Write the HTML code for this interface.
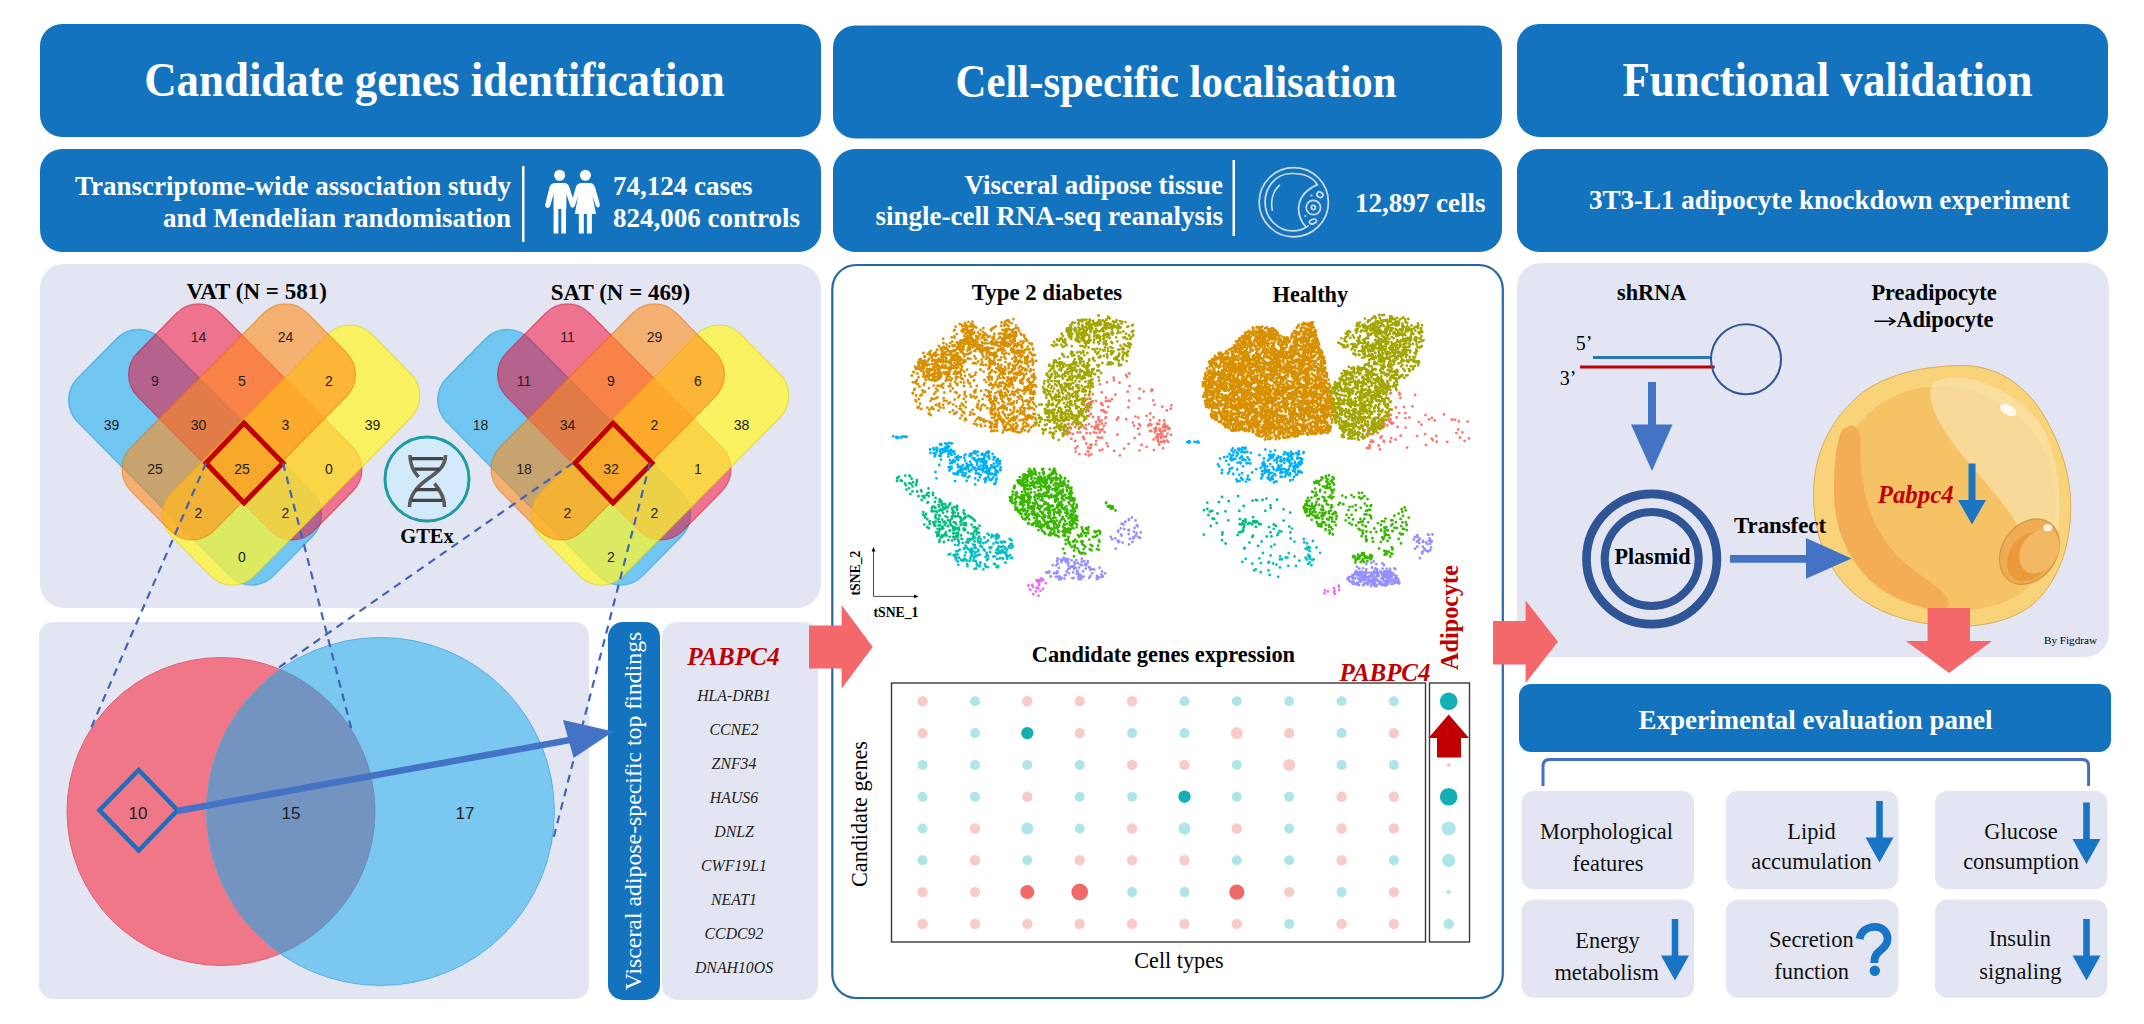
<!DOCTYPE html>
<html><head><meta charset="utf-8"><style>
html,body{margin:0;padding:0;background:#fff;overflow:hidden;width:2144px;height:1024px;}
svg{display:block;font-family:"Liberation Serif", serif;}
</style></head><body>
<svg width="2144" height="1024" viewBox="0 0 2144 1024">
<rect x="40" y="24" width="781" height="113" rx="22" fill="#1473be"/>
<rect x="40" y="149" width="781" height="103" rx="22" fill="#1473be"/>
<rect x="833" y="25.5" width="669" height="113" rx="22" fill="#1473be"/>
<rect x="833" y="149" width="669" height="103" rx="22" fill="#1473be"/>
<rect x="1517" y="24" width="591" height="113" rx="22" fill="#1473be"/>
<rect x="1517" y="149" width="591" height="103" rx="22" fill="#1473be"/>
<text x="434.5" y="96" font-size="47.5" font-weight="bold" font-style="normal" fill="#fff" text-anchor="middle" textLength="580.6" lengthAdjust="spacingAndGlyphs">Candidate genes identification</text>
<text x="1176" y="97" font-size="45.5" font-weight="bold" font-style="normal" fill="#fff" text-anchor="middle" textLength="441" lengthAdjust="spacingAndGlyphs">Cell-specific localisation</text>
<text x="1827.4" y="96" font-size="47.5" font-weight="bold" font-style="normal" fill="#fff" text-anchor="middle" textLength="410" lengthAdjust="spacingAndGlyphs">Functional validation</text>
<text x="511" y="195" font-size="27" font-weight="bold" font-style="normal" fill="#fff" text-anchor="end" >Transcriptome-wide association study</text>
<text x="511" y="227" font-size="27" font-weight="bold" font-style="normal" fill="#fff" text-anchor="end" >and Mendelian randomisation</text>
<text x="613" y="195" font-size="27" font-weight="bold" font-style="normal" fill="#fff" text-anchor="start" >74,124 cases</text>
<text x="613" y="227" font-size="27" font-weight="bold" font-style="normal" fill="#fff" text-anchor="start" >824,006 controls</text>
<rect x="522" y="166" width="2.5" height="76" fill="#fff"/>
<text x="1223" y="194" font-size="27" font-weight="bold" font-style="normal" fill="#fff" text-anchor="end" >Visceral adipose tissue</text>
<text x="1223" y="225" font-size="27" font-weight="bold" font-style="normal" fill="#fff" text-anchor="end" >single-cell RNA-seq reanalysis</text>
<text x="1355" y="212" font-size="27" font-weight="bold" font-style="normal" fill="#fff" text-anchor="start" >12,897 cells</text>
<rect x="1232.5" y="160" width="2.5" height="76" fill="#fff"/>
<text x="1589" y="209" font-size="27" font-weight="bold" font-style="normal" fill="#fff" text-anchor="start" >3T3-L1 adipocyte knockdown experiment</text>
<rect x="40" y="264" width="781" height="344" rx="24" fill="#e3e6f2"/>
<rect x="39" y="622" width="550" height="377" rx="14" fill="#e3e6f2"/>
<rect x="608" y="622" width="52" height="378" rx="15" fill="#1473be"/>
<rect x="662" y="622" width="156" height="378" rx="15" fill="#e3e6f2"/>
<rect x="832.3" y="265" width="670.5" height="733" rx="24" fill="#fff" stroke="#2468aa" stroke-width="2.2"/>
<rect x="1517" y="263" width="592" height="394" rx="24" fill="#e3e6f2"/>
<rect x="1519" y="684" width="592" height="68" rx="12" fill="#1473be"/>
<text x="1815.4" y="729" font-size="27" font-weight="bold" font-style="normal" fill="#fff" text-anchor="middle" >Experimental evaluation panel</text>
<polygon points="809,625.4 841.6,625.4 841.6,605 872.7,647 841.6,688.8 841.6,668.4 809,668.4" fill="#f4686c"/>
<g transform="translate(540,165) scale(0.07328)" fill="#fff"><circle cx="268" cy="140" r="75"/><circle cx="620" cy="140" r="75"/><path d="M185,600 L185,400 L140,555 Q125,590 95,585 Q65,575 72,540 L130,300 Q150,245 210,245 L330,245 Q380,245 400,300 L470,520 Q480,570 450,580 Q420,585 410,550 L360,400 L360,600 Z"/><rect x="185" y="590" width="65" height="345"/><rect x="290" y="590" width="65" height="345"/><path d="M475,670 L520,420 L480,550 Q470,585 440,580 Q415,570 425,530 L490,300 Q510,245 570,245 L680,245 Q730,245 750,300 L815,530 Q825,570 800,580 Q770,585 760,550 L715,420 L765,670 Z"/><rect x="530" y="660" width="68" height="275"/><rect x="640" y="660" width="68" height="275"/></g>
<g transform="translate(1220,150) scale(0.1306)" fill="none" stroke="#cfdcec" stroke-width="13" stroke-linecap="round"><circle cx="565" cy="400" r="265"/><path d="M745,265 C700,190 620,178 545,180 C420,182 345,290 345,400 C345,520 440,620 560,620 C600,620 640,605 660,590 C610,540 595,470 605,420 C620,330 690,290 745,265 Z"/><circle cx="715" cy="440" r="55"/><circle cx="715" cy="440" r="16"/><ellipse cx="765" cy="342" rx="24" ry="20" transform="rotate(30 765 342)"/><ellipse cx="712" cy="548" rx="28" ry="17" transform="rotate(-20 712 548)"/><path d="M455,270 C410,310 385,380 400,460"/></g><g fill="#cfdcec"><circle cx="1311.5" cy="195.5" r="1.1"/><circle cx="1305.5" cy="216" r="1.1"/><circle cx="1308" cy="226" r="1"/></g>
<text x="256.7" y="299" font-size="23" font-weight="bold" font-style="normal" fill="#000" text-anchor="middle" >VAT (N = 581)</text>
<text x="620.5" y="300" font-size="23" font-weight="bold" font-style="normal" fill="#000" text-anchor="middle" >SAT (N = 469)</text>
<g transform="matrix(43.5,-44,-43.5,-44,242,555)">
<rect x="-0.38" y="-0.6" width="1.900" height="4.500" rx="0.5" ry="0.5" fill="#14acf0" fill-opacity="0.55" stroke="#0a90d0" stroke-opacity="0.5" stroke-width="1.2" vector-effect="non-scaling-stroke"/>
<rect x="0.6" y="-0.55" width="1.900" height="4.050" rx="0.5" ry="0.5" fill="#f9002a" fill-opacity="0.5" stroke="#d0002a" stroke-opacity="0.5" stroke-width="1.2" vector-effect="non-scaling-stroke"/>
<rect x="-0.6" y="-0.38" width="4.600" height="1.900" rx="0.5" ry="0.5" fill="#fff530" fill-opacity="0.75" stroke="#d8cc00" stroke-opacity="0.5" stroke-width="1.2" vector-effect="non-scaling-stroke"/>
<rect x="-0.55" y="0.6" width="4.050" height="1.900" rx="0.5" ry="0.5" fill="#ff8c19" fill-opacity="0.6" stroke="#e07000" stroke-opacity="0.5" stroke-width="1.2" vector-effect="non-scaling-stroke"/>
</g>
<text x="111.5" y="429.5" font-family="Liberation Sans, sans-serif" font-size="14" fill="#222" text-anchor="middle">39</text>
<text x="372.5" y="429.5" font-family="Liberation Sans, sans-serif" font-size="14" fill="#222" text-anchor="middle">39</text>
<text x="198.5" y="341.5" font-family="Liberation Sans, sans-serif" font-size="14" fill="#222" text-anchor="middle">14</text>
<text x="285.5" y="341.5" font-family="Liberation Sans, sans-serif" font-size="14" fill="#222" text-anchor="middle">24</text>
<text x="155.0" y="385.5" font-family="Liberation Sans, sans-serif" font-size="14" fill="#222" text-anchor="middle">9</text>
<text x="242.0" y="385.5" font-family="Liberation Sans, sans-serif" font-size="14" fill="#222" text-anchor="middle">5</text>
<text x="329.0" y="385.5" font-family="Liberation Sans, sans-serif" font-size="14" fill="#222" text-anchor="middle">2</text>
<text x="198.5" y="429.5" font-family="Liberation Sans, sans-serif" font-size="14" fill="#222" text-anchor="middle">30</text>
<text x="285.5" y="429.5" font-family="Liberation Sans, sans-serif" font-size="14" fill="#222" text-anchor="middle">3</text>
<text x="155.0" y="473.5" font-family="Liberation Sans, sans-serif" font-size="14" fill="#222" text-anchor="middle">25</text>
<text x="242.0" y="473.5" font-family="Liberation Sans, sans-serif" font-size="14" fill="#222" text-anchor="middle">25</text>
<text x="329.0" y="473.5" font-family="Liberation Sans, sans-serif" font-size="14" fill="#222" text-anchor="middle">0</text>
<text x="198.5" y="517.5" font-family="Liberation Sans, sans-serif" font-size="14" fill="#222" text-anchor="middle">2</text>
<text x="285.5" y="517.5" font-family="Liberation Sans, sans-serif" font-size="14" fill="#222" text-anchor="middle">2</text>
<text x="242.0" y="561.5" font-family="Liberation Sans, sans-serif" font-size="14" fill="#222" text-anchor="middle">0</text>
<polygon points="244,423 283,463 244,503 206,463" fill="none" stroke="#c00000" stroke-width="5" stroke-linejoin="miter"/>
<g transform="matrix(43.5,-44,-43.5,-44,611,555)">
<rect x="-0.38" y="-0.6" width="1.900" height="4.500" rx="0.5" ry="0.5" fill="#14acf0" fill-opacity="0.55" stroke="#0a90d0" stroke-opacity="0.5" stroke-width="1.2" vector-effect="non-scaling-stroke"/>
<rect x="0.6" y="-0.55" width="1.900" height="4.050" rx="0.5" ry="0.5" fill="#f9002a" fill-opacity="0.5" stroke="#d0002a" stroke-opacity="0.5" stroke-width="1.2" vector-effect="non-scaling-stroke"/>
<rect x="-0.6" y="-0.38" width="4.600" height="1.900" rx="0.5" ry="0.5" fill="#fff530" fill-opacity="0.75" stroke="#d8cc00" stroke-opacity="0.5" stroke-width="1.2" vector-effect="non-scaling-stroke"/>
<rect x="-0.55" y="0.6" width="4.050" height="1.900" rx="0.5" ry="0.5" fill="#ff8c19" fill-opacity="0.6" stroke="#e07000" stroke-opacity="0.5" stroke-width="1.2" vector-effect="non-scaling-stroke"/>
</g>
<text x="480.5" y="429.5" font-family="Liberation Sans, sans-serif" font-size="14" fill="#222" text-anchor="middle">18</text>
<text x="741.5" y="429.5" font-family="Liberation Sans, sans-serif" font-size="14" fill="#222" text-anchor="middle">38</text>
<text x="567.5" y="341.5" font-family="Liberation Sans, sans-serif" font-size="14" fill="#222" text-anchor="middle">11</text>
<text x="654.5" y="341.5" font-family="Liberation Sans, sans-serif" font-size="14" fill="#222" text-anchor="middle">29</text>
<text x="524.0" y="385.5" font-family="Liberation Sans, sans-serif" font-size="14" fill="#222" text-anchor="middle">11</text>
<text x="611.0" y="385.5" font-family="Liberation Sans, sans-serif" font-size="14" fill="#222" text-anchor="middle">9</text>
<text x="698.0" y="385.5" font-family="Liberation Sans, sans-serif" font-size="14" fill="#222" text-anchor="middle">6</text>
<text x="567.5" y="429.5" font-family="Liberation Sans, sans-serif" font-size="14" fill="#222" text-anchor="middle">34</text>
<text x="654.5" y="429.5" font-family="Liberation Sans, sans-serif" font-size="14" fill="#222" text-anchor="middle">2</text>
<text x="524.0" y="473.5" font-family="Liberation Sans, sans-serif" font-size="14" fill="#222" text-anchor="middle">18</text>
<text x="611.0" y="473.5" font-family="Liberation Sans, sans-serif" font-size="14" fill="#222" text-anchor="middle">32</text>
<text x="698.0" y="473.5" font-family="Liberation Sans, sans-serif" font-size="14" fill="#222" text-anchor="middle">1</text>
<text x="567.5" y="517.5" font-family="Liberation Sans, sans-serif" font-size="14" fill="#222" text-anchor="middle">2</text>
<text x="654.5" y="517.5" font-family="Liberation Sans, sans-serif" font-size="14" fill="#222" text-anchor="middle">2</text>
<text x="611.0" y="561.5" font-family="Liberation Sans, sans-serif" font-size="14" fill="#222" text-anchor="middle">2</text>
<polygon points="613,423 652,463 613,503 575,463" fill="none" stroke="#c00000" stroke-width="5" stroke-linejoin="miter"/>
<circle cx="427" cy="479" r="42" fill="#d3eafa" stroke="#1f9c9e" stroke-width="3"/>
<g fill="none" stroke="#5a5a5c" stroke-linecap="butt"><path d="M445.5,455 C446,468 433,475 427,479.5 C418,486 409.5,495 409.5,507" stroke-width="3.6"/><path d="M410,455 C410,464 413,471 418.5,477" stroke-width="3.6"/><path d="M434.5,483.5 C440,490 444.5,498 444.5,507" stroke-width="3.6"/><path d="M411.5,458.7 H443 M415,469.2 H439.5 M415,489.7 H438.5 M411.5,500.3 H442" stroke-width="3.3" stroke="#444447"/></g>
<text x="427" y="543" font-size="20.5" font-weight="bold" font-style="normal" fill="#000" text-anchor="middle" >GTEx</text>
<defs><clipPath id="redc"><circle cx="221" cy="811.5" r="154"/></clipPath><clipPath id="bluc"><circle cx="380.4" cy="811.5" r="174"/></clipPath></defs>
<circle cx="221" cy="811.5" r="154" fill="#f07788" stroke="#e0607a" stroke-width="1"/>
<circle cx="380.4" cy="811.5" r="174" fill="#7ac8f0" stroke="#5cb0e0" stroke-width="1"/>
<circle cx="380.4" cy="811.5" r="174" fill="#7393c0" clip-path="url(#redc)"/>
<circle cx="221" cy="811.5" r="154" fill="none" stroke="#6a7fb0" stroke-width="1" stroke-opacity="0.7" clip-path="url(#bluc)"/>
<path d="M0,0" />
<text x="138" y="819" font-family="Liberation Sans, sans-serif" font-size="17" fill="#222" text-anchor="middle">10</text>
<text x="291" y="819" font-family="Liberation Sans, sans-serif" font-size="17" fill="#222" text-anchor="middle">15</text>
<text x="465" y="819" font-family="Liberation Sans, sans-serif" font-size="17" fill="#222" text-anchor="middle">17</text>
<polygon points="138.7,770 177.5,810.3 138.7,850.5 99.5,810.3" fill="none" stroke="#1c6fbf" stroke-width="4.5"/>
<g stroke="#3f64b8" stroke-width="2.2" stroke-dasharray="8,6" fill="none"><line x1="206" y1="463" x2="89.5" y2="731.5"/><line x1="283" y1="463" x2="352" y2="731.5"/><line x1="573" y1="463" x2="278" y2="668"/><line x1="650" y1="463" x2="553" y2="840"/></g>
<line x1="177" y1="811" x2="570" y2="740" stroke="#4472c4" stroke-width="6.5"/>
<polygon points="613.4,731.5 563,720 573.6,758" fill="#4472c4"/>
<text x="0" y="0" transform="translate(640.5,811) rotate(-90)" font-size="23.8" fill="#fff" text-anchor="middle">Visceral adipose-specific top findings</text>
<text x="733.5" y="664.6" font-size="25.3" font-weight="bold" font-style="italic" fill="#c00000" text-anchor="middle" >PABPC4</text>
<text x="734" y="701" font-size="15.8" font-weight="normal" font-style="italic" fill="#222" text-anchor="middle" >HLA-DRB1</text>
<text x="734" y="735" font-size="15.8" font-weight="normal" font-style="italic" fill="#222" text-anchor="middle" >CCNE2</text>
<text x="734" y="769" font-size="15.8" font-weight="normal" font-style="italic" fill="#222" text-anchor="middle" >ZNF34</text>
<text x="734" y="803" font-size="15.8" font-weight="normal" font-style="italic" fill="#222" text-anchor="middle" >HAUS6</text>
<text x="734" y="837" font-size="15.8" font-weight="normal" font-style="italic" fill="#222" text-anchor="middle" >DNLZ</text>
<text x="734" y="871" font-size="15.8" font-weight="normal" font-style="italic" fill="#222" text-anchor="middle" >CWF19L1</text>
<text x="734" y="905" font-size="15.8" font-weight="normal" font-style="italic" fill="#222" text-anchor="middle" >NEAT1</text>
<text x="734" y="939" font-size="15.8" font-weight="normal" font-style="italic" fill="#222" text-anchor="middle" >CCDC92</text>
<text x="734" y="973" font-size="15.8" font-weight="normal" font-style="italic" fill="#222" text-anchor="middle" >DNAH10OS</text>
<text x="1047" y="299.7" font-size="22.8" font-weight="bold" font-style="normal" fill="#000" text-anchor="middle" >Type 2 diabetes</text>
<text x="1310.4" y="301.7" font-size="22.3" font-weight="bold" font-style="normal" fill="#000" text-anchor="middle" >Healthy</text>
<path d="M1139.3 434.2h0M1100.5 430.1h0M1170.7 408.7h0M1141.6 445.0h0M1096.0 401.0h0M1106.4 412.1h0M1151.0 425.1h0M1169.7 428.4h0M1139.6 388.9h0M1162.3 406.8h0M1138.3 417.6h0M1102.0 437.7h0M1107.9 446.3h0M1126.2 375.0h0M1105.7 423.3h0M1154.5 404.8h0M1128.5 407.4h0M1119.8 455.4h0M1150.0 431.0h0M1159.7 428.7h0M1139.4 398.3h0M1102.4 449.6h0M1129.3 373.5h0M1109.9 401.3h0M1167.0 440.6h0M1086.6 433.1h0M1157.5 438.5h0M1160.9 441.8h0M1127.7 391.7h0M1153.6 439.5h0M1154.0 450.1h0M1151.5 391.0h0M1108.3 400.7h0M1119.5 382.7h0M1146.6 415.8h0M1153.2 400.3h0M1117.3 434.7h0M1146.7 446.8h0M1106.7 443.4h0M1150.2 420.2h0M1116.8 419.7h0M1106.9 382.3h0M1080.3 432.4h0M1149.6 423.8h0M1096.2 432.8h0M1159.2 424.1h0M1098.4 419.5h0M1115.4 394.6h0M1090.4 444.8h0M1139.5 450.6h0M1092.8 394.2h0M1127.0 376.9h0M1106.0 417.4h0M1124.2 448.6h0M1134.0 425.7h0M1134.7 438.1h0M1097.9 427.4h0M1101.6 404.1h0M1101.7 392.4h0M1108.2 406.8h0M1111.9 399.2h0M1150.3 413.5h0M1166.8 410.5h0M1096.2 441.1h0M1126.2 419.2h0M1087.2 398.8h0M1138.1 428.7h0M1139.1 424.2h0M1113.7 377.7h0M1163.1 448.2h0M1083.0 436.8h0M1092.8 401.1h0M1095.7 444.4h0M1158.5 442.1h0M1114.1 450.9h0M1101.7 420.3h0M1143.7 391.6h0M1114.1 380.3h0M1089.1 395.3h0M1140.3 425.6h0M1128.6 443.9h0M1151.7 389.6h0M1129.6 386.2h0M1099.9 384.3h0M1165.3 427.2h0M1135.4 416.6h0M1132.8 422.6h0M1083.5 437.1h0M1099.7 421.6h0M1129.1 400.6h0M1171.4 405.3h0M1118.3 417.5h0M1153.5 417.3h0M1148.1 425.7h0M1152.5 390.1h0M1156.1 427.6h0M1163.2 441.8h0M1163.7 440.6h0M1155.7 431.0h0M1159.4 420.4h0M1163.4 425.7h0M1158.6 423.9h0M1168.1 427.9h0M1161.1 431.7h0M1154.7 432.0h0M1161.0 433.4h0M1159.7 430.7h0M1165.1 436.7h0M1157.9 436.7h0M1156.2 429.3h0M1162.8 431.4h0M1160.9 436.4h0M1157.8 440.2h0M1151.3 431.0h0M1165.2 430.6h0M1163.6 436.5h0M1157.2 434.3h0M1168.3 429.0h0M1156.9 423.7h0M1164.6 425.3h0M1154.3 428.7h0M1171.1 434.9h0M1156.0 437.1h0M1159.2 444.7h0M1158.7 434.3h0M1165.3 427.6h0M1161.1 437.9h0M1165.0 430.1h0M1164.6 441.7h0M1167.5 433.6h0M1164.0 420.5h0M1162.8 427.4h0M1166.3 426.6h0M1164.7 423.7h0M1167.3 425.8h0M1161.8 434.2h0M1160.1 430.5h0M1168.3 441.9h0M1151.3 424.7h0M1166.0 436.5h0M1084.1 403.3h0M1075.5 451.6h0M1094.9 427.1h0M1090.1 448.0h0M1104.6 432.2h0M1070.2 427.3h0M1089.0 424.2h0M1084.2 405.2h0M1094.7 428.8h0M1077.4 446.4h0M1105.9 401.0h0M1080.8 423.6h0M1075.2 441.0h0M1102.6 405.1h0M1085.7 454.3h0M1101.9 423.6h0M1068.8 424.0h0M1086.2 443.5h0M1105.9 397.6h0M1090.2 402.5h0M1096.0 422.0h0M1103.4 410.1h0M1101.4 410.4h0M1105.4 417.9h0M1086.1 428.9h0M1068.5 431.3h0M1083.2 416.3h0M1099.4 437.9h0M1091.2 454.4h0M1096.5 424.9h0M1069.8 433.1h0M1090.7 447.8h0M1105.4 412.4h0M1075.5 448.3h0M1102.2 430.3h0M1090.0 433.3h0M1096.9 427.6h0M1091.9 401.6h0M1098.0 429.3h0M1079.4 454.1h0M1088.9 411.0h0M1088.2 447.7h0M1079.9 422.7h0M1088.7 455.5h0M1091.3 407.6h0M1088.9 416.0h0M1084.3 439.2h0M1065.2 427.0h0M1077.6 432.4h0M1099.0 424.6h0M1090.9 414.0h0M1075.2 427.2h0M1086.8 410.1h0M1096.7 426.5h0M1079.4 411.9h0M1099.7 450.4h0M1104.0 411.6h0M1067.4 434.4h0M1093.0 416.9h0M1083.0 437.4h0M1097.6 437.3h0M1089.1 403.0h0M1088.5 451.8h0M1087.8 451.4h0M1084.2 427.6h0M1076.2 424.4h0M1103.9 425.8h0M1072.7 433.9h0M1085.9 425.1h0M1093.9 432.3h0M1091.9 426.6h0M1099.6 432.6h0M1102.5 429.2h0M1071.3 438.8h0M1091.6 444.8h0M1068.1 424.4h0M1098.6 417.1h0M1067.1 430.0h0M1101.3 403.1h0M1088.7 407.7h0M1407.1 447.6h0M1405.6 427.6h0M1444.0 414.4h0M1378.5 414.6h0M1447.3 441.9h0M1384.5 424.1h0M1380.9 423.0h0M1412.4 406.3h0M1436.2 435.9h0M1399.1 413.1h0M1467.6 421.6h0M1377.7 433.0h0M1452.5 419.3h0M1399.3 392.8h0M1383.8 440.6h0M1395.8 407.5h0M1460.0 437.5h0M1390.2 393.6h0M1371.6 440.3h0M1425.5 415.1h0M1436.7 441.7h0M1434.8 420.4h0M1418.9 422.1h0M1464.6 440.8h0M1469.0 438.4h0M1451.8 419.8h0M1417.1 436.1h0M1458.8 421.4h0M1369.4 445.3h0M1388.6 417.0h0M1456.3 433.1h0M1431.7 438.6h0M1405.5 418.1h0M1425.0 434.1h0M1462.4 432.4h0M1390.9 393.1h0M1387.4 405.0h0M1432.0 418.0h0M1390.6 419.5h0M1391.2 438.2h0M1404.0 407.0h0M1399.8 393.9h0M1421.5 424.7h0M1432.8 440.1h0M1405.3 413.1h0M1458.1 429.5h0M1400.4 398.0h0M1396.6 417.5h0M1426.0 444.9h0M1429.1 419.4h0M1409.4 417.6h0M1390.8 415.0h0M1455.2 419.8h0M1415.1 395.0h0M1399.6 394.6h0M1372.5 441.8h0M1390.2 441.7h0M1389.0 419.7h0M1389.7 421.4h0M1379.8 425.3h0M1380.5 437.7h0M1371.4 429.4h0M1372.0 421.7h0M1391.2 422.9h0M1367.5 436.0h0M1400.7 435.7h0M1395.6 439.7h0M1367.0 448.0h0M1381.7 436.5h0M1369.5 448.2h0M1373.3 441.6h0M1370.6 441.8h0M1384.0 441.8h0M1379.6 427.3h0M1369.7 446.6h0M1372.7 434.0h0M1368.6 428.5h0M1380.0 449.4h0M1378.6 445.5h0M1397.6 426.9h0M1383.6 421.9h0M1369.6 433.7h0M1384.8 415.9h0M1391.8 423.7h0M1387.3 425.4h0M1384.0 426.0h0M1393.1 422.8h0M1361.5 425.0h0M1373.6 426.2h0M1378.6 416.9h0" stroke="#F8766D" stroke-width="2.8" stroke-linecap="round" fill="none"/>
<path d="M951.7 337.3h0M992.6 328.5h0M978.2 361.5h0M918.5 377.4h0M915.9 369.1h0M964.3 413.3h0M989.7 426.9h0M983.4 364.9h0M1018.6 352.9h0M949.8 412.1h0M933.8 385.7h0M991.1 362.2h0M996.3 368.4h0M950.5 386.2h0M967.9 354.0h0M1010.5 398.9h0M941.8 384.9h0M976.9 418.8h0M1002.4 352.7h0M963.5 405.5h0M930.2 375.3h0M916.2 395.5h0M1006.8 384.8h0M1020.7 355.6h0M998.2 387.2h0M983.7 371.6h0M1016.2 426.6h0M970.5 395.0h0M918.8 399.2h0M1014.0 352.3h0M959.5 395.5h0M914.1 372.3h0M918.6 406.7h0M960.1 418.3h0M921.3 370.8h0M979.9 419.7h0M1013.7 417.5h0M946.1 367.0h0M940.4 374.9h0M984.9 349.9h0M957.4 384.0h0M1030.4 398.0h0M975.7 389.8h0M995.8 326.4h0M1023.7 408.1h0M1020.6 410.1h0M960.3 365.2h0M924.2 391.7h0M923.9 361.2h0M988.0 337.0h0M942.8 359.4h0M956.8 334.1h0M1017.4 432.0h0M969.5 374.7h0M954.1 350.1h0M1014.9 338.5h0M977.3 336.8h0M1019.2 398.6h0M943.9 361.6h0M932.1 407.2h0M977.8 408.0h0M952.5 345.4h0M1012.7 431.1h0M1017.8 411.0h0M1013.5 403.5h0M939.6 378.5h0M943.6 398.2h0M1030.8 370.6h0M1028.4 431.5h0M1030.6 361.3h0M938.8 345.8h0M989.3 421.6h0M1016.3 374.3h0M992.9 410.3h0M921.8 394.6h0M1025.0 408.3h0M1005.0 374.1h0M933.6 409.1h0M952.8 410.4h0M1032.7 364.8h0M1001.8 339.4h0M1024.4 411.0h0M929.5 413.3h0M1033.8 394.3h0M955.1 382.0h0M1032.6 393.4h0M977.1 425.3h0M965.5 418.4h0M1014.5 344.1h0M942.7 353.3h0M941.3 386.3h0M943.7 367.5h0M955.5 371.9h0M984.2 422.0h0M974.0 380.1h0M966.3 340.9h0M932.8 373.6h0M1001.9 382.9h0M952.0 378.6h0M980.7 408.5h0M924.5 383.3h0M942.3 351.5h0M1007.8 377.4h0M981.5 405.8h0M1025.3 370.2h0M987.8 377.2h0M975.3 398.2h0M967.8 380.3h0M998.7 418.9h0M1029.0 349.5h0M981.2 426.4h0M1016.2 335.7h0M926.5 370.1h0M920.4 395.6h0M1009.2 421.2h0M930.6 400.9h0M993.8 336.4h0M1021.6 429.2h0M961.0 375.1h0M1035.0 414.0h0M931.4 368.9h0M975.7 358.5h0M935.7 356.1h0M1001.5 322.5h0M980.5 369.9h0M989.2 377.9h0M1009.8 429.6h0M1013.6 349.4h0M982.6 399.1h0M997.3 368.2h0M990.6 410.5h0M968.0 358.5h0M980.4 424.6h0M977.1 347.1h0M950.2 354.6h0M1006.2 352.9h0M973.8 340.3h0M1002.9 382.3h0M934.9 373.7h0M1013.6 368.9h0M973.1 414.2h0M960.4 377.3h0M997.2 430.8h0M954.1 413.9h0M999.6 391.9h0M961.8 359.4h0M920.1 403.7h0M943.2 338.7h0M1020.1 395.7h0M946.5 347.6h0M947.9 372.0h0M930.9 370.5h0M1032.8 381.9h0M949.9 360.4h0M970.6 376.9h0M936.4 377.1h0M922.5 365.3h0M949.3 346.5h0M984.4 379.8h0M1005.1 394.3h0M1000.7 419.2h0M959.9 357.0h0M1001.8 392.7h0M1022.7 390.9h0M1003.0 411.7h0M928.7 379.2h0M974.3 414.2h0M1011.8 413.3h0M984.3 420.8h0M996.6 398.3h0M927.9 360.9h0M981.1 390.9h0M989.5 396.9h0M1011.0 404.5h0M974.1 380.5h0M993.7 327.7h0M1003.3 348.7h0M1002.4 343.4h0M1003.7 430.1h0M973.0 363.4h0M971.1 397.2h0M1007.1 389.7h0M991.6 329.0h0M1004.2 354.6h0M995.3 398.2h0M995.7 353.0h0M975.8 372.6h0M969.5 333.6h0M1023.0 342.7h0M1033.5 425.6h0M913.4 371.9h0M1013.7 429.2h0M967.4 350.5h0M937.6 385.7h0M929.0 379.3h0M1013.8 377.5h0M1022.1 399.4h0M911.7 375.6h0M967.6 354.3h0M928.8 359.0h0M1016.1 333.8h0M1027.0 400.5h0M1023.9 352.9h0M957.8 364.5h0M1036.1 386.6h0M956.3 368.5h0M942.4 350.2h0M975.1 341.7h0M1021.8 411.7h0M990.1 423.1h0M1028.8 382.1h0M1001.2 325.9h0M1002.8 371.0h0M1005.3 392.8h0M970.3 359.0h0M948.5 403.5h0M1033.3 349.6h0M993.2 354.2h0M980.9 364.7h0M973.4 345.1h0M967.5 336.0h0M954.0 330.6h0M941.1 349.4h0M982.5 420.1h0M1005.0 366.8h0M963.0 379.3h0M958.4 358.4h0M974.2 391.1h0M1019.1 344.6h0M945.1 348.3h0M961.2 370.5h0M1030.5 415.8h0M915.3 400.1h0M1023.2 373.6h0M1014.4 416.6h0M1032.8 348.3h0M976.5 397.0h0M1028.9 401.5h0M992.2 406.4h0M968.4 382.4h0M991.9 354.5h0M990.8 398.9h0M976.8 385.9h0M959.8 345.5h0M948.9 372.1h0M1031.1 392.8h0M1021.7 373.8h0M940.6 348.1h0M1031.3 399.6h0M973.5 396.2h0M963.8 349.3h0M994.7 424.4h0M953.5 367.6h0M996.6 342.6h0M1010.9 403.5h0M974.4 343.4h0M1032.5 355.4h0M1013.8 346.3h0M938.9 405.9h0M973.2 341.4h0M939.2 367.2h0M994.4 427.0h0M929.5 364.6h0M918.8 364.6h0M1023.5 419.7h0M1002.8 432.5h0M1027.7 357.4h0M1004.5 323.9h0M994.3 362.9h0M958.0 357.6h0M946.2 359.9h0M1031.8 343.6h0M955.8 412.7h0M1014.0 369.0h0M917.4 373.6h0M935.4 361.3h0M962.6 411.6h0M1007.1 324.9h0M1026.3 349.2h0M1004.7 421.4h0M953.6 350.9h0M1031.0 389.7h0M944.0 400.9h0M950.8 351.3h0M1025.8 391.6h0M940.5 373.8h0M1030.8 427.6h0M959.6 348.6h0M965.0 375.8h0M1027.3 340.9h0M1011.6 403.4h0M1014.1 407.3h0M987.2 357.2h0M951.2 361.0h0M1009.0 329.2h0M935.9 405.0h0M915.5 382.5h0M1021.7 431.4h0M923.3 376.4h0M1000.0 370.6h0M940.5 367.2h0M988.8 396.1h0M1004.7 415.6h0M994.3 333.9h0M1016.4 353.4h0M982.1 362.3h0M1003.5 342.7h0M942.2 347.9h0M983.5 357.0h0M974.7 346.3h0M1012.3 393.8h0M970.6 412.5h0M1016.3 423.2h0M1032.9 385.9h0M1027.5 362.2h0M1019.5 370.8h0M943.7 407.8h0M985.8 390.1h0M938.5 361.8h0M943.1 387.7h0M992.7 343.2h0M996.0 341.1h0M950.3 343.2h0M1010.7 382.0h0M960.7 382.2h0M991.1 330.6h0M931.7 398.5h0M962.5 352.2h0M950.3 384.0h0M955.9 367.2h0M1019.3 432.4h0M956.7 342.5h0M1002.3 343.2h0M964.2 412.6h0M968.9 338.6h0M913.1 382.4h0M991.3 422.7h0M922.4 390.3h0M957.6 377.1h0M929.5 352.2h0M976.4 424.4h0M924.8 375.5h0M1011.9 429.1h0M1029.1 430.1h0M1027.0 364.0h0M1024.3 390.1h0M1014.3 338.3h0M1009.5 345.3h0M961.8 415.5h0M1014.9 340.9h0M938.5 365.3h0M976.0 363.5h0M1001.9 421.3h0M916.4 383.6h0M1005.9 324.6h0M1016.0 333.6h0M986.2 382.2h0M989.6 354.8h0M963.8 385.9h0M964.5 394.4h0M967.1 369.6h0M914.2 389.9h0M972.4 346.8h0M1006.7 408.1h0M968.5 340.5h0M970.4 332.4h0M927.3 368.8h0M922.7 370.0h0M990.8 329.6h0M1002.9 407.8h0M974.2 362.8h0M1018.4 432.4h0M1002.8 412.0h0M1025.8 338.9h0M1009.8 425.0h0M919.4 359.8h0M1005.8 338.2h0M1023.3 351.2h0M1013.2 336.5h0M974.0 423.8h0M937.3 349.9h0M974.5 356.2h0M996.2 421.0h0M932.3 408.6h0M925.6 380.0h0M990.8 360.8h0M1020.4 382.8h0M983.8 419.6h0M990.0 364.7h0M1011.0 350.1h0M1035.1 385.3h0M956.3 406.3h0M966.5 340.2h0M1004.2 325.7h0M1013.7 348.8h0M991.2 431.0h0M984.5 395.0h0M988.3 368.9h0M975.3 421.1h0M924.5 360.5h0M939.3 386.0h0M984.9 343.3h0M989.2 373.7h0M923.2 392.1h0M1020.2 408.3h0M961.5 350.0h0M912.7 392.9h0M981.5 359.7h0M992.0 370.2h0M1028.4 402.8h0M916.8 380.1h0M962.0 347.1h0M918.5 407.9h0M912.8 382.3h0M936.2 388.7h0M974.6 392.5h0M1012.9 340.0h0M949.9 354.1h0M1009.1 400.8h0M1004.4 372.7h0M1004.0 371.2h0M953.2 404.6h0M998.1 415.4h0M1000.2 350.2h0M980.5 369.4h0M1009.8 379.2h0M944.4 392.5h0M1031.9 344.7h0M943.8 346.9h0M1004.2 426.6h0M1004.5 357.1h0M1021.3 357.3h0M990.1 398.3h0M994.4 430.5h0M969.9 414.8h0M998.5 416.8h0M965.9 401.8h0M982.5 354.9h0M937.7 390.4h0M954.4 336.3h0M997.8 391.6h0M998.4 403.2h0M919.5 386.7h0M956.7 412.3h0M1013.7 420.6h0M1025.6 426.5h0M1017.2 411.7h0M990.5 413.1h0M990.2 352.6h0M1005.9 343.4h0M951.1 368.0h0M946.6 400.8h0M957.3 356.4h0M1031.7 377.0h0M1017.7 389.9h0M915.1 366.8h0M965.8 407.3h0M954.6 399.6h0M978.5 344.7h0M1019.0 330.5h0M1013.7 339.5h0M1006.5 430.3h0M911.8 375.5h0M972.7 409.9h0M934.3 376.0h0M954.6 413.9h0M946.7 344.5h0M998.7 376.4h0M925.0 391.9h0M921.4 409.0h0M998.4 408.8h0M989.7 360.3h0M961.4 364.7h0M937.0 349.9h0M1023.9 376.7h0M940.4 372.2h0M977.7 405.2h0M1005.4 393.0h0M954.8 357.1h0M930.7 415.2h0M994.0 403.8h0M932.4 369.7h0M1007.9 385.5h0M927.0 372.3h0M1021.9 347.1h0M935.2 354.2h0M999.1 415.2h0M942.2 357.1h0M976.5 338.4h0M952.3 341.6h0M1033.1 402.3h0M924.0 363.5h0M1034.2 409.7h0M1002.9 369.2h0M935.8 392.1h0M959.8 324.1h0M961.1 409.3h0M997.9 376.6h0M990.3 372.4h0M929.0 388.2h0M961.8 403.7h0M1024.8 368.7h0M983.0 404.6h0M963.9 346.0h0M1001.5 419.3h0M1008.0 399.1h0M1017.8 396.8h0M991.4 371.4h0M950.4 391.0h0M923.5 367.5h0M1009.0 400.5h0M990.0 348.4h0M964.2 371.5h0M988.9 366.4h0M995.7 425.0h0M934.1 393.9h0M1008.5 364.0h0M916.0 381.4h0M931.4 408.3h0M1028.8 378.7h0M923.9 385.0h0M978.9 401.0h0M975.3 392.2h0M1014.9 379.0h0M937.5 397.3h0M960.3 406.1h0M955.7 326.7h0M945.5 365.3h0M963.8 398.9h0M955.3 350.1h0M939.3 403.7h0M1028.7 379.6h0M938.6 410.5h0M960.2 344.2h0M927.4 407.7h0M1012.4 391.7h0M969.9 383.5h0M955.4 392.2h0M1013.6 412.1h0M969.8 353.4h0M979.8 334.4h0M1015.5 360.2h0M1017.6 350.4h0M958.3 348.8h0M964.5 341.2h0M946.4 347.9h0M949.0 374.3h0M964.8 392.0h0M993.7 361.1h0M1027.3 416.4h0M1024.5 408.5h0M928.8 413.8h0M993.2 348.4h0M940.5 407.6h0M954.6 337.5h0M1024.3 409.4h0M987.3 408.2h0M994.8 420.9h0M1009.8 414.7h0M935.9 398.3h0M977.6 403.8h0M966.1 419.6h0M980.6 350.1h0M969.6 336.6h0M972.7 376.4h0M978.7 417.4h0M969.7 383.6h0M994.4 414.9h0M958.1 367.4h0M990.9 391.9h0M914.8 388.9h0M996.6 425.1h0M975.1 374.8h0M1001.0 390.7h0M957.0 373.7h0M976.9 407.0h0M937.6 369.3h0M964.0 382.6h0M1014.6 353.3h0M1014.7 365.7h0M974.2 350.9h0M993.1 409.4h0M952.6 356.0h0M948.7 386.3h0M990.6 408.5h0M916.3 401.6h0M1022.0 381.7h0M1026.4 388.8h0M993.5 409.1h0M1025.0 389.1h0M988.3 390.8h0M998.3 387.4h0M996.4 344.2h0M994.6 371.8h0M1006.6 331.7h0M1008.1 423.1h0M993.2 361.8h0M1014.1 408.8h0M981.5 349.3h0M949.0 367.8h0M951.1 368.8h0M991.5 425.4h0M918.1 384.2h0M1012.5 385.0h0M1026.1 370.5h0M985.2 425.8h0M1033.8 373.8h0M962.8 331.8h0M991.8 344.2h0M1001.2 347.6h0M1002.9 341.4h0M917.5 407.4h0M1000.4 416.6h0M1002.5 329.8h0M989.8 400.1h0M913.1 393.5h0M1013.4 329.3h0M950.1 402.4h0M957.2 385.0h0M966.1 396.5h0M929.4 410.0h0M956.7 392.9h0M990.0 367.3h0M959.5 408.8h0M1029.4 408.6h0M982.1 353.2h0M999.2 413.4h0M952.8 388.5h0M1033.4 413.8h0M986.4 355.0h0M964.8 420.2h0M958.3 397.4h0M986.5 421.1h0M1012.2 352.2h0M964.1 386.3h0M1013.2 420.1h0M1012.7 417.9h0M982.7 351.1h0M1017.6 411.1h0M996.8 423.1h0M954.6 329.9h0M980.5 410.0h0M936.3 404.7h0M1027.7 346.6h0M987.1 396.5h0M969.4 343.6h0M943.1 404.8h0M1010.2 372.0h0M1007.8 346.5h0M983.7 421.2h0M1021.9 379.0h0M970.8 386.6h0M933.8 399.2h0M956.6 383.8h0M961.6 378.5h0M924.5 391.5h0M1009.7 337.9h0M985.9 359.1h0M1019.5 375.0h0M982.1 349.7h0M1008.6 368.2h0M1029.6 406.6h0M1013.6 428.7h0M980.9 418.3h0M986.0 365.0h0M943.4 383.8h0M991.3 427.9h0M995.0 364.5h0M967.3 338.3h0M943.2 359.9h0M1024.1 422.1h0M1015.9 325.6h0M1009.5 400.1h0M992.1 431.2h0M1005.6 426.0h0M995.9 353.9h0M985.2 405.6h0M924.4 356.8h0M971.4 339.3h0M1000.9 342.3h0M1019.6 420.3h0M928.7 370.6h0M1016.5 391.0h0M967.8 358.5h0M1014.1 374.0h0M989.8 336.4h0M1000.5 382.6h0M944.5 366.6h0M930.7 350.8h0M1016.2 357.9h0M932.2 375.6h0M994.8 344.1h0M970.9 352.5h0M943.5 343.0h0M1036.0 424.4h0M923.4 352.9h0M1002.1 353.3h0M1012.1 358.7h0M1015.3 379.6h0M934.5 369.3h0M1014.8 338.5h0M995.3 407.7h0M1021.8 345.0h0M1016.7 377.6h0M999.9 346.0h0M1016.9 400.8h0M1026.8 387.2h0M1022.9 368.1h0M1026.8 360.1h0M1028.3 418.0h0M1031.8 375.6h0M1029.9 352.6h0M995.6 414.4h0M1004.6 341.3h0M1004.8 388.5h0M1008.5 379.8h0M992.3 401.6h0M1027.1 418.1h0M1002.3 401.2h0M1005.3 405.6h0M1034.0 377.6h0M1011.9 381.5h0M998.8 412.8h0M1021.2 344.8h0M1015.1 380.6h0M1021.4 334.7h0M1029.7 401.9h0M1010.9 378.2h0M1000.2 336.8h0M1006.5 338.4h0M1015.8 417.6h0M993.6 386.1h0M1023.6 341.4h0M1027.6 426.0h0M1005.7 369.4h0M1028.2 380.9h0M1006.0 426.4h0M1025.1 360.5h0M998.3 360.1h0M1026.5 423.3h0M1027.0 416.1h0M988.9 380.0h0M1034.1 425.6h0M998.7 369.6h0M1017.9 363.3h0M1012.8 331.0h0M1007.9 378.6h0M1033.1 392.7h0M1026.7 420.2h0M1018.3 352.5h0M1020.2 353.3h0M1013.4 424.5h0M1017.3 350.8h0M1012.3 370.9h0M1033.8 354.9h0M1001.5 394.3h0M992.3 388.4h0M1034.1 379.6h0M999.7 374.5h0M1012.9 339.7h0M992.4 337.8h0M1000.9 367.9h0M1000.7 350.1h0M990.6 383.2h0M1028.2 390.2h0M1014.8 394.6h0M996.3 401.1h0M1009.3 383.4h0M1016.9 374.7h0M1001.8 349.9h0M997.3 379.5h0M1005.4 387.5h0M1029.3 349.5h0M1014.1 377.2h0M1001.0 407.9h0M1029.8 371.6h0M989.4 365.9h0M1008.2 403.9h0M991.7 348.1h0M1034.2 404.2h0M994.0 360.3h0M1003.9 397.3h0M1017.1 416.4h0M1027.3 380.1h0M1023.2 404.7h0M1024.2 375.4h0M1025.5 400.9h0M1024.5 387.5h0M1011.1 428.7h0M1014.8 369.1h0M1025.4 418.9h0M1016.6 365.0h0M1008.9 373.5h0M1022.4 355.5h0M1005.8 384.2h0M1005.5 358.7h0M1025.6 416.4h0M1011.2 372.0h0M995.5 356.7h0M993.5 386.4h0M1015.3 333.1h0M1032.3 358.9h0M1028.4 415.1h0M1007.6 423.0h0M1014.5 377.8h0M1032.3 408.0h0M1012.1 380.0h0M1020.5 366.0h0M1004.1 388.5h0M1003.8 427.1h0M1020.1 380.9h0M991.2 364.4h0M1006.3 384.8h0M1015.0 419.7h0M1034.5 376.7h0M1008.3 391.8h0M1036.1 361.0h0M1012.8 412.7h0M994.8 358.2h0M1011.9 335.5h0M1031.0 398.9h0M1030.7 369.5h0M994.1 355.1h0M1011.8 378.7h0M995.7 343.4h0M1017.8 389.4h0M1018.1 328.1h0M1006.8 409.6h0M1001.6 399.0h0M1028.4 387.6h0M1019.7 344.9h0M1011.1 383.9h0M999.6 394.2h0M1015.0 368.4h0M992.3 340.6h0M1024.2 335.1h0M991.3 342.1h0M1012.4 413.5h0M1016.9 411.7h0M1024.8 358.7h0M1022.0 362.1h0M994.7 352.6h0M1015.4 361.6h0M1008.7 365.6h0M1015.4 428.4h0M1008.2 391.3h0M1032.8 416.9h0M1002.0 421.8h0M1027.0 356.7h0M1016.4 428.4h0M1011.0 427.3h0M998.4 366.1h0M1022.2 347.7h0M1001.7 419.2h0M1010.5 410.1h0M998.4 342.4h0M1004.2 343.8h0M1034.8 355.2h0M1014.3 336.0h0M1012.9 365.6h0M1006.4 330.6h0M992.4 413.8h0M1003.8 350.2h0M995.8 354.5h0M1019.5 360.8h0M994.0 400.6h0M990.9 352.9h0M1008.4 414.9h0M1026.5 340.9h0M1003.9 402.5h0M1005.1 428.3h0M996.7 427.4h0M1011.5 348.3h0M1008.9 337.8h0M1021.6 352.0h0M1031.2 387.7h0M1004.6 350.4h0M1016.7 346.7h0M1011.9 382.8h0M999.8 407.8h0M1005.5 395.4h0M1014.6 357.4h0M1005.7 332.8h0M995.1 416.5h0M1002.3 395.9h0M991.7 384.9h0M1004.3 378.2h0M1001.8 348.2h0M992.6 401.8h0M1000.4 367.6h0M1031.7 408.2h0M1030.4 417.6h0M992.9 353.7h0M1019.4 361.9h0M1006.9 395.5h0M1021.2 350.6h0M1028.6 361.9h0M1017.7 343.3h0M992.0 423.3h0M1023.0 401.4h0M994.4 345.1h0M1001.4 365.1h0M988.2 357.4h0M1018.2 343.1h0M1028.2 385.8h0M1022.1 351.3h0M1008.0 398.3h0M1028.0 408.4h0M1029.0 389.9h0M988.6 350.2h0M991.8 410.0h0M996.8 423.5h0M1021.0 366.5h0M1023.6 414.1h0M1000.3 333.3h0M1033.6 369.8h0M1032.8 399.1h0M1023.2 414.2h0M1017.7 373.0h0M989.0 399.8h0M1007.7 379.4h0M1021.4 411.6h0M999.3 383.2h0M1034.7 393.2h0M1013.4 350.7h0M989.2 362.6h0M1006.8 345.5h0M1001.8 338.4h0M1021.6 396.8h0M998.1 349.9h0M1012.0 372.1h0M1033.0 361.9h0M1001.2 420.2h0M993.3 385.0h0M1002.9 412.6h0M1013.7 406.6h0M994.7 396.3h0M1016.2 373.9h0M1024.6 414.3h0M992.0 355.1h0M1004.3 346.0h0M989.3 354.2h0M996.1 400.2h0M1008.7 335.8h0M1002.5 374.7h0M1004.4 341.8h0M990.4 401.9h0M1035.3 385.1h0M991.7 376.9h0M1008.0 344.2h0M1032.2 393.9h0M1017.6 425.7h0M1018.9 350.9h0M998.5 338.6h0M1028.2 355.8h0M995.5 393.2h0M1028.5 424.8h0M994.7 409.3h0M1027.8 404.6h0M1002.6 343.6h0M1027.5 358.5h0M1004.7 383.7h0M1004.7 414.4h0M1014.6 392.1h0M1027.2 400.6h0M1031.5 426.8h0M1011.0 378.1h0M994.1 356.2h0M1015.3 332.2h0M1020.6 341.3h0M1008.4 429.5h0M1008.2 344.3h0M1028.3 417.0h0M1025.6 370.0h0M1000.4 395.8h0M1012.0 369.5h0M1003.2 371.4h0M1019.6 413.8h0M1001.0 371.9h0M1014.4 361.5h0M1002.4 373.8h0M1034.8 422.8h0M1034.3 391.2h0M1020.1 390.1h0M1001.1 385.9h0M1033.9 376.0h0M1018.6 356.2h0M1003.4 420.2h0M1020.2 372.4h0M990.5 395.7h0M1004.9 387.0h0M1007.1 381.4h0M1014.5 366.8h0M992.0 343.2h0M1030.7 383.4h0M991.9 417.7h0M998.9 333.8h0M1012.8 350.9h0M1010.7 384.0h0M997.6 386.1h0M991.9 379.6h0M1015.7 332.2h0M1006.7 331.5h0M1008.2 417.9h0M1013.8 401.6h0M1024.1 336.0h0M991.4 414.2h0M1005.8 342.2h0M1034.3 385.0h0M1025.0 338.4h0M998.1 364.2h0M996.9 356.2h0M1021.6 370.0h0M1030.7 391.4h0M1029.9 385.0h0M1032.1 418.7h0M994.7 405.0h0M1003.3 407.0h0M1020.3 413.7h0M992.4 364.2h0M1023.1 427.1h0M1016.4 334.3h0M1013.7 411.3h0M1020.0 351.3h0M995.9 372.3h0M1028.2 387.0h0M991.8 411.0h0M995.5 384.1h0M1000.8 398.6h0M1005.3 339.2h0M1030.0 382.3h0M1020.7 411.8h0M1003.4 339.9h0M1011.3 418.9h0M995.4 412.9h0M1020.2 366.4h0M1010.0 340.7h0M1028.5 366.5h0M1029.9 390.2h0M990.0 359.5h0M997.1 421.2h0M1015.7 328.2h0M994.7 362.9h0M1009.6 386.6h0M1005.6 362.1h0M1019.8 353.3h0M999.9 378.1h0M999.4 385.7h0M1012.7 428.1h0M1014.3 407.8h0M1029.9 408.1h0M1017.9 392.8h0M1004.4 354.2h0M1026.0 418.9h0M1033.2 398.0h0M1001.4 406.9h0M1023.2 379.1h0M1018.0 361.8h0M1013.8 367.8h0M989.3 360.3h0M1010.3 363.6h0M998.4 349.1h0M1003.7 338.3h0M1008.9 372.2h0M1014.7 356.5h0M1001.3 357.2h0M1022.6 383.7h0M1033.1 360.7h0M1032.3 387.2h0M990.3 343.0h0M1015.3 431.4h0M1004.1 408.1h0M1007.7 418.4h0M989.6 376.4h0M1031.2 353.6h0M994.5 352.8h0M1021.5 347.3h0M1006.2 345.4h0M1016.4 417.9h0M1018.7 345.0h0M1022.9 428.8h0M1016.3 332.1h0M1026.7 419.2h0M1003.3 338.4h0M995.7 382.2h0M1030.0 393.4h0M1002.6 405.4h0M1018.7 367.8h0M1020.2 360.4h0M989.1 368.7h0M988.5 391.9h0M1003.0 377.5h0M1016.1 351.5h0M1032.5 385.1h0M1016.9 402.6h0M1002.7 333.7h0M994.1 339.0h0M1027.0 369.7h0M1013.2 387.8h0M1014.0 395.3h0M1016.3 359.6h0M1023.3 351.6h0M1021.8 406.9h0M1025.0 357.3h0M1024.9 430.3h0M1008.9 353.9h0M1012.4 426.4h0M1010.0 395.1h0M1025.0 363.1h0M989.3 378.3h0M1014.0 343.3h0M1033.2 363.4h0M993.7 342.8h0M1023.1 424.2h0M1025.2 350.0h0M1035.4 378.0h0M1018.1 361.1h0M1026.3 373.8h0M1002.4 422.3h0M991.6 403.7h0M989.5 394.0h0M1006.3 417.9h0M989.2 385.1h0M1006.7 424.0h0M1033.5 392.0h0M997.5 351.0h0M999.4 370.9h0M997.8 345.7h0M1024.2 393.7h0M997.1 385.7h0M994.1 417.8h0M1029.7 352.7h0M1023.8 413.4h0M1000.4 359.7h0M1010.5 420.9h0M994.3 398.1h0M1016.1 373.0h0M1015.2 420.0h0M996.7 420.1h0M1004.3 408.7h0M1029.4 343.4h0M993.8 403.9h0M991.1 341.9h0M1020.4 333.3h0M1003.2 423.9h0M1022.1 419.9h0M998.0 410.1h0M1011.5 348.8h0M1007.8 334.9h0M1002.1 419.5h0M920.8 359.6h0M923.9 368.0h0M922.2 370.2h0M933.2 360.0h0M963.2 353.8h0M925.8 379.9h0M961.3 369.9h0M936.1 362.5h0M950.9 366.6h0M943.3 362.2h0M951.0 380.5h0M960.8 369.3h0M935.6 352.5h0M936.6 380.1h0M934.9 355.3h0M946.7 378.1h0M927.9 364.8h0M959.2 372.1h0M951.3 352.7h0M948.7 362.2h0M931.1 380.1h0M959.7 360.6h0M945.8 381.0h0M926.8 365.6h0M953.9 355.0h0M952.2 355.7h0M942.3 364.9h0M950.4 352.7h0M947.8 362.0h0M926.2 364.9h0M928.4 377.4h0M939.5 369.5h0M942.1 359.2h0M963.6 361.4h0M942.2 361.3h0M957.6 349.1h0M923.5 373.7h0M938.8 366.1h0M960.5 340.9h0M934.6 374.2h0M957.8 344.3h0M957.0 361.1h0M935.4 381.1h0M951.3 358.0h0M939.8 372.7h0M954.7 345.4h0M950.5 354.5h0M942.0 349.1h0M934.1 353.4h0M925.0 363.1h0M952.5 350.6h0M958.7 342.9h0M948.2 375.3h0M925.1 356.9h0M956.5 365.1h0M937.9 354.6h0M952.2 351.5h0M936.0 366.4h0M957.5 353.9h0M934.8 363.5h0M934.2 367.1h0M954.5 355.1h0M942.3 360.0h0M938.9 358.6h0M959.0 356.6h0M939.5 376.6h0M937.7 359.8h0M941.6 373.9h0M950.0 370.3h0M950.5 362.4h0M955.2 371.5h0M954.4 362.9h0M917.3 367.8h0M952.2 359.4h0M917.3 368.2h0M936.6 363.7h0M960.7 345.2h0M932.1 360.9h0M960.0 362.5h0M941.5 356.8h0M960.4 372.9h0M959.9 349.9h0M942.9 354.8h0M939.0 359.7h0M945.4 354.5h0M957.0 347.5h0M963.2 362.5h0M942.7 356.3h0M944.4 352.7h0M928.9 372.6h0M929.9 369.0h0M957.0 364.0h0M938.5 378.5h0M938.0 376.1h0M960.2 342.1h0M963.4 362.7h0M956.9 360.1h0M950.2 367.5h0M958.9 345.2h0M963.1 347.8h0M956.0 379.2h0M936.4 366.9h0M928.1 377.3h0M917.4 368.4h0M945.3 352.5h0M962.8 352.7h0M959.1 345.5h0M934.6 366.1h0M926.2 362.1h0M953.1 357.2h0M958.4 344.2h0M964.3 361.3h0M929.8 353.7h0M954.2 360.0h0M940.1 375.5h0M946.1 361.9h0M928.8 376.7h0M959.3 348.6h0M946.2 379.9h0M932.7 378.9h0M932.1 358.0h0M927.5 370.4h0M923.9 372.3h0M943.7 372.3h0M946.0 358.5h0M919.5 366.3h0M921.4 363.4h0M933.1 354.9h0M932.0 374.6h0M960.8 359.3h0M961.1 344.0h0M940.7 361.7h0M920.6 358.8h0M923.1 361.7h0M941.3 354.5h0M924.9 356.1h0M927.1 375.8h0M941.0 376.6h0M940.3 372.4h0M944.7 368.1h0M926.6 370.7h0M941.9 351.4h0M961.7 342.6h0M945.1 348.9h0M946.0 372.1h0M927.4 364.3h0M947.2 368.2h0M957.7 353.5h0M957.4 358.5h0M964.3 356.4h0M927.4 370.0h0M932.0 380.2h0M939.9 360.0h0M955.8 377.4h0M954.3 365.9h0M924.9 365.4h0M959.3 372.2h0M919.3 369.3h0M958.6 372.9h0M945.7 357.4h0M958.2 372.2h0M960.6 351.7h0M965.4 361.5h0M927.8 374.4h0M940.5 377.4h0M950.8 369.0h0M935.2 372.1h0M956.5 367.9h0M949.0 374.3h0M932.4 364.2h0M958.8 372.5h0M957.5 356.7h0M946.5 358.4h0M933.2 374.7h0M947.3 351.4h0M951.6 357.7h0M949.5 373.1h0M920.8 367.9h0M965.3 354.4h0M926.3 376.6h0M946.8 376.8h0M935.3 360.1h0M965.2 360.4h0M958.5 345.9h0M938.5 373.2h0M927.7 353.9h0M919.7 362.4h0M960.2 360.7h0M934.4 378.2h0M961.9 367.2h0M918.4 365.4h0M938.0 379.5h0M933.6 367.0h0M947.9 354.9h0M942.1 367.6h0M962.6 360.1h0M933.7 380.2h0M950.7 362.6h0M938.2 370.7h0M961.7 369.8h0M922.1 363.8h0M935.2 370.6h0M948.5 350.9h0M954.9 351.3h0M943.3 356.8h0M957.1 367.6h0M934.6 379.7h0M952.1 368.2h0M944.9 373.9h0M956.5 353.7h0M921.8 360.8h0M961.0 345.9h0M953.6 346.3h0M930.2 355.2h0M931.4 357.6h0M935.3 355.3h0M925.2 377.4h0M938.3 374.4h0M948.2 371.9h0M954.6 358.9h0M944.1 367.4h0M954.4 350.7h0M933.6 377.8h0M942.5 351.2h0M947.9 350.0h0M958.3 363.0h0M933.2 378.7h0M918.1 362.2h0M954.4 367.7h0M936.3 373.1h0M948.6 379.9h0M948.1 368.3h0M955.5 355.7h0M932.5 355.6h0M957.2 353.8h0M924.2 375.8h0M942.6 361.1h0M949.9 377.1h0M941.1 375.0h0M949.9 363.4h0M935.8 363.3h0M928.9 374.7h0M956.3 374.4h0M922.4 367.4h0M954.4 360.2h0M953.8 373.7h0M948.8 376.1h0M921.3 368.8h0M951.8 364.9h0M946.4 373.8h0M971.2 330.1h0M970.0 326.4h0M984.4 334.7h0M985.3 333.6h0M967.8 332.0h0M978.2 348.7h0M967.1 330.5h0M980.1 334.1h0M972.7 341.2h0M969.8 348.2h0M969.6 349.7h0M984.6 340.2h0M980.1 346.1h0M979.0 335.9h0M977.2 341.8h0M976.3 327.6h0M975.7 344.8h0M982.1 337.6h0M972.9 329.4h0M974.4 332.3h0M969.2 346.4h0M977.3 337.1h0M969.3 345.4h0M969.3 331.7h0M978.4 345.4h0M988.1 352.2h0M982.4 345.9h0M965.9 329.9h0M982.4 343.1h0M971.0 334.5h0M968.5 343.2h0M965.5 328.9h0M984.5 337.7h0M966.9 326.8h0M968.2 347.7h0M987.2 348.3h0M976.3 349.1h0M967.6 326.8h0M978.5 339.3h0M969.6 331.3h0M982.1 353.0h0M982.7 335.4h0M984.7 349.7h0M969.7 341.7h0M985.1 348.0h0M986.6 340.1h0M966.1 333.5h0M980.0 351.1h0M976.5 343.4h0M969.5 331.0h0M987.0 335.4h0M967.0 341.9h0M967.5 329.7h0M975.8 341.7h0M980.3 345.5h0M976.1 335.9h0M981.2 345.7h0M970.4 343.7h0M981.7 338.2h0M970.1 335.7h0M984.1 349.2h0M980.2 346.6h0M965.3 326.4h0M965.3 325.0h0M969.9 344.4h0M987.6 343.4h0M969.0 348.7h0M968.4 339.4h0M986.6 352.1h0M978.3 349.1h0M976.9 342.8h0M979.2 348.4h0M966.3 325.1h0M978.0 332.5h0M985.1 348.8h0M975.8 327.3h0M980.6 329.9h0M975.1 326.9h0M973.2 326.4h0M982.6 350.0h0M973.6 332.9h0M983.4 328.1h0M966.2 327.0h0M981.7 342.1h0M977.4 337.7h0M974.6 342.5h0M980.6 352.1h0M982.7 348.3h0M987.2 349.6h0M981.4 350.0h0M975.1 350.9h0M975.4 345.5h0M970.7 332.8h0M973.1 333.6h0M966.7 337.3h0M987.7 347.3h0M983.2 332.0h0M970.6 336.3h0M986.5 352.2h0M972.6 347.5h0M973.5 343.0h0M973.9 333.4h0M960.1 341.3h0M964.3 335.9h0M965.3 333.5h0M968.6 336.5h0M968.8 344.3h0M966.2 343.7h0M971.8 345.1h0M963.7 343.5h0M972.3 345.7h0M961.5 330.8h0M971.7 337.6h0M972.9 339.3h0M963.0 325.9h0M962.2 326.0h0M969.8 336.7h0M970.0 337.8h0M965.2 322.8h0M963.5 339.8h0M964.1 330.0h0M971.8 331.0h0M972.6 321.6h0M975.1 340.7h0M971.4 326.5h0M971.2 334.8h0M971.2 323.9h0M971.0 334.4h0M960.6 345.0h0M965.3 338.5h0M960.8 340.3h0M963.0 328.9h0M968.5 322.0h0M963.0 340.5h0M963.7 329.3h0M973.3 325.0h0M961.9 324.9h0M965.7 328.9h0M970.8 331.7h0M971.3 341.6h0M1008.5 320.4h0M1008.8 337.6h0M1009.2 322.0h0M1004.9 329.8h0M1007.1 330.6h0M1013.7 333.3h0M1015.8 344.9h0M1005.1 321.9h0M1013.4 319.2h0M1008.7 326.2h0M1004.5 336.2h0M1007.1 320.5h0M1012.1 331.9h0M1013.6 332.6h0M1005.0 331.5h0M1011.3 335.9h0M1003.5 340.3h0M1004.9 334.3h0M1008.5 321.1h0M1004.3 338.7h0M1010.9 344.2h0M1007.8 336.7h0M1001.2 344.5h0M1005.0 330.8h0M1009.7 344.5h0M1009.4 345.8h0M1011.6 323.3h0M1004.8 344.9h0M1006.5 328.8h0M1006.8 336.4h0M1003.8 341.0h0M1005.4 330.2h0M1010.6 337.6h0M1003.0 344.8h0M1009.9 333.9h0M1005.0 321.9h0M1011.0 330.1h0M1008.0 342.8h0M1012.2 341.9h0M1001.9 343.5h0M1304.1 392.1h0M1240.2 401.9h0M1309.2 346.4h0M1232.8 370.7h0M1281.6 427.5h0M1280.7 353.6h0M1298.4 339.7h0M1278.8 390.6h0M1264.0 387.6h0M1279.9 369.8h0M1268.6 430.5h0M1264.4 410.2h0M1210.7 380.1h0M1227.6 367.5h0M1242.3 358.0h0M1212.0 365.7h0M1306.2 386.7h0M1320.6 395.2h0M1287.7 372.6h0M1312.9 375.3h0M1307.9 328.7h0M1226.5 396.3h0M1292.8 377.2h0M1288.8 371.7h0M1278.6 362.3h0M1284.9 437.8h0M1264.1 371.3h0M1311.1 422.9h0M1232.5 401.2h0M1242.1 363.8h0M1308.7 364.9h0M1323.4 379.6h0M1316.0 427.5h0M1266.8 377.1h0M1243.1 338.2h0M1324.0 417.2h0M1272.2 408.5h0M1313.0 401.3h0M1217.0 398.9h0M1317.8 378.3h0M1259.1 398.4h0M1217.7 400.8h0M1224.0 358.1h0M1294.1 337.6h0M1252.0 395.6h0M1313.3 344.6h0M1276.5 393.8h0M1275.6 392.8h0M1253.2 350.1h0M1290.7 425.6h0M1292.7 400.0h0M1278.6 420.1h0M1270.1 418.9h0M1229.4 368.6h0M1274.4 392.8h0M1314.9 376.0h0M1321.3 405.6h0M1255.6 394.9h0M1266.7 327.3h0M1242.1 422.0h0M1224.6 363.8h0M1262.1 338.7h0M1309.2 340.6h0M1273.9 354.2h0M1267.9 422.6h0M1291.2 350.6h0M1267.2 408.6h0M1327.5 428.6h0M1286.5 345.4h0M1320.4 431.0h0M1305.9 414.1h0M1305.4 420.7h0M1252.8 407.6h0M1306.4 375.7h0M1296.0 391.4h0M1232.3 352.5h0M1295.5 430.7h0M1285.6 411.9h0M1286.6 339.2h0M1236.4 390.9h0M1302.2 371.7h0M1294.4 361.6h0M1244.2 341.9h0M1257.3 390.7h0M1293.8 366.8h0M1310.7 401.0h0M1260.9 400.3h0M1292.6 360.9h0M1228.4 399.5h0M1224.0 373.0h0M1214.5 384.2h0M1254.8 357.0h0M1301.8 409.5h0M1211.5 392.8h0M1231.8 360.7h0M1236.3 381.4h0M1309.8 413.6h0M1286.9 353.5h0M1242.8 416.5h0M1327.5 430.6h0M1314.8 422.3h0M1265.0 328.5h0M1241.6 423.5h0M1234.6 382.3h0M1298.7 386.4h0M1307.7 333.9h0M1329.6 390.4h0M1286.5 347.1h0M1206.7 405.6h0M1296.8 343.4h0M1207.2 390.1h0M1243.3 362.8h0M1317.3 389.0h0M1218.2 404.9h0M1297.8 389.3h0M1242.4 357.5h0M1259.4 382.6h0M1217.8 403.9h0M1246.1 418.0h0M1299.2 366.5h0M1224.7 411.0h0M1257.9 386.9h0M1294.2 346.0h0M1311.2 394.2h0M1308.1 434.5h0M1292.9 401.5h0M1241.9 354.3h0M1252.0 418.1h0M1281.3 354.9h0M1321.8 383.2h0M1331.9 399.4h0M1299.7 362.8h0M1291.6 369.8h0M1271.7 342.8h0M1251.3 371.0h0M1300.7 340.7h0M1228.8 398.3h0M1265.2 426.6h0M1205.2 374.4h0M1312.4 411.5h0M1249.2 383.2h0M1317.8 344.7h0M1240.3 388.1h0M1294.7 398.9h0M1243.5 362.4h0M1252.5 356.5h0M1230.0 380.5h0M1222.4 360.6h0M1272.3 360.8h0M1210.5 370.9h0M1241.7 374.3h0M1293.6 352.7h0M1252.7 428.8h0M1286.5 374.8h0M1230.7 415.2h0M1315.0 366.3h0M1234.7 350.5h0M1229.4 420.0h0M1308.6 357.7h0M1279.4 345.0h0M1322.7 383.1h0M1280.6 416.2h0M1271.8 380.1h0M1296.6 378.2h0M1278.8 357.4h0M1330.9 392.0h0M1279.7 382.6h0M1212.1 417.6h0M1332.5 410.5h0M1285.7 403.2h0M1307.8 407.0h0M1311.0 361.9h0M1307.6 392.8h0M1284.5 424.1h0M1303.0 404.7h0M1244.6 399.3h0M1207.0 400.2h0M1239.3 387.0h0M1297.5 434.3h0M1315.9 391.9h0M1324.0 406.8h0M1219.8 364.9h0M1231.6 375.3h0M1240.4 424.2h0M1253.5 425.7h0M1327.6 409.1h0M1250.6 396.6h0M1303.9 362.2h0M1265.4 332.5h0M1223.3 416.3h0M1243.4 405.3h0M1259.3 406.3h0M1290.8 352.4h0M1229.7 376.9h0M1268.2 427.6h0M1294.7 373.6h0M1260.9 393.1h0M1219.8 357.3h0M1282.4 433.4h0M1282.0 346.8h0M1330.4 416.4h0M1232.1 365.6h0M1231.5 420.0h0M1297.4 414.1h0M1277.2 350.7h0M1207.4 392.5h0M1204.4 383.5h0M1304.8 338.5h0M1260.3 386.1h0M1283.3 342.5h0M1326.4 428.4h0M1217.4 389.9h0M1235.8 399.1h0M1240.4 363.2h0M1219.9 378.0h0M1244.0 359.8h0M1279.6 434.7h0M1257.4 327.1h0M1251.9 423.1h0M1259.8 329.1h0M1235.6 348.8h0M1249.0 359.7h0M1291.2 407.3h0M1311.2 425.8h0M1306.8 342.9h0M1294.1 330.8h0M1291.8 348.2h0M1313.5 422.0h0M1264.3 408.0h0M1327.4 427.9h0M1288.1 395.0h0M1249.8 403.0h0M1221.2 376.3h0M1290.8 372.5h0M1241.0 385.9h0M1267.4 343.8h0M1333.8 411.9h0M1320.4 357.4h0M1322.9 429.9h0M1214.5 405.2h0M1209.4 377.1h0M1249.5 408.4h0M1208.8 407.5h0M1255.9 409.9h0M1243.0 422.4h0M1264.8 339.2h0M1276.3 368.6h0M1331.0 408.2h0M1311.6 367.3h0M1268.0 370.0h0M1284.5 392.4h0M1237.1 426.4h0M1262.1 414.0h0M1270.7 391.8h0M1304.6 349.1h0M1294.3 410.9h0M1308.3 345.7h0M1318.6 397.9h0M1327.4 387.9h0M1224.5 387.6h0M1290.8 367.7h0M1233.4 405.7h0M1281.0 349.9h0M1246.0 350.5h0M1273.0 354.9h0M1274.5 355.3h0M1218.6 404.6h0M1256.2 353.0h0M1297.5 428.9h0M1251.5 409.0h0M1203.2 386.3h0M1285.1 355.9h0M1257.3 370.4h0M1250.6 344.4h0M1274.6 401.0h0M1236.9 378.3h0M1231.4 401.8h0M1256.3 390.9h0M1256.5 382.2h0M1258.9 361.2h0M1314.4 356.8h0M1307.1 372.2h0M1218.1 390.1h0M1239.7 345.8h0M1264.9 417.8h0M1291.1 357.8h0M1219.8 390.9h0M1227.8 411.5h0M1281.2 348.0h0M1266.0 437.1h0M1263.7 363.7h0M1323.8 383.9h0M1209.4 406.3h0M1260.0 431.2h0M1295.2 404.6h0M1316.9 433.1h0M1311.4 386.8h0M1295.2 336.6h0M1287.7 364.0h0M1247.0 359.0h0M1213.4 418.1h0M1303.6 323.0h0M1274.6 341.7h0M1271.8 353.0h0M1242.6 348.7h0M1301.2 366.0h0M1316.4 360.8h0M1219.3 375.9h0M1271.7 390.1h0M1271.5 374.8h0M1266.2 401.5h0M1211.2 416.3h0M1295.4 340.1h0M1246.3 358.4h0M1324.5 370.8h0M1297.0 332.1h0M1287.4 374.9h0M1317.8 419.5h0M1329.4 426.7h0M1214.5 369.3h0M1221.9 394.5h0M1269.3 332.8h0M1213.1 377.1h0M1285.2 370.1h0M1264.9 397.2h0M1294.8 405.9h0M1257.5 342.3h0M1281.1 395.7h0M1215.8 383.0h0M1278.6 403.4h0M1212.4 408.2h0M1238.3 367.6h0M1219.1 421.9h0M1284.3 418.4h0M1270.6 335.0h0M1255.6 331.2h0M1215.7 417.6h0M1235.8 358.7h0M1253.7 401.5h0M1307.5 364.0h0M1294.1 436.4h0M1261.0 370.7h0M1252.9 394.0h0M1221.9 413.3h0M1317.5 386.7h0M1228.5 367.4h0M1262.2 345.4h0M1324.3 411.0h0M1240.7 348.8h0M1240.1 368.8h0M1289.1 414.0h0M1228.5 367.0h0M1297.6 420.3h0M1263.5 366.7h0M1305.1 397.9h0M1328.5 379.6h0M1317.4 398.0h0M1277.1 423.4h0M1267.0 419.2h0M1227.2 414.5h0M1214.3 363.5h0M1263.9 406.8h0M1271.7 422.7h0M1294.1 367.4h0M1271.4 368.1h0M1317.9 357.9h0M1226.5 350.9h0M1235.7 418.0h0M1293.3 351.0h0M1258.1 428.1h0M1293.5 431.7h0M1310.9 389.8h0M1327.2 424.8h0M1231.9 362.7h0M1283.6 357.9h0M1230.8 425.1h0M1217.3 397.0h0M1256.2 377.7h0M1317.7 410.4h0M1304.9 323.8h0M1309.6 416.0h0M1299.1 425.1h0M1273.9 427.4h0M1311.0 416.1h0M1232.1 389.5h0M1260.5 409.6h0M1255.2 359.8h0M1303.3 404.5h0M1250.4 406.7h0M1237.3 381.3h0M1227.4 362.7h0M1257.9 332.4h0M1243.8 363.6h0M1245.8 382.1h0M1321.4 422.8h0M1241.7 337.9h0M1303.0 409.6h0M1322.5 369.5h0M1255.4 413.1h0M1213.9 373.9h0M1275.7 399.1h0M1273.5 376.1h0M1322.4 379.6h0M1301.6 349.7h0M1248.3 373.8h0M1259.9 355.4h0M1293.4 346.4h0M1246.6 416.6h0M1272.3 349.6h0M1266.2 386.1h0M1228.5 375.0h0M1325.3 375.0h0M1333.4 407.7h0M1294.1 374.5h0M1227.6 400.1h0M1227.8 376.7h0M1222.6 371.0h0M1330.4 392.9h0M1270.3 395.3h0M1289.1 393.4h0M1240.3 347.1h0M1282.7 432.2h0M1317.8 379.9h0M1241.6 391.6h0M1208.8 380.9h0M1266.0 394.2h0M1219.7 379.4h0M1307.4 325.3h0M1252.9 406.3h0M1258.2 343.2h0M1212.1 412.2h0M1270.0 385.8h0M1292.9 412.5h0M1255.7 365.3h0M1305.2 376.6h0M1273.0 351.6h0M1320.4 420.4h0M1268.4 422.6h0M1297.7 381.6h0M1244.6 353.4h0M1282.2 377.2h0M1219.1 380.3h0M1330.2 426.0h0M1285.0 424.3h0M1266.9 380.8h0M1294.6 345.8h0M1281.0 381.4h0M1242.0 380.9h0M1226.1 398.2h0M1217.8 374.9h0M1210.0 386.0h0M1215.5 419.7h0M1246.1 339.0h0M1291.1 350.8h0M1310.0 378.6h0M1238.0 392.1h0M1232.1 353.3h0M1257.6 375.2h0M1281.2 387.3h0M1292.7 394.8h0M1264.8 423.3h0M1221.3 354.5h0M1318.8 370.3h0M1313.9 388.6h0M1325.6 428.9h0M1246.4 355.0h0M1257.5 435.4h0M1264.5 364.9h0M1324.8 371.6h0M1307.6 428.4h0M1326.4 408.9h0M1268.3 357.5h0M1326.8 417.5h0M1300.8 328.5h0M1288.3 403.8h0M1220.5 360.7h0M1262.7 352.0h0M1307.4 371.4h0M1239.5 351.7h0M1244.4 393.0h0M1297.1 373.0h0M1297.1 389.9h0M1309.8 408.4h0M1303.7 324.8h0M1249.0 335.6h0M1312.3 341.3h0M1324.6 362.6h0M1222.8 404.7h0M1227.1 365.0h0M1260.6 397.1h0M1271.0 400.7h0M1284.6 372.5h0M1268.2 363.1h0M1312.8 386.8h0M1294.6 419.1h0M1294.6 427.2h0M1262.6 404.6h0M1319.5 379.8h0M1311.0 355.0h0M1223.7 423.1h0M1275.5 436.1h0M1281.7 352.5h0M1236.0 341.5h0M1272.4 407.1h0M1305.8 402.1h0M1268.0 413.0h0M1214.7 358.4h0M1302.5 403.1h0M1295.3 404.2h0M1242.6 381.2h0M1215.3 372.8h0M1221.1 361.7h0M1248.1 335.3h0M1308.7 325.5h0M1229.2 427.9h0M1256.2 434.2h0M1243.3 383.5h0M1272.3 370.0h0M1307.9 382.1h0M1248.8 422.3h0M1281.7 411.4h0M1269.6 369.8h0M1297.6 340.5h0M1265.4 345.6h0M1316.8 415.2h0M1255.0 415.2h0M1274.3 399.6h0M1234.2 413.6h0M1237.3 369.6h0M1305.5 352.6h0M1303.7 422.8h0M1224.6 408.3h0M1241.0 354.3h0M1249.1 414.4h0M1286.9 367.5h0M1292.8 418.3h0M1228.6 424.6h0M1271.4 397.4h0M1316.3 347.3h0M1264.4 406.1h0M1274.2 375.2h0M1269.3 421.3h0M1217.7 407.4h0M1263.7 337.2h0M1263.2 341.9h0M1261.3 338.1h0M1261.2 393.6h0M1291.6 337.2h0M1314.6 366.0h0M1213.6 372.9h0M1284.8 364.8h0M1298.8 358.8h0M1310.4 432.6h0M1310.5 329.3h0M1258.1 385.1h0M1253.2 343.9h0M1280.3 336.0h0M1224.8 371.5h0M1330.2 401.8h0M1288.0 430.4h0M1279.6 409.6h0M1265.0 416.4h0M1302.5 373.3h0M1220.7 422.0h0M1235.3 428.9h0M1253.3 388.2h0M1261.4 412.3h0M1249.5 382.8h0M1233.0 361.9h0M1239.4 403.8h0M1331.1 398.1h0M1302.9 394.3h0M1329.7 385.3h0M1214.6 376.9h0M1275.7 420.9h0M1215.3 365.0h0M1326.2 414.6h0M1208.4 392.1h0M1245.1 351.2h0M1241.7 348.5h0M1248.1 392.0h0M1276.9 408.4h0M1278.2 359.0h0M1230.4 370.5h0M1327.6 393.0h0M1297.3 327.1h0M1274.4 405.0h0M1316.8 412.2h0M1264.8 432.1h0M1327.7 410.6h0M1213.6 398.7h0M1218.2 372.3h0M1219.8 357.7h0M1209.6 385.9h0M1305.3 356.7h0M1279.1 424.6h0M1286.7 419.1h0M1323.8 360.1h0M1232.6 424.4h0M1232.1 413.3h0M1219.5 381.4h0M1278.5 388.2h0M1296.2 423.1h0M1271.5 349.9h0M1307.9 372.9h0M1237.2 413.7h0M1303.5 419.8h0M1205.8 387.4h0M1207.5 395.7h0M1220.2 414.0h0M1205.3 403.8h0M1265.3 383.3h0M1314.8 355.5h0M1251.1 392.8h0M1305.3 410.4h0M1293.3 423.5h0M1226.2 370.8h0M1264.9 420.5h0M1235.9 393.3h0M1301.2 362.5h0M1285.6 370.6h0M1229.1 359.9h0M1244.8 336.7h0M1281.0 340.3h0M1231.2 364.7h0M1333.2 406.1h0M1230.7 422.2h0M1307.9 396.6h0M1275.8 429.3h0M1291.2 398.8h0M1326.4 376.0h0M1298.1 377.7h0M1236.3 345.6h0M1241.9 374.3h0M1228.5 403.5h0M1302.8 420.7h0M1274.8 411.4h0M1307.7 408.4h0M1244.6 390.2h0M1311.6 351.2h0M1261.4 344.1h0M1300.1 391.7h0M1266.6 399.0h0M1309.7 344.5h0M1274.0 353.9h0M1306.8 432.7h0M1259.8 342.6h0M1226.0 358.3h0M1251.7 426.8h0M1272.1 380.2h0M1285.4 342.9h0M1251.6 374.2h0M1278.1 393.5h0M1278.0 340.3h0M1299.2 433.1h0M1244.7 413.3h0M1315.1 396.5h0M1252.1 373.9h0M1278.2 343.9h0M1255.7 335.8h0M1313.9 348.9h0M1269.7 390.5h0M1208.1 386.7h0M1308.5 350.2h0M1286.0 407.9h0M1276.7 364.3h0M1270.2 401.1h0M1260.4 409.3h0M1301.6 411.1h0M1259.9 339.2h0M1225.6 357.1h0M1243.7 339.4h0M1273.3 345.7h0M1311.3 329.4h0M1249.8 410.6h0M1312.7 368.4h0M1327.1 426.2h0M1276.9 361.1h0M1228.1 403.7h0M1210.6 399.0h0M1284.0 368.3h0M1306.9 368.0h0M1305.6 395.3h0M1281.9 350.9h0M1245.5 400.1h0M1288.4 404.2h0M1312.9 335.0h0M1225.9 378.2h0M1259.2 337.8h0M1295.5 398.6h0M1248.2 417.4h0M1208.6 371.5h0M1222.3 378.8h0M1313.5 415.8h0M1280.1 371.3h0M1276.1 381.3h0M1277.8 359.9h0M1310.3 383.6h0M1233.8 391.3h0M1305.3 381.1h0M1245.5 386.5h0M1293.8 343.5h0M1319.7 370.5h0M1257.9 383.5h0M1303.0 342.2h0M1226.9 379.9h0M1250.9 428.3h0M1283.4 355.1h0M1286.9 382.4h0M1295.4 417.7h0M1270.5 367.1h0M1261.4 419.2h0M1260.4 386.4h0M1302.9 425.1h0M1279.7 384.5h0M1216.0 366.6h0M1227.8 413.6h0M1291.3 338.0h0M1279.1 425.7h0M1314.6 366.6h0M1251.0 384.9h0M1315.1 428.0h0M1237.2 393.2h0M1255.3 346.7h0M1213.7 368.5h0M1311.6 417.5h0M1262.6 369.8h0M1221.1 416.6h0M1302.7 347.7h0M1291.0 427.9h0M1250.1 349.4h0M1301.0 395.9h0M1245.4 405.5h0M1227.4 379.0h0M1304.4 363.2h0M1219.2 402.1h0M1293.1 394.1h0M1322.5 366.0h0M1270.0 375.6h0M1315.6 361.1h0M1234.5 365.6h0M1311.5 410.1h0M1227.4 418.9h0M1306.9 404.2h0M1284.0 349.4h0M1246.4 419.6h0M1315.5 423.6h0M1299.4 408.1h0M1310.9 433.7h0M1324.1 426.3h0M1245.1 431.2h0M1317.1 386.8h0M1319.3 417.9h0M1259.2 399.5h0M1240.1 345.5h0M1266.9 378.7h0M1267.0 407.2h0M1227.0 416.3h0M1245.6 369.3h0M1321.1 409.7h0M1298.8 416.1h0M1258.5 363.0h0M1271.7 422.6h0M1225.6 405.2h0M1265.3 434.0h0M1296.3 431.4h0M1257.2 376.7h0M1235.6 346.5h0M1244.0 347.2h0M1285.3 389.4h0M1300.0 411.0h0M1283.9 384.7h0M1265.7 362.3h0M1243.6 361.3h0M1269.8 374.7h0M1274.9 401.3h0M1283.0 391.0h0M1262.2 376.4h0M1212.5 417.6h0M1265.9 363.0h0M1246.9 390.5h0M1257.6 400.5h0M1276.3 385.0h0M1271.1 355.0h0M1300.5 360.5h0M1246.4 398.6h0M1295.7 420.7h0M1328.8 388.0h0M1208.8 400.9h0M1249.4 393.9h0M1225.7 369.1h0M1234.9 402.4h0M1269.2 397.4h0M1303.5 364.4h0M1238.1 399.6h0M1243.6 380.9h0M1285.7 387.9h0M1231.0 370.1h0M1321.2 423.5h0M1233.8 414.5h0M1294.0 341.5h0M1307.0 424.6h0M1310.3 363.2h0M1310.8 352.8h0M1254.6 358.0h0M1311.0 412.6h0M1272.8 385.7h0M1241.2 391.6h0M1208.9 407.7h0M1263.9 391.4h0M1252.8 432.1h0M1230.9 379.8h0M1293.9 410.5h0M1243.2 336.4h0M1293.7 336.8h0M1311.5 324.2h0M1318.9 418.7h0M1269.5 427.6h0M1305.5 401.7h0M1291.8 405.2h0M1250.6 424.1h0M1257.2 416.7h0M1230.1 386.2h0M1302.0 407.4h0M1294.4 332.4h0M1310.9 389.0h0M1284.7 348.3h0M1306.8 412.1h0M1257.5 424.0h0M1233.4 366.2h0M1270.9 379.2h0M1286.5 383.4h0M1238.8 371.5h0M1322.9 372.2h0M1269.0 431.4h0M1255.4 423.2h0M1211.7 406.0h0M1218.6 354.3h0M1320.6 416.1h0M1268.5 335.1h0M1271.3 428.6h0M1296.8 396.0h0M1292.3 412.8h0M1245.6 340.5h0M1238.8 349.0h0M1276.1 354.3h0M1233.0 396.0h0M1261.8 331.7h0M1253.8 355.2h0M1308.1 350.3h0M1287.1 402.0h0M1257.7 327.3h0M1273.3 334.7h0M1321.0 354.2h0M1248.2 362.4h0M1286.3 358.0h0M1264.5 399.3h0M1288.9 399.2h0M1314.4 392.4h0M1229.4 368.8h0M1280.1 425.6h0M1289.4 362.2h0M1296.4 354.0h0M1269.2 396.3h0M1305.2 351.0h0M1302.3 386.4h0M1272.1 332.9h0M1285.8 416.0h0M1253.3 373.4h0M1285.1 388.2h0M1332.0 421.9h0M1293.2 363.3h0M1209.9 402.3h0M1232.2 405.5h0M1288.8 424.1h0M1210.5 379.1h0M1247.6 362.5h0M1236.7 420.8h0M1262.8 387.2h0M1218.2 387.9h0M1247.4 353.5h0M1275.6 331.3h0M1301.8 428.7h0M1260.7 366.3h0M1284.8 358.2h0M1235.2 430.4h0M1287.6 381.1h0M1263.4 416.3h0M1300.3 355.3h0M1243.9 370.6h0M1210.0 371.7h0M1217.8 401.0h0M1246.6 360.6h0M1231.5 351.6h0M1233.0 427.1h0M1262.7 386.8h0M1281.7 342.1h0M1334.0 409.8h0M1230.9 372.8h0M1322.7 413.7h0M1306.4 390.8h0M1228.7 399.2h0M1279.0 339.8h0M1210.1 384.3h0M1323.8 360.8h0M1318.6 427.3h0M1242.4 407.2h0M1300.3 373.1h0M1311.8 409.5h0M1232.9 400.2h0M1270.2 389.3h0M1257.6 389.1h0M1276.6 359.8h0M1251.1 341.3h0M1286.0 419.3h0M1232.8 391.8h0M1254.2 343.4h0M1300.9 337.8h0M1239.9 382.4h0M1228.7 390.8h0M1265.2 348.4h0M1292.2 397.8h0M1305.1 395.9h0M1243.3 372.8h0M1311.5 335.1h0M1276.6 350.2h0M1272.2 368.4h0M1237.8 376.1h0M1263.4 337.0h0M1300.6 341.4h0M1300.9 413.9h0M1324.5 383.5h0M1301.3 415.9h0M1310.3 393.8h0M1320.7 410.3h0M1253.1 365.7h0M1313.5 432.0h0M1252.5 431.5h0M1307.5 404.5h0M1247.4 354.6h0M1240.9 403.4h0M1263.8 348.3h0M1222.0 418.0h0M1272.8 328.3h0M1256.1 346.0h0M1316.1 387.7h0M1267.8 377.5h0M1277.2 415.3h0M1322.1 427.0h0M1318.6 352.9h0M1259.7 334.8h0M1264.9 439.6h0M1295.8 376.5h0M1244.3 347.1h0M1259.4 356.1h0M1267.2 389.7h0M1256.2 392.4h0M1257.3 381.0h0M1266.8 422.0h0M1320.8 391.3h0M1302.8 357.7h0M1224.2 359.2h0M1221.0 412.8h0M1323.6 398.1h0M1304.5 390.0h0M1332.5 415.0h0M1223.7 363.0h0M1273.6 397.6h0M1222.6 354.1h0M1265.4 432.6h0M1318.2 428.9h0M1227.6 367.5h0M1290.3 418.4h0M1312.5 336.2h0M1270.1 336.9h0M1289.7 370.3h0M1309.6 360.3h0M1213.5 381.3h0M1269.0 422.2h0M1235.1 373.4h0M1311.1 400.7h0M1234.0 367.9h0M1304.0 387.9h0M1216.9 364.7h0M1205.9 376.0h0M1233.2 357.6h0M1247.5 424.6h0M1220.0 372.7h0M1260.1 432.4h0M1298.6 353.8h0M1220.0 386.9h0M1312.6 348.6h0M1303.7 365.1h0M1225.7 417.6h0M1280.6 367.9h0M1271.0 429.4h0M1266.2 388.9h0M1302.8 334.3h0M1277.6 352.2h0M1293.1 396.1h0M1301.3 419.2h0M1233.0 379.4h0M1325.2 368.9h0M1230.1 384.1h0M1309.3 376.0h0M1313.9 334.3h0M1247.3 335.8h0M1314.3 374.9h0M1260.8 368.0h0M1295.6 349.9h0M1270.5 377.8h0M1247.8 355.4h0M1245.7 421.4h0M1303.3 408.3h0M1310.6 366.0h0M1310.2 333.7h0M1297.9 404.1h0M1277.4 394.9h0M1263.9 372.9h0M1265.4 394.1h0M1314.4 361.8h0M1276.2 368.2h0M1225.3 405.6h0M1301.0 373.4h0M1242.2 379.9h0M1325.6 398.6h0M1299.6 417.2h0M1307.7 369.0h0M1292.7 346.9h0M1315.0 434.1h0M1275.5 406.2h0M1250.5 369.0h0M1325.1 410.4h0M1257.2 430.8h0M1325.0 419.1h0M1319.6 353.3h0M1296.9 334.4h0M1259.8 345.0h0M1256.7 401.5h0M1291.9 426.6h0M1246.7 371.7h0M1236.2 422.0h0M1307.4 400.7h0M1288.3 356.7h0M1239.3 412.2h0M1303.1 430.1h0M1270.0 336.7h0M1274.8 349.4h0M1288.2 396.5h0M1312.9 431.1h0M1316.5 402.0h0M1299.0 425.0h0M1313.2 380.7h0M1283.7 386.7h0M1258.4 381.0h0M1230.1 371.5h0M1281.0 411.3h0M1295.9 334.1h0M1230.4 379.2h0M1304.7 354.7h0M1300.1 349.1h0M1242.7 422.9h0M1228.6 421.7h0M1264.7 386.1h0M1219.1 366.2h0M1266.7 378.1h0M1324.3 367.8h0M1321.0 356.6h0M1301.1 340.3h0M1279.7 410.6h0M1311.9 328.0h0M1300.9 340.2h0M1315.4 341.4h0M1231.8 430.5h0M1307.0 407.8h0M1259.2 349.4h0M1286.7 422.6h0M1300.0 406.3h0M1210.9 376.8h0M1241.0 385.3h0M1290.9 393.1h0M1240.3 371.9h0M1240.3 344.7h0M1232.1 380.2h0M1319.1 347.6h0M1329.5 400.7h0M1321.0 427.0h0M1302.1 430.6h0M1228.2 396.9h0M1250.3 341.7h0M1239.0 398.6h0M1314.4 418.7h0M1203.1 385.1h0M1278.9 374.2h0M1298.8 391.9h0M1299.4 334.5h0M1331.8 415.1h0M1309.9 414.0h0M1252.9 432.1h0M1286.1 382.7h0M1208.1 379.4h0M1252.7 373.7h0M1248.2 422.7h0M1251.4 333.4h0M1235.8 421.2h0M1270.9 363.5h0M1257.7 338.4h0M1245.1 335.2h0M1318.0 406.4h0M1245.1 398.9h0M1225.6 376.4h0M1288.1 374.5h0M1272.5 376.1h0M1256.7 389.9h0M1254.8 357.0h0M1257.6 414.6h0M1223.1 378.0h0M1329.9 406.3h0M1233.8 409.2h0M1268.9 333.0h0M1240.3 370.5h0M1330.8 427.5h0M1275.3 401.1h0M1284.6 418.4h0M1251.6 398.9h0M1231.3 348.9h0M1237.9 369.8h0M1241.8 392.9h0M1282.5 416.3h0M1306.6 373.0h0M1324.7 401.0h0M1307.3 334.5h0M1257.3 357.3h0M1313.9 412.2h0M1276.7 373.9h0M1322.4 406.6h0M1244.6 339.9h0M1314.3 387.3h0M1287.8 396.9h0M1306.4 420.5h0M1308.5 352.5h0M1272.5 328.3h0M1261.6 419.6h0M1249.5 363.6h0M1246.7 360.3h0M1212.0 398.1h0M1267.6 394.5h0M1245.6 429.2h0M1304.9 387.8h0M1253.3 423.1h0M1260.2 371.4h0M1268.2 331.8h0M1324.0 415.8h0M1290.4 386.4h0M1256.2 370.3h0M1232.4 370.5h0M1234.2 345.5h0M1249.5 392.2h0M1333.5 405.5h0M1310.9 388.3h0M1303.2 396.9h0M1219.9 403.3h0M1250.7 373.4h0M1239.3 338.5h0M1251.7 359.6h0M1227.6 404.6h0M1274.8 412.9h0M1307.3 404.4h0M1218.5 353.6h0M1212.7 415.9h0M1287.4 363.4h0M1277.4 381.3h0M1237.2 385.5h0M1260.2 392.3h0M1293.0 413.7h0M1246.1 411.2h0M1250.1 414.3h0M1269.7 390.0h0M1268.5 363.0h0M1210.8 414.4h0M1220.6 414.3h0M1295.7 360.9h0M1267.2 364.2h0M1244.9 405.1h0M1284.5 377.1h0M1284.6 404.5h0M1278.6 415.2h0M1242.3 349.1h0M1263.4 415.4h0M1263.9 428.2h0M1224.7 389.8h0M1240.3 386.2h0M1303.4 360.9h0M1225.4 375.1h0M1242.8 347.8h0M1265.1 415.2h0M1276.8 391.7h0M1232.2 385.1h0M1301.5 361.3h0M1269.4 436.6h0M1283.3 362.4h0M1303.3 390.2h0M1258.4 332.8h0M1265.0 377.7h0M1229.6 384.3h0M1328.3 425.6h0M1311.1 358.0h0M1233.4 378.6h0M1204.2 382.6h0M1301.7 402.5h0M1214.0 376.7h0M1266.1 341.4h0M1219.9 358.8h0M1245.9 427.9h0M1205.4 377.4h0M1241.0 404.4h0M1282.8 356.0h0M1298.7 405.5h0M1316.9 403.8h0M1214.5 414.8h0M1328.7 426.1h0M1317.0 380.5h0M1298.8 431.8h0M1326.3 427.6h0M1214.0 376.2h0M1315.9 394.8h0M1279.8 353.0h0M1317.3 430.4h0M1266.3 434.8h0M1231.1 403.9h0M1295.5 420.3h0M1316.8 353.6h0M1253.4 335.4h0M1269.5 424.2h0M1241.9 426.5h0M1237.7 377.6h0M1290.0 418.3h0M1254.3 412.0h0M1307.8 415.6h0M1238.0 424.4h0M1303.5 392.2h0M1246.8 407.9h0M1211.8 409.7h0M1257.9 412.3h0M1280.3 364.4h0M1244.5 381.6h0M1220.5 352.7h0M1286.9 345.1h0M1324.0 384.6h0M1245.0 342.8h0M1239.2 368.9h0M1220.6 358.5h0M1295.4 436.5h0M1287.2 370.5h0M1225.0 399.4h0M1298.0 423.5h0M1317.5 387.9h0M1318.0 363.8h0M1311.7 373.4h0M1231.1 420.1h0M1307.4 397.4h0M1264.8 353.0h0M1313.9 400.9h0M1291.1 419.4h0M1315.4 338.4h0M1237.2 385.3h0M1268.0 329.0h0M1317.9 424.1h0M1260.3 416.1h0M1222.6 417.7h0M1309.4 408.5h0M1290.1 420.8h0M1267.7 403.5h0M1262.8 391.1h0M1240.2 345.7h0M1317.6 387.6h0M1245.1 356.9h0M1247.2 383.4h0M1223.5 375.4h0M1248.9 367.8h0M1319.5 357.9h0M1301.4 434.1h0M1252.9 363.3h0M1292.0 433.8h0M1273.1 398.6h0M1216.9 359.0h0M1262.6 399.4h0M1253.0 409.5h0M1313.3 351.3h0M1272.2 333.9h0M1245.0 390.5h0M1312.0 344.8h0M1308.3 400.3h0M1311.3 329.7h0M1270.9 339.0h0M1304.9 402.4h0M1321.0 368.2h0M1231.2 413.8h0M1247.4 424.2h0M1239.3 423.2h0M1249.3 391.8h0M1244.2 395.5h0M1210.4 365.0h0M1249.3 392.1h0M1308.6 380.5h0M1299.4 369.0h0M1230.7 361.6h0M1252.1 379.8h0M1267.3 415.9h0M1307.3 369.4h0M1304.2 392.8h0M1319.4 397.9h0M1269.5 429.8h0M1209.9 383.2h0M1229.4 377.3h0M1282.1 348.1h0M1211.2 380.6h0M1292.5 384.2h0M1261.9 390.5h0M1253.6 381.5h0M1271.4 334.0h0M1236.7 399.8h0M1246.9 382.4h0M1256.7 353.2h0M1225.3 358.8h0M1287.9 380.8h0M1245.2 402.5h0M1247.8 421.4h0M1314.3 349.7h0M1270.9 365.0h0M1327.0 395.5h0M1299.5 380.0h0M1295.7 372.8h0M1272.0 399.2h0M1307.5 433.7h0M1287.0 419.9h0M1263.3 350.7h0M1274.6 357.8h0M1256.2 417.5h0M1284.1 348.6h0M1271.3 336.9h0M1226.5 427.0h0M1269.9 424.6h0M1263.3 358.4h0M1267.2 364.8h0M1269.8 368.0h0M1218.6 394.3h0M1319.1 386.7h0M1247.3 381.1h0M1242.8 367.3h0M1305.1 370.5h0M1244.1 342.8h0M1306.7 341.6h0M1277.0 381.9h0M1299.6 384.3h0M1266.5 341.3h0M1274.5 382.9h0M1268.2 407.0h0M1250.2 398.3h0M1236.9 408.2h0M1307.6 385.3h0M1324.0 370.4h0M1252.4 412.6h0M1304.6 373.0h0M1261.4 393.9h0M1209.9 383.8h0M1314.5 336.9h0M1213.0 380.8h0M1283.3 366.8h0M1257.7 432.9h0M1225.4 359.9h0M1237.6 429.6h0M1284.1 388.0h0M1214.2 416.4h0M1314.0 349.9h0M1225.0 425.3h0M1291.8 374.6h0M1247.9 409.5h0M1287.2 367.9h0M1236.7 348.8h0M1207.3 375.4h0M1325.5 408.5h0M1248.5 357.8h0M1308.8 419.5h0M1243.9 351.6h0M1237.3 418.3h0M1265.7 402.0h0M1292.1 416.8h0M1290.1 350.6h0M1315.5 391.2h0M1293.5 403.4h0M1315.1 418.9h0M1323.8 419.9h0M1236.2 410.4h0M1249.1 411.3h0M1276.2 390.1h0M1317.2 429.9h0M1248.9 375.9h0M1278.4 404.4h0M1298.1 360.9h0M1287.0 388.2h0M1266.1 383.4h0M1310.2 370.0h0M1303.7 391.8h0M1206.5 386.4h0M1262.9 343.6h0M1320.3 388.5h0M1257.7 389.4h0M1259.9 380.3h0M1279.9 407.9h0M1254.5 420.5h0M1280.9 407.5h0M1268.5 431.7h0M1291.7 434.9h0M1310.8 387.4h0M1255.0 332.5h0M1211.9 414.3h0M1269.2 365.5h0M1296.5 359.7h0M1328.6 426.9h0M1207.1 404.8h0M1263.2 348.8h0M1281.3 348.5h0M1272.1 410.4h0M1258.3 429.0h0M1249.2 330.8h0M1242.6 336.3h0M1266.2 352.5h0M1325.0 416.5h0M1249.6 385.6h0M1310.8 332.3h0M1251.2 350.0h0M1234.4 399.1h0M1320.7 382.4h0M1327.4 408.0h0M1321.1 384.0h0M1257.9 427.3h0M1322.3 359.2h0M1302.9 414.3h0M1290.9 349.4h0M1209.5 361.3h0M1238.1 383.9h0M1249.3 369.4h0M1244.1 338.2h0M1239.6 401.0h0M1239.7 428.0h0M1317.7 376.4h0M1241.7 399.5h0M1320.0 418.9h0M1239.5 368.5h0M1303.9 356.5h0M1311.0 355.8h0M1310.1 411.6h0M1217.3 357.5h0M1307.5 403.1h0M1258.1 337.6h0M1224.9 363.3h0M1267.6 399.4h0M1317.4 404.0h0M1276.0 384.6h0M1208.4 386.5h0M1259.5 424.7h0M1233.3 363.2h0M1235.9 399.5h0M1308.6 333.8h0M1253.6 402.7h0M1300.2 413.3h0M1224.4 407.5h0M1262.2 427.2h0M1228.5 421.5h0M1323.6 394.1h0M1225.0 363.1h0M1251.3 426.6h0M1225.4 371.0h0M1251.4 385.0h0M1298.8 325.5h0M1267.7 398.8h0M1306.4 408.0h0M1285.9 398.5h0M1254.2 402.7h0M1262.3 359.1h0M1244.1 372.8h0M1217.0 406.7h0M1224.9 390.7h0M1325.1 418.4h0M1310.6 343.9h0M1309.0 323.4h0M1232.5 354.5h0M1230.8 381.1h0M1240.5 407.9h0M1242.3 343.0h0M1311.7 408.4h0M1306.7 426.2h0M1262.6 372.9h0M1307.3 380.6h0M1234.9 394.8h0M1260.5 412.4h0M1317.7 416.0h0M1211.7 387.5h0M1261.6 327.3h0M1295.9 347.2h0M1226.1 424.7h0M1238.1 403.4h0M1290.3 397.1h0M1311.4 368.1h0M1242.5 380.7h0M1207.3 406.3h0M1244.4 403.8h0M1326.5 424.0h0M1263.6 435.3h0M1274.3 388.9h0M1278.6 344.0h0M1254.4 381.7h0M1306.5 388.5h0M1264.3 369.5h0M1311.3 349.4h0M1308.3 330.9h0M1281.1 433.5h0M1282.4 350.8h0M1230.8 417.5h0M1259.4 333.8h0M1298.9 409.6h0M1251.6 380.1h0M1259.6 363.5h0M1285.3 375.6h0M1244.7 379.3h0M1244.9 351.9h0M1239.3 364.3h0M1239.1 365.4h0M1293.0 349.6h0M1241.5 408.1h0M1289.0 358.2h0M1240.1 406.7h0M1252.3 417.5h0M1291.6 349.6h0M1277.3 428.2h0M1286.5 425.9h0M1247.5 355.7h0M1274.2 364.6h0M1271.8 351.9h0M1230.1 394.1h0M1214.6 403.8h0M1223.5 354.4h0M1315.8 383.8h0M1264.3 360.8h0M1270.9 414.1h0M1250.3 338.2h0M1226.9 405.1h0M1265.8 432.3h0M1231.8 406.6h0M1254.1 355.4h0M1297.4 359.9h0M1231.9 375.2h0M1258.8 331.9h0M1250.6 337.0h0M1212.1 387.0h0M1288.0 422.9h0M1237.2 417.4h0M1301.4 328.7h0M1317.6 410.5h0M1224.0 396.4h0M1259.3 433.9h0M1313.2 355.8h0M1238.6 381.4h0M1256.2 416.2h0M1228.1 424.8h0M1280.4 368.6h0M1261.1 413.8h0M1312.8 357.2h0M1262.5 431.2h0M1305.9 358.1h0M1304.8 335.7h0M1254.6 390.0h0M1278.5 394.8h0M1290.1 341.6h0M1229.6 381.1h0M1252.3 403.2h0M1220.4 383.2h0M1258.4 345.1h0M1322.7 432.6h0M1205.9 404.7h0M1321.6 363.2h0M1241.9 417.6h0M1275.7 392.2h0M1296.5 383.8h0M1310.9 388.0h0M1266.3 429.3h0M1267.0 404.0h0M1272.8 432.6h0M1224.6 425.3h0M1240.4 351.2h0M1282.6 406.1h0M1236.4 420.1h0M1262.3 380.9h0M1250.9 376.0h0M1317.5 369.3h0M1288.3 357.3h0M1303.9 386.0h0M1290.2 408.6h0M1278.2 402.6h0M1260.4 421.8h0M1232.2 414.3h0M1311.8 409.2h0M1309.4 347.9h0M1205.7 391.2h0M1294.7 419.6h0M1297.0 392.8h0M1238.0 375.6h0M1217.4 390.3h0M1293.3 383.2h0M1302.9 395.2h0M1316.5 400.3h0M1303.2 355.3h0M1326.8 391.5h0M1275.0 367.5h0M1314.0 396.9h0M1275.8 394.6h0M1240.1 373.5h0M1299.6 418.4h0M1247.8 358.4h0M1272.7 378.9h0M1255.7 357.5h0M1248.8 430.5h0M1226.2 366.3h0M1303.8 380.3h0M1222.8 383.1h0M1292.5 421.2h0M1260.1 347.0h0M1207.6 391.9h0M1272.6 404.4h0M1233.6 354.6h0M1227.5 422.2h0M1278.5 354.5h0M1250.1 352.1h0M1304.1 359.3h0M1237.5 405.2h0M1323.6 358.0h0M1306.2 359.5h0M1225.7 404.6h0M1248.2 376.1h0M1315.8 340.8h0M1232.4 395.1h0M1233.7 375.6h0M1231.5 397.3h0M1306.7 433.2h0M1242.3 415.3h0M1243.4 428.7h0M1328.8 405.8h0M1256.8 362.9h0M1227.0 426.6h0M1325.7 405.9h0M1323.8 361.6h0M1213.5 378.8h0M1313.2 399.0h0M1257.0 379.8h0M1234.5 368.2h0M1329.4 431.2h0M1283.5 405.8h0M1245.4 398.4h0M1256.1 409.6h0M1303.8 338.4h0M1305.7 347.1h0M1296.7 327.8h0M1308.2 363.3h0M1268.6 367.8h0M1222.0 372.0h0M1308.9 418.5h0M1279.6 395.2h0M1309.4 379.2h0M1300.8 342.7h0M1297.6 436.1h0M1303.4 430.9h0M1294.7 408.5h0M1322.4 432.1h0M1251.2 342.5h0M1252.7 334.3h0M1322.1 372.9h0M1263.0 393.6h0M1251.5 406.2h0M1319.9 385.7h0M1245.7 415.2h0M1216.3 357.9h0M1267.8 423.7h0M1280.0 376.6h0M1285.4 432.6h0M1252.1 344.0h0M1273.8 337.9h0M1234.9 400.1h0M1262.1 343.0h0M1313.9 397.4h0M1276.4 378.7h0M1327.7 398.8h0M1289.5 431.9h0M1233.2 380.5h0M1277.7 360.4h0M1280.6 391.1h0M1324.6 376.8h0M1256.5 387.1h0M1317.2 411.8h0M1237.0 394.9h0M1222.5 385.9h0M1272.1 402.3h0M1214.9 408.1h0M1233.9 360.6h0M1320.5 404.9h0M1217.4 393.9h0M1242.0 416.8h0M1216.6 407.7h0M1255.6 340.7h0M1236.1 416.8h0M1285.4 368.2h0M1207.8 407.0h0M1273.4 347.5h0M1273.3 331.4h0M1327.3 422.4h0M1226.2 379.4h0M1328.7 429.1h0M1268.0 387.5h0M1273.6 356.0h0M1231.9 357.7h0M1207.0 368.5h0M1276.1 400.0h0M1317.3 430.7h0M1231.6 394.3h0M1311.5 336.3h0M1274.2 432.4h0M1256.7 397.8h0M1303.9 365.2h0M1217.0 404.2h0M1266.2 387.6h0M1221.4 385.5h0M1260.7 399.4h0M1214.9 356.0h0M1274.1 413.7h0M1313.1 364.6h0M1236.4 382.2h0M1268.7 337.8h0M1283.2 421.9h0M1226.2 395.1h0M1273.7 347.1h0M1315.8 338.2h0M1305.7 330.6h0M1320.2 354.2h0M1294.6 400.8h0M1291.6 413.5h0M1238.5 374.2h0M1280.8 406.4h0M1256.6 364.0h0M1274.0 369.5h0M1292.9 360.8h0M1210.1 404.6h0M1269.1 338.5h0M1211.1 388.2h0M1260.0 327.4h0M1274.3 382.2h0M1203.4 395.9h0M1202.9 382.3h0M1254.1 424.7h0M1272.5 339.3h0M1221.8 419.3h0M1233.1 392.6h0M1249.0 358.1h0M1251.1 395.4h0M1250.2 361.7h0M1250.1 422.7h0M1331.5 412.3h0M1303.1 367.1h0M1298.9 401.7h0M1202.9 382.7h0M1296.0 359.6h0M1287.5 423.0h0M1299.1 338.9h0M1268.7 338.0h0M1305.2 385.3h0M1267.8 423.3h0M1323.8 391.6h0M1260.6 402.6h0M1268.4 343.4h0M1323.7 406.8h0M1273.0 421.5h0M1246.4 355.2h0M1306.3 426.9h0M1276.4 384.6h0M1283.8 368.1h0M1258.8 330.1h0M1280.2 417.4h0M1249.2 405.2h0M1299.3 403.5h0M1225.6 374.8h0M1282.2 426.6h0M1228.1 416.0h0M1223.4 385.5h0M1242.6 404.2h0M1259.0 354.3h0M1272.8 427.8h0M1316.6 385.4h0M1297.2 431.5h0M1296.3 395.2h0M1304.3 335.4h0M1278.1 353.0h0M1268.6 332.0h0M1240.4 383.3h0M1331.4 395.7h0M1309.6 368.2h0M1218.6 358.4h0M1292.0 388.7h0M1293.3 433.6h0M1261.4 383.4h0M1320.9 409.8h0M1291.6 386.3h0M1310.5 360.5h0M1292.3 333.7h0M1326.8 376.9h0M1263.0 331.2h0M1222.2 417.7h0M1296.0 389.6h0M1272.6 364.2h0M1304.7 403.8h0M1305.9 338.1h0M1256.7 377.8h0M1205.7 389.2h0M1224.4 381.2h0M1303.9 332.7h0M1326.4 410.6h0M1250.6 333.1h0M1293.4 373.1h0M1283.7 362.1h0M1222.2 370.5h0M1231.7 381.9h0M1235.6 408.0h0M1315.8 402.3h0M1301.8 369.4h0M1283.9 423.7h0M1243.5 368.6h0M1311.8 322.4h0M1321.6 379.9h0M1312.4 358.1h0M1233.5 376.6h0M1256.9 361.3h0M1229.7 420.9h0M1290.4 388.5h0M1212.3 359.2h0M1328.2 428.1h0M1321.2 364.6h0M1288.4 351.6h0M1287.5 385.2h0M1233.3 355.4h0M1271.1 358.8h0M1252.2 380.8h0M1277.1 364.4h0M1248.3 389.9h0M1285.2 409.8h0M1249.5 397.8h0M1296.7 429.5h0M1299.2 392.9h0M1283.3 353.8h0M1278.5 365.3h0M1246.7 348.2h0M1243.1 383.0h0M1238.0 423.0h0M1233.5 382.8h0M1293.8 392.6h0M1322.3 409.1h0M1266.0 368.3h0M1255.0 375.9h0M1311.7 325.4h0M1242.8 404.8h0M1217.0 416.8h0M1249.2 426.8h0M1234.0 413.6h0M1316.0 360.6h0M1277.2 413.9h0M1327.1 390.0h0M1320.7 427.6h0M1262.9 394.9h0M1278.6 431.1h0M1274.0 343.4h0M1243.3 429.8h0M1258.0 331.8h0M1240.3 389.8h0M1224.4 380.2h0M1266.5 400.7h0M1239.3 344.3h0M1264.1 343.5h0M1276.6 368.6h0M1315.0 343.8h0M1272.5 354.9h0M1276.5 383.5h0M1284.3 402.6h0M1225.0 416.2h0M1213.8 398.0h0M1220.4 380.2h0M1297.3 415.4h0M1222.5 357.0h0M1235.5 352.1h0M1309.1 418.7h0M1328.9 398.9h0M1220.2 356.1h0M1282.6 406.8h0M1304.0 411.0h0M1250.9 378.0h0M1283.3 381.3h0M1235.7 359.3h0M1311.8 332.3h0M1258.7 425.6h0M1227.1 383.5h0M1283.4 428.7h0M1256.9 430.7h0M1245.5 402.5h0M1317.4 343.0h0M1299.1 355.3h0M1255.0 338.9h0M1321.1 356.2h0M1255.4 422.3h0M1256.4 390.4h0M1280.2 415.5h0M1261.9 426.9h0M1271.1 425.9h0M1304.4 371.0h0M1239.2 422.3h0M1281.8 346.7h0M1278.9 393.1h0M1209.1 384.0h0M1281.6 344.1h0M1321.2 366.4h0M1276.6 359.5h0M1253.0 377.3h0M1236.5 370.2h0M1304.4 428.0h0M1291.0 433.5h0M1238.5 430.4h0M1305.9 402.7h0M1263.7 407.9h0M1206.3 397.5h0M1220.2 372.9h0M1211.0 405.3h0M1317.7 431.2h0M1295.2 405.0h0M1259.7 346.0h0M1275.6 330.3h0M1276.9 381.1h0M1255.9 423.0h0M1300.2 406.2h0M1242.5 342.2h0M1304.4 332.0h0M1263.7 364.6h0M1242.6 389.8h0M1268.7 418.6h0M1287.0 436.2h0M1232.4 357.9h0M1249.1 339.0h0M1239.7 381.3h0M1253.9 356.5h0M1305.3 408.4h0M1324.4 386.5h0M1279.5 392.7h0M1324.7 360.9h0M1315.3 382.1h0M1304.1 415.0h0M1241.0 392.3h0M1262.4 341.4h0M1247.2 337.4h0M1293.3 378.0h0M1283.2 337.0h0M1271.8 375.1h0M1278.2 378.2h0M1248.8 336.0h0M1313.0 322.6h0M1213.0 368.0h0M1272.3 345.8h0M1247.2 405.5h0M1292.7 416.4h0M1294.9 361.6h0M1290.6 416.5h0M1295.4 393.5h0M1256.6 327.5h0M1261.9 335.1h0M1241.6 412.8h0M1280.0 428.0h0M1316.3 407.6h0M1300.5 397.0h0M1275.3 336.3h0M1268.6 429.3h0M1296.9 432.3h0M1305.6 329.7h0M1255.5 422.2h0M1297.8 380.1h0M1262.7 368.5h0M1251.2 364.0h0M1264.8 392.0h0M1286.0 390.0h0M1267.3 383.7h0M1242.0 385.0h0M1242.1 393.3h0M1242.9 372.1h0M1209.0 362.3h0M1262.5 395.0h0M1304.6 327.9h0M1245.2 350.7h0M1263.5 429.6h0M1325.5 407.8h0M1326.1 381.3h0M1284.2 337.9h0M1298.2 353.4h0M1275.8 349.4h0M1270.3 368.9h0M1318.7 384.0h0M1303.9 352.4h0M1269.3 384.6h0M1243.7 371.0h0M1246.4 402.7h0M1279.4 406.5h0M1225.6 387.9h0M1263.5 425.5h0M1315.8 391.2h0M1262.0 374.6h0M1266.4 412.5h0M1309.9 432.1h0M1301.2 342.4h0M1293.9 414.5h0M1272.6 330.2h0M1207.6 398.6h0M1303.1 363.0h0M1303.6 366.8h0M1263.0 403.4h0M1293.6 398.8h0M1221.0 403.7h0M1305.7 411.1h0M1285.9 392.3h0M1289.4 411.2h0M1265.1 356.3h0M1249.2 340.4h0M1308.7 383.5h0M1332.3 398.9h0M1275.2 334.6h0M1211.4 380.9h0M1218.8 397.1h0M1316.3 402.8h0M1231.2 366.3h0M1291.8 427.9h0M1255.4 417.9h0M1284.4 419.4h0M1212.5 406.5h0M1315.2 363.1h0M1314.8 363.4h0M1312.8 361.1h0M1275.9 395.8h0M1248.7 373.1h0M1287.0 436.0h0M1296.2 335.7h0M1320.9 406.1h0M1271.3 390.5h0M1265.6 429.8h0M1206.9 406.2h0M1212.3 385.3h0M1211.0 372.6h0M1260.9 358.2h0M1250.9 347.9h0M1221.1 420.5h0M1307.6 376.5h0M1293.9 387.3h0M1302.7 419.3h0M1289.0 437.2h0M1209.7 394.6h0M1301.2 330.5h0M1273.3 419.0h0M1291.3 367.1h0M1310.6 430.5h0M1232.9 351.5h0M1311.1 411.5h0M1252.9 332.4h0M1259.8 332.0h0M1232.3 424.6h0M1301.2 364.5h0M1322.1 412.5h0M1292.8 403.1h0M1238.4 388.1h0M1298.4 374.4h0M1244.5 414.7h0M1287.2 401.9h0M1262.0 330.3h0M1299.7 410.9h0M1282.6 351.2h0M1295.0 432.6h0M1318.2 367.8h0M1237.5 405.8h0M1246.4 422.5h0M1239.5 428.0h0M1325.2 386.2h0M1315.7 337.8h0M1298.8 332.8h0M1244.7 356.2h0M1223.3 398.2h0M1219.6 355.4h0M1310.7 360.6h0M1248.6 425.3h0M1283.0 368.9h0M1229.2 395.2h0M1267.8 403.2h0M1310.1 403.2h0M1225.8 407.8h0M1241.9 367.5h0M1269.3 335.8h0M1286.3 367.1h0M1312.4 417.8h0M1282.6 400.7h0M1244.3 342.6h0M1280.1 425.5h0M1246.9 421.1h0M1317.1 390.0h0M1316.7 351.9h0M1283.4 398.4h0M1237.0 383.4h0M1307.0 378.7h0M1317.4 380.4h0M1302.5 339.3h0M1267.6 435.0h0M1206.2 381.4h0M1262.0 417.0h0M1314.0 385.4h0M1279.0 386.1h0M1289.8 348.6h0M1233.3 380.1h0M1290.8 416.2h0M1238.7 344.5h0M1214.5 412.2h0M1260.9 417.6h0M1249.0 334.8h0M1307.4 406.2h0M1295.0 413.8h0M1272.8 353.4h0M1308.9 351.3h0M1313.7 361.7h0M1330.2 392.1h0M1274.5 355.6h0M1321.6 394.7h0M1240.9 358.9h0M1242.1 360.9h0M1326.4 390.5h0M1285.4 410.2h0M1210.9 393.6h0M1306.0 331.5h0M1325.6 380.3h0M1256.6 420.0h0M1238.8 380.2h0M1242.1 406.4h0M1250.6 378.7h0M1256.9 414.2h0M1274.2 367.7h0M1317.7 374.1h0M1215.0 404.6h0M1247.8 408.4h0M1297.8 387.7h0M1293.3 425.4h0M1279.1 366.8h0M1230.0 361.5h0M1310.6 423.7h0M1250.5 349.8h0M1253.9 370.3h0M1229.9 374.4h0M1303.7 344.7h0M1223.3 358.3h0M1212.8 417.7h0M1278.6 420.3h0M1264.4 388.0h0M1244.1 398.1h0M1314.9 370.2h0M1248.2 412.5h0M1308.9 430.0h0M1256.0 362.1h0M1269.3 392.5h0M1291.5 420.3h0M1285.8 351.8h0M1304.8 414.0h0M1313.1 333.7h0M1255.6 423.1h0M1254.3 340.9h0M1207.6 405.6h0M1263.3 342.1h0M1263.0 409.2h0M1212.1 360.4h0M1290.8 395.5h0M1277.0 355.6h0M1266.3 356.1h0M1264.8 335.6h0M1278.1 433.6h0M1314.0 345.3h0M1250.8 367.1h0M1303.9 355.5h0M1285.8 378.7h0M1308.4 350.4h0M1328.8 408.7h0M1285.3 389.1h0M1320.2 379.8h0M1228.8 364.5h0M1297.9 415.0h0M1231.2 367.6h0M1297.9 383.6h0M1262.0 330.2h0M1302.0 362.2h0M1214.1 377.5h0M1294.4 386.3h0M1254.7 409.7h0M1235.0 405.2h0M1315.3 348.3h0M1320.4 374.6h0M1247.7 339.4h0M1231.8 367.9h0M1293.0 429.3h0M1293.8 436.2h0M1327.5 424.9h0M1280.8 365.5h0M1292.3 408.3h0M1266.0 413.6h0M1313.6 336.6h0M1311.5 392.2h0M1276.7 357.1h0M1236.8 345.4h0M1316.0 385.4h0M1318.4 342.5h0M1321.8 371.6h0M1319.5 394.4h0M1247.6 364.1h0M1217.2 387.5h0M1236.7 359.8h0M1253.5 378.6h0M1249.3 386.2h0M1270.7 425.7h0M1274.0 401.2h0M1290.9 366.1h0M1261.1 346.8h0M1291.8 335.8h0M1314.1 370.6h0M1257.3 415.7h0M1241.9 403.0h0M1305.9 401.3h0M1302.1 394.1h0M1275.7 439.2h0M1226.9 420.3h0M1229.2 378.0h0M1244.8 391.7h0M1247.7 415.5h0M1279.5 341.3h0M1294.8 332.0h0M1316.6 360.4h0M1286.0 430.4h0M1262.0 359.7h0M1210.1 401.3h0M1291.4 402.7h0M1213.7 362.1h0M1239.0 340.4h0M1316.3 424.8h0M1283.1 360.1h0M1246.0 429.0h0M1215.8 359.9h0M1316.2 423.8h0M1283.1 384.7h0M1260.7 362.8h0M1217.0 391.4h0M1252.2 359.5h0M1327.4 400.9h0M1263.9 431.6h0M1300.6 355.9h0M1297.7 360.2h0M1230.3 407.0h0M1302.1 356.9h0M1274.7 358.0h0M1304.2 377.9h0M1231.3 386.4h0M1220.8 406.1h0M1225.9 390.7h0M1269.1 344.0h0M1292.5 381.9h0M1232.0 429.7h0M1274.6 415.8h0M1306.5 352.3h0M1232.0 356.2h0M1270.2 409.4h0M1218.8 353.1h0M1325.4 392.2h0M1280.0 373.0h0M1245.8 366.4h0M1265.7 362.1h0M1284.1 339.8h0M1253.5 432.3h0M1268.9 418.5h0M1226.5 419.1h0M1225.1 423.9h0M1304.1 403.1h0M1305.1 360.7h0M1309.5 431.4h0M1286.9 403.0h0M1233.6 369.6h0M1296.8 391.7h0M1275.1 337.9h0M1204.6 379.0h0M1257.4 417.0h0M1278.0 398.2h0M1283.8 434.7h0M1286.8 390.2h0M1296.0 415.5h0M1243.3 396.6h0M1231.2 363.8h0M1264.1 362.5h0M1288.1 433.3h0M1273.5 417.0h0M1233.4 427.9h0M1316.0 335.1h0M1224.2 419.4h0M1267.3 397.6h0M1268.2 334.6h0M1261.7 436.6h0M1291.6 371.7h0M1207.6 371.6h0M1245.5 408.6h0M1253.5 328.4h0M1280.3 432.8h0M1290.5 435.8h0M1277.2 387.9h0M1244.2 377.3h0M1274.0 428.7h0M1295.9 362.0h0M1212.3 383.7h0M1241.6 369.4h0M1283.3 421.6h0M1298.1 434.4h0M1278.1 335.1h0M1280.0 425.9h0M1212.0 394.6h0M1232.4 391.6h0M1234.0 384.7h0M1324.2 382.8h0M1225.2 387.1h0M1314.0 336.4h0M1221.8 398.1h0M1316.8 338.2h0M1303.5 385.2h0M1279.3 340.7h0M1328.8 415.4h0M1291.7 336.6h0M1309.1 415.2h0M1327.0 373.1h0M1252.0 425.9h0M1258.6 401.7h0M1302.1 346.3h0M1277.3 417.8h0M1247.2 376.6h0M1289.9 409.9h0M1257.7 338.1h0M1256.0 336.4h0M1269.0 431.1h0M1292.9 336.4h0M1220.8 401.3h0M1214.3 392.2h0M1319.2 369.4h0M1299.1 387.7h0M1297.0 333.4h0M1253.2 359.8h0M1272.3 381.1h0M1297.9 375.3h0M1264.9 343.2h0M1256.1 349.3h0M1259.5 399.5h0M1266.0 348.9h0M1302.0 338.0h0M1312.6 426.8h0M1270.2 380.1h0M1306.7 344.3h0M1301.6 331.1h0M1271.1 371.9h0M1251.8 379.2h0M1247.0 405.6h0M1258.8 357.4h0M1289.3 420.6h0M1305.7 428.8h0M1324.8 387.0h0M1319.1 430.1h0M1259.5 336.3h0M1267.9 340.2h0M1241.7 343.3h0M1311.7 391.7h0M1319.0 430.3h0M1258.4 366.7h0M1241.9 344.6h0M1310.4 360.0h0M1256.5 424.1h0M1268.6 351.0h0M1305.5 389.3h0M1262.4 411.9h0M1322.2 371.4h0M1294.8 339.9h0M1288.6 367.8h0M1255.2 339.5h0M1303.3 426.2h0M1262.6 343.5h0M1208.1 389.2h0M1256.6 402.5h0M1243.6 355.5h0M1286.7 429.8h0M1262.1 413.3h0M1206.0 382.4h0M1305.2 373.7h0M1214.0 397.7h0M1220.0 384.8h0M1286.0 378.5h0M1212.4 366.1h0M1266.5 357.3h0M1265.6 402.6h0M1285.4 387.2h0M1252.7 350.7h0M1295.2 378.9h0M1318.3 418.1h0M1330.6 402.7h0M1259.8 430.7h0M1212.0 375.8h0M1317.0 385.9h0M1307.9 414.1h0M1276.9 371.3h0M1277.7 429.1h0M1330.2 429.7h0M1274.6 334.2h0M1250.1 343.0h0M1209.7 369.8h0M1233.2 363.0h0M1248.2 417.0h0M1256.9 341.8h0M1281.2 379.5h0M1212.5 377.6h0M1241.2 352.2h0M1267.3 427.8h0M1258.3 424.5h0M1269.9 358.2h0M1244.3 428.8h0M1317.2 432.3h0M1206.5 403.2h0M1280.2 361.6h0M1235.1 408.3h0M1305.0 339.3h0M1245.9 360.4h0M1239.7 412.5h0M1307.4 330.2h0M1331.4 405.4h0M1306.0 395.7h0M1214.7 383.0h0M1321.1 369.0h0M1270.3 337.5h0M1283.9 429.8h0M1234.2 377.3h0M1265.3 430.7h0M1297.8 392.4h0M1225.8 401.9h0M1268.7 403.2h0M1245.6 370.1h0M1269.7 415.5h0M1272.2 346.3h0M1266.5 389.7h0M1209.1 391.2h0M1276.8 398.3h0M1291.5 411.9h0M1214.0 359.4h0M1238.5 397.0h0M1320.1 365.2h0M1306.0 323.7h0M1235.9 386.1h0M1321.0 408.8h0M1223.9 390.4h0M1245.1 405.2h0M1294.0 340.8h0M1281.1 418.9h0M1310.2 359.2h0M1309.5 404.2h0M1246.8 403.8h0M1306.7 382.4h0M1273.8 345.8h0M1309.7 424.7h0M1264.3 334.6h0M1323.5 386.3h0M1280.2 407.6h0M1277.0 394.4h0M1248.1 389.5h0M1231.4 404.9h0M1296.4 380.3h0M1302.2 384.9h0M1229.8 358.5h0M1244.0 365.4h0M1247.8 344.9h0M1218.3 378.4h0M1211.8 374.5h0M1221.3 378.4h0M1269.7 419.4h0M1303.4 338.9h0M1243.1 388.9h0M1299.3 430.9h0M1273.8 338.3h0M1207.2 389.8h0M1318.1 352.1h0M1294.3 411.1h0M1267.4 348.8h0M1216.6 399.3h0M1222.3 395.2h0M1265.5 414.8h0M1302.8 359.3h0M1245.4 386.4h0M1274.0 331.0h0M1323.0 417.2h0M1300.1 332.0h0M1275.8 338.4h0M1216.0 382.9h0M1267.8 374.5h0M1298.8 388.4h0M1258.3 426.0h0M1230.3 384.3h0M1211.8 415.7h0M1229.3 389.1h0M1295.4 331.5h0M1214.3 381.6h0M1282.9 345.0h0M1288.1 342.4h0M1283.6 353.5h0M1233.7 408.7h0M1303.8 340.8h0M1329.5 427.4h0M1298.7 368.1h0M1320.5 433.5h0M1261.8 409.9h0M1241.8 378.8h0M1282.8 433.3h0M1323.7 414.7h0M1272.8 362.0h0M1332.1 409.9h0M1264.1 376.1h0M1258.3 426.8h0M1267.1 409.2h0M1269.8 429.3h0M1312.5 357.8h0M1308.0 402.9h0M1260.6 338.4h0M1215.9 364.4h0M1285.5 425.6h0M1252.7 405.3h0M1281.3 428.9h0M1300.0 356.3h0M1213.7 390.8h0M1318.6 421.4h0M1268.6 422.9h0M1280.2 425.6h0M1292.5 357.3h0M1278.1 410.1h0M1270.1 356.9h0M1261.9 383.4h0M1207.4 386.3h0M1283.7 342.0h0M1295.3 375.3h0M1290.1 363.2h0M1268.9 416.9h0M1270.7 354.7h0M1239.6 400.0h0M1272.0 372.5h0M1277.8 361.0h0M1226.7 356.6h0M1323.6 380.6h0M1217.3 391.1h0M1265.5 425.4h0M1306.3 383.7h0M1245.4 359.4h0M1314.5 365.2h0M1292.5 356.5h0M1260.4 336.1h0M1233.2 363.3h0M1268.8 363.9h0M1285.2 375.8h0M1244.6 367.5h0M1261.1 358.2h0M1251.2 377.2h0M1316.2 417.7h0M1316.7 377.5h0M1314.4 401.6h0M1246.0 394.0h0M1210.0 398.9h0M1289.7 363.8h0M1246.7 416.2h0M1242.0 384.4h0M1244.4 360.8h0M1277.2 422.5h0M1308.9 367.9h0M1310.5 345.4h0M1235.9 413.9h0M1236.0 372.3h0M1326.6 400.2h0M1259.1 436.2h0M1272.2 336.4h0M1244.6 343.4h0M1239.9 340.0h0M1291.4 414.2h0M1308.8 382.2h0M1221.7 412.9h0M1311.7 406.7h0M1278.5 353.8h0M1260.0 388.8h0M1293.8 385.3h0M1230.9 402.6h0M1269.1 401.2h0M1244.7 412.4h0M1230.4 363.0h0M1232.0 420.5h0M1282.0 419.5h0M1294.2 343.5h0M1299.8 418.2h0M1260.2 415.1h0M1245.1 333.2h0M1269.8 330.4h0M1316.0 410.9h0M1255.0 339.4h0M1271.2 332.1h0M1304.2 417.1h0M1214.2 359.7h0M1272.6 367.7h0M1302.4 400.6h0M1263.9 340.3h0M1310.2 392.9h0M1237.1 356.0h0M1257.2 372.3h0M1284.0 342.3h0M1282.7 397.4h0M1316.3 418.5h0M1303.9 391.3h0M1288.6 393.4h0M1250.4 332.3h0M1263.8 369.0h0M1321.2 379.5h0M1245.9 369.5h0M1268.1 394.8h0M1302.0 406.4h0M1324.3 363.7h0M1240.7 422.2h0M1324.1 408.5h0M1240.2 382.5h0M1277.8 354.4h0M1279.2 438.6h0M1279.9 393.3h0M1261.7 352.2h0M1314.7 332.7h0M1265.1 395.0h0M1328.2 398.5h0M1289.4 427.6h0M1208.8 373.9h0M1315.9 338.5h0M1247.6 395.1h0M1317.1 347.8h0M1277.9 398.4h0M1264.1 396.5h0M1275.5 395.3h0M1287.2 366.7h0M1281.2 368.3h0M1300.1 382.9h0M1209.6 366.6h0M1212.8 374.4h0M1299.5 371.4h0M1257.1 351.7h0M1311.9 347.7h0M1328.2 403.0h0M1233.1 371.8h0M1279.6 341.2h0M1292.6 382.2h0M1313.6 332.3h0M1221.0 388.7h0M1236.2 351.3h0M1244.5 412.9h0M1273.0 339.1h0M1287.8 341.1h0M1253.8 379.9h0M1311.4 334.8h0M1271.9 417.7h0M1249.1 400.4h0M1238.8 399.0h0M1292.0 376.3h0M1284.3 417.5h0M1319.9 380.4h0M1246.5 344.6h0M1241.2 405.5h0M1213.9 394.8h0M1232.0 375.1h0M1316.0 410.4h0M1218.1 401.4h0M1233.1 395.1h0M1264.7 381.5h0M1286.7 371.5h0M1305.9 396.0h0M1236.2 346.7h0M1288.6 387.3h0M1223.9 373.1h0M1324.2 371.4h0M1241.7 395.7h0M1210.3 364.1h0M1220.6 363.4h0M1270.4 394.3h0M1275.0 396.9h0M1234.2 396.9h0M1250.4 412.1h0M1257.1 395.1h0M1292.6 373.4h0M1231.4 410.8h0M1264.6 383.9h0M1247.7 386.6h0M1283.2 420.3h0M1295.4 387.5h0M1314.5 412.9h0M1304.8 333.4h0M1325.1 375.4h0M1238.0 410.6h0M1225.5 395.5h0M1209.9 402.0h0M1305.8 408.1h0M1273.1 414.6h0M1230.2 378.2h0M1276.2 355.0h0M1324.9 432.4h0M1244.9 408.4h0M1272.0 407.2h0M1276.5 416.1h0M1268.2 410.4h0M1312.0 351.9h0M1262.4 331.0h0M1319.2 409.7h0M1209.7 361.7h0M1295.4 347.9h0M1227.2 359.0h0M1254.6 381.6h0M1234.7 356.3h0M1268.1 398.2h0M1266.7 434.1h0M1266.4 334.5h0M1218.4 392.9h0M1214.8 412.3h0M1295.9 351.9h0M1249.9 339.1h0M1264.2 356.3h0M1310.3 337.3h0M1267.5 370.3h0M1310.8 369.5h0M1259.2 366.8h0M1256.4 408.8h0M1248.4 384.7h0M1257.8 403.4h0M1234.7 346.8h0M1319.4 428.7h0M1261.4 414.0h0M1301.4 397.5h0M1279.3 393.6h0M1212.7 397.1h0M1282.5 426.7h0M1304.2 380.3h0M1283.8 354.9h0M1281.2 357.2h0M1232.1 408.1h0M1259.2 402.5h0M1322.7 422.3h0M1314.0 394.6h0M1273.5 329.0h0M1322.2 355.5h0M1310.7 344.7h0M1292.2 392.1h0M1241.0 370.9h0M1228.0 399.6h0M1304.4 417.2h0M1303.3 333.8h0M1211.1 399.7h0M1329.3 407.8h0M1205.0 400.9h0M1255.6 404.3h0M1248.4 352.8h0M1300.7 362.9h0M1252.1 332.2h0M1239.3 411.6h0M1204.6 383.7h0M1240.8 399.4h0M1234.8 378.8h0M1288.7 432.6h0M1220.9 381.7h0M1231.0 374.6h0M1215.0 389.1h0M1271.2 336.8h0M1269.6 432.3h0M1266.0 374.7h0M1246.7 396.0h0M1329.5 391.6h0M1248.3 404.2h0M1273.6 393.9h0M1255.9 333.3h0M1303.2 358.7h0M1211.3 365.4h0M1231.2 406.3h0M1299.4 370.0h0M1281.3 356.9h0M1222.6 361.6h0M1290.4 381.6h0M1301.4 411.4h0M1252.9 327.4h0M1224.7 358.3h0M1294.8 372.3h0M1257.4 340.6h0M1305.3 409.4h0M1285.6 428.4h0M1305.1 378.5h0M1307.1 434.6h0M1311.0 427.6h0M1306.5 386.3h0M1277.8 333.0h0M1290.4 355.6h0M1310.9 331.6h0M1228.3 353.3h0M1272.9 358.8h0M1252.8 380.4h0M1222.4 385.4h0M1205.2 373.4h0M1281.9 384.2h0M1205.0 383.9h0M1322.1 366.2h0M1238.1 420.2h0M1313.7 417.2h0M1264.1 347.6h0M1218.1 396.8h0M1222.6 400.1h0M1221.0 374.7h0M1288.2 398.6h0M1243.8 391.8h0M1321.0 412.4h0M1262.2 326.7h0M1206.4 402.2h0M1290.9 433.1h0M1294.1 355.0h0M1254.8 380.3h0M1239.9 426.5h0M1264.7 333.5h0M1245.7 411.1h0M1300.7 424.3h0M1203.0 386.3h0M1322.1 396.4h0M1326.2 405.7h0M1235.3 423.0h0M1267.2 335.5h0M1212.5 401.1h0M1277.4 385.0h0M1242.6 367.2h0M1257.9 430.1h0M1274.9 425.5h0M1276.3 361.8h0M1220.6 382.6h0M1250.4 401.7h0M1276.8 411.4h0M1227.9 421.1h0M1248.6 337.6h0M1261.4 344.4h0M1262.5 429.9h0M1254.4 346.2h0M1298.8 363.6h0M1280.2 417.2h0M1236.9 348.3h0M1217.4 399.8h0M1305.7 411.4h0M1295.5 391.3h0M1290.8 358.3h0M1243.2 382.5h0M1296.6 339.0h0M1324.6 422.2h0M1262.9 334.1h0M1219.4 394.3h0M1248.9 431.2h0M1283.3 403.5h0M1314.6 381.0h0M1256.1 398.7h0M1215.8 413.9h0M1284.7 343.5h0M1229.5 361.2h0M1305.7 393.9h0M1334.1 409.6h0M1306.3 407.6h0M1301.1 384.4h0M1328.9 409.6h0M1270.3 394.6h0M1267.0 363.1h0M1290.8 420.6h0M1254.0 371.4h0M1257.9 388.1h0M1313.2 342.5h0M1262.0 407.7h0M1233.1 386.4h0M1300.4 417.0h0M1215.7 365.3h0M1214.9 356.4h0M1307.2 378.9h0M1242.2 371.1h0M1294.4 332.4h0M1310.6 426.3h0M1261.8 340.9h0M1292.2 418.5h0M1332.1 419.7h0M1327.6 424.6h0M1218.8 390.3h0M1329.3 408.9h0M1278.3 392.6h0M1264.9 422.1h0M1264.4 427.2h0M1260.7 377.9h0M1258.2 348.8h0M1256.8 327.2h0M1256.7 366.3h0M1309.7 360.0h0M1300.5 391.6h0M1282.1 415.6h0M1241.3 429.2h0M1255.6 369.7h0M1238.7 415.5h0M1270.2 379.4h0M1316.2 341.0h0M1306.8 409.9h0M1308.8 383.9h0M1296.5 338.3h0M1282.0 369.9h0M1325.0 412.9h0M1249.6 336.5h0M1274.6 397.4h0M1207.2 379.1h0M1221.7 360.3h0M1301.3 431.3h0M1216.1 363.2h0M1270.4 433.7h0M1320.6 416.3h0M1223.4 411.6h0M1257.2 382.4h0M1246.9 383.1h0M1238.4 383.7h0M1320.5 377.3h0M1253.4 402.6h0M1311.9 429.7h0M1321.0 361.5h0M1249.0 355.8h0M1307.0 397.0h0M1222.2 357.9h0M1279.2 420.5h0M1283.0 400.9h0M1243.4 423.1h0M1283.9 393.4h0M1240.0 389.7h0M1244.7 369.2h0M1327.0 374.5h0M1227.8 370.8h0M1232.8 406.0h0M1230.6 406.1h0M1263.9 371.2h0M1279.5 438.0h0M1281.0 346.7h0M1245.0 339.0h0M1286.3 429.8h0M1217.7 384.6h0M1313.1 339.9h0M1312.0 369.3h0M1273.5 393.3h0M1329.0 415.2h0M1278.7 392.4h0M1243.6 340.4h0M1263.1 351.9h0M1268.8 352.6h0M1255.3 332.9h0M1275.7 358.9h0M1257.9 430.7h0M1231.7 420.2h0M1260.6 363.0h0M1254.3 382.8h0M1245.0 394.3h0M1302.5 427.1h0M1258.0 391.0h0M1222.2 383.5h0M1319.1 344.4h0M1235.9 366.5h0M1274.9 368.2h0M1318.5 349.7h0M1235.1 385.9h0M1244.7 406.7h0M1270.6 421.8h0M1276.7 371.9h0M1305.4 410.0h0M1283.5 430.0h0M1244.8 414.3h0M1310.1 379.9h0M1294.8 410.7h0M1290.4 422.0h0M1209.6 391.9h0M1250.1 384.4h0M1313.8 355.9h0M1269.1 411.3h0M1273.3 388.0h0M1283.5 437.7h0M1213.4 373.3h0M1310.2 326.5h0M1305.3 364.2h0M1226.1 412.3h0M1293.2 408.8h0M1301.5 410.8h0M1288.2 361.6h0M1246.7 430.2h0M1234.8 371.1h0M1330.6 401.9h0M1281.8 345.7h0M1308.8 370.2h0M1254.0 371.6h0M1323.0 410.0h0M1223.4 361.5h0M1298.1 362.7h0M1249.3 372.3h0M1322.7 391.7h0M1281.4 406.6h0M1282.0 388.3h0M1295.2 391.4h0M1311.8 383.4h0M1245.3 342.5h0M1241.8 367.5h0M1245.3 386.7h0M1283.3 362.3h0M1264.4 404.1h0M1211.2 404.3h0M1305.8 410.2h0M1250.7 420.1h0M1231.4 400.7h0M1249.0 429.0h0M1204.5 393.4h0M1240.7 408.2h0M1273.2 371.7h0M1288.2 397.4h0M1244.2 391.5h0M1259.4 395.6h0M1292.2 334.6h0M1238.6 389.9h0M1318.1 373.2h0M1309.7 389.9h0M1312.3 432.0h0M1246.0 368.0h0M1270.8 425.6h0M1215.1 375.5h0M1313.5 346.0h0M1273.7 425.7h0M1305.6 346.5h0M1260.6 366.3h0M1260.0 331.1h0M1322.1 387.8h0M1316.7 401.3h0M1211.4 364.2h0M1223.1 357.4h0M1304.0 414.0h0M1283.4 417.9h0M1248.7 421.9h0M1306.5 378.4h0M1283.0 372.3h0M1214.7 392.3h0M1266.0 351.2h0M1254.6 394.5h0M1238.6 363.1h0M1206.4 406.9h0M1263.8 368.4h0M1250.8 395.4h0M1262.5 431.5h0M1244.1 394.5h0M1270.1 358.5h0M1240.8 374.9h0M1289.2 389.3h0M1214.7 407.7h0M1263.0 331.4h0M1296.2 430.6h0M1242.1 336.4h0M1302.9 426.2h0M1310.5 412.5h0M1236.9 405.2h0M1286.7 358.5h0M1266.7 416.3h0M1219.7 354.9h0M1258.8 360.2h0M1289.3 423.1h0M1311.3 397.0h0M1273.5 400.5h0M1240.5 405.4h0M1303.8 409.9h0M1264.6 392.8h0M1262.6 400.4h0M1213.3 382.1h0M1256.9 426.2h0M1239.5 357.6h0M1223.1 416.1h0M1296.6 348.9h0M1295.4 351.5h0M1306.2 329.2h0M1319.0 371.6h0M1319.8 383.3h0M1218.9 413.3h0M1256.5 387.1h0M1280.3 430.9h0M1265.5 386.2h0M1294.3 435.6h0M1324.2 385.0h0M1253.1 334.5h0M1264.0 393.5h0M1216.3 383.8h0M1318.3 426.8h0M1316.3 420.5h0M1265.3 380.9h0M1317.0 410.2h0M1290.0 348.0h0M1211.6 391.1h0M1230.4 385.9h0M1295.7 365.4h0M1311.4 426.0h0M1266.3 410.4h0M1247.9 408.6h0M1220.7 381.1h0M1213.0 387.6h0M1225.4 382.9h0M1295.1 404.4h0M1258.4 399.0h0M1273.1 369.9h0M1247.1 377.6h0M1283.0 362.3h0M1299.1 409.6h0M1265.6 386.6h0M1310.7 355.2h0M1299.2 369.8h0M1304.1 425.1h0M1261.8 333.2h0M1312.4 325.0h0M1284.0 408.1h0M1231.2 412.5h0M1297.2 376.7h0M1273.1 334.5h0M1218.6 367.8h0M1271.0 371.0h0M1312.1 408.3h0M1298.1 400.1h0M1247.2 392.1h0M1232.1 429.7h0M1253.6 394.6h0M1299.5 407.5h0M1240.3 384.7h0M1244.2 354.0h0M1301.8 337.3h0M1228.2 377.4h0M1217.0 420.0h0M1282.6 429.0h0M1240.2 383.3h0M1267.2 421.4h0M1256.5 397.5h0M1213.0 405.4h0M1237.8 398.9h0M1325.3 363.2h0M1239.4 382.8h0M1237.4 391.3h0M1232.2 414.0h0M1321.1 420.5h0M1248.1 372.1h0M1212.2 383.2h0M1222.9 423.8h0M1228.8 407.1h0M1270.1 358.3h0M1277.7 390.1h0M1274.8 352.1h0M1306.1 349.5h0M1309.1 343.8h0M1225.7 353.1h0M1327.2 427.4h0M1298.9 355.6h0M1320.0 398.7h0M1256.5 424.9h0M1236.0 425.5h0M1255.1 376.3h0M1324.1 404.9h0M1214.1 369.3h0M1333.7 408.0h0M1261.8 352.8h0M1255.5 377.4h0M1281.8 422.0h0M1300.3 391.3h0M1308.6 411.1h0M1323.6 408.0h0M1230.4 386.7h0M1258.8 359.6h0M1218.8 408.9h0M1254.1 360.6h0M1317.5 346.0h0M1267.0 354.7h0M1311.8 378.6h0M1253.5 380.4h0M1282.1 417.9h0M1293.4 362.8h0M1271.3 414.6h0M1278.6 388.5h0M1303.4 433.6h0M1295.4 345.9h0M1209.1 381.9h0M1273.5 422.1h0M1274.2 432.5h0M1234.2 408.0h0M1224.7 381.2h0M1251.3 425.6h0M1210.4 401.7h0M1300.2 370.7h0M1239.4 385.3h0M1275.1 349.4h0M1227.7 415.2h0M1269.8 433.0h0M1246.5 366.0h0M1297.2 415.4h0M1294.0 377.1h0M1272.7 403.7h0M1202.9 385.2h0M1268.4 425.5h0M1235.9 393.4h0M1291.4 413.8h0M1294.6 380.7h0M1286.4 418.9h0M1231.1 399.1h0M1292.5 433.1h0M1292.8 426.6h0M1314.9 432.9h0M1224.1 368.5h0M1224.9 404.2h0M1301.4 414.3h0M1326.1 404.7h0M1246.3 379.1h0M1213.4 370.8h0M1249.8 363.7h0M1310.0 330.2h0M1257.3 364.0h0M1246.7 403.2h0M1279.3 426.9h0M1304.0 413.3h0M1321.3 433.2h0M1281.0 350.6h0M1232.9 396.6h0M1286.9 345.7h0M1286.9 354.9h0M1282.7 388.3h0M1311.1 366.2h0M1257.1 422.7h0M1331.4 418.9h0M1318.2 386.3h0M1260.2 368.7h0M1215.0 372.1h0M1204.3 378.0h0M1276.7 366.3h0M1281.4 426.3h0M1322.0 366.0h0M1278.3 436.4h0M1238.7 341.2h0M1329.3 383.9h0M1233.1 425.1h0M1319.5 355.8h0M1279.2 366.0h0M1312.6 433.5h0M1322.4 352.4h0M1274.9 411.7h0M1270.2 425.5h0M1250.5 383.0h0M1265.5 420.4h0M1278.5 376.7h0M1299.4 364.2h0M1222.9 362.1h0M1234.5 381.7h0M1296.4 391.6h0M1259.1 422.2h0M1249.2 341.4h0M1315.8 380.6h0M1213.4 402.8h0M1259.0 389.9h0M1303.6 398.9h0M1230.5 412.6h0M1328.3 395.7h0M1222.5 387.9h0M1232.6 375.9h0M1321.1 350.3h0M1331.2 399.2h0M1282.6 342.4h0M1257.5 427.8h0M1289.3 430.2h0M1304.9 430.6h0M1243.5 354.5h0M1295.4 368.5h0M1228.1 357.0h0M1236.9 367.0h0M1276.2 436.9h0M1272.0 437.6h0M1304.4 388.7h0M1272.0 339.3h0M1274.4 358.8h0M1211.0 379.8h0M1265.6 337.6h0M1323.3 375.5h0M1246.1 396.4h0M1216.3 373.9h0M1275.5 339.4h0M1316.0 397.1h0M1317.1 393.3h0M1278.4 375.1h0M1245.7 381.7h0M1264.0 348.7h0M1315.6 429.8h0M1227.1 426.6h0M1321.4 385.8h0M1289.4 386.0h0M1321.3 400.2h0M1318.2 403.9h0M1294.6 434.4h0M1279.9 351.7h0M1313.0 412.2h0M1235.6 378.6h0M1225.0 412.7h0M1299.9 403.8h0M1274.8 375.4h0M1235.9 430.3h0M1287.0 371.3h0M1295.5 345.6h0M1303.8 337.2h0M1279.4 398.7h0M1229.2 349.5h0M1309.2 365.4h0M1253.1 383.3h0M1247.3 336.0h0M1244.6 366.8h0M1307.6 427.9h0M1222.9 409.3h0M1295.7 412.9h0M1310.7 366.8h0M1247.6 419.9h0M1299.6 375.1h0M1262.6 394.0h0M1280.0 392.5h0M1300.8 330.8h0M1306.2 328.8h0M1225.8 399.6h0M1301.3 426.2h0M1317.7 427.9h0M1231.2 385.2h0M1226.3 400.9h0M1235.5 430.7h0M1308.4 414.6h0M1322.7 390.6h0M1314.0 405.6h0M1321.8 397.4h0M1229.5 381.2h0M1224.6 400.4h0M1256.8 349.0h0M1283.5 421.4h0M1288.4 365.7h0M1321.0 429.6h0M1310.2 395.2h0M1309.4 362.6h0M1287.0 437.3h0M1219.7 414.0h0M1306.3 408.0h0M1296.2 414.3h0M1268.5 340.3h0M1239.4 416.6h0M1319.2 359.1h0M1311.9 336.7h0M1245.6 414.3h0M1295.6 342.1h0M1330.6 400.7h0M1313.3 392.6h0M1244.2 367.9h0M1330.0 395.6h0M1244.6 380.1h0M1297.1 341.0h0M1244.9 383.7h0M1324.1 421.8h0M1273.0 346.4h0M1266.1 353.2h0M1260.5 354.5h0M1274.9 392.7h0M1260.5 375.5h0M1239.4 354.4h0M1301.2 369.0h0M1292.2 414.0h0M1319.7 404.2h0M1219.5 401.9h0M1260.2 370.7h0M1300.5 401.3h0M1264.4 344.4h0M1320.9 384.2h0M1239.9 373.6h0M1290.5 355.3h0M1263.0 407.7h0M1288.5 384.6h0M1290.2 361.6h0M1312.8 403.2h0M1210.8 363.7h0M1286.7 400.8h0M1270.9 349.5h0M1287.6 387.8h0M1328.8 412.9h0M1333.3 415.1h0M1285.6 338.2h0M1224.0 364.7h0M1249.1 343.3h0M1287.8 428.3h0M1274.9 412.1h0M1251.9 367.1h0M1287.3 340.0h0M1297.3 404.1h0M1309.4 407.0h0M1262.9 389.1h0M1287.4 352.7h0M1314.5 392.8h0M1262.0 394.3h0M1265.8 368.3h0M1273.0 423.4h0M1320.4 433.0h0M1318.6 369.5h0M1264.7 366.8h0M1304.1 419.9h0M1324.2 357.2h0M1275.0 391.5h0M1223.5 385.9h0M1241.7 345.5h0M1207.1 393.0h0M1211.6 406.7h0M1288.0 407.8h0M1245.2 421.9h0M1320.6 402.2h0M1236.0 427.4h0M1268.6 356.8h0M1244.0 363.8h0M1265.0 422.4h0M1232.4 380.8h0M1262.7 368.7h0M1241.5 421.3h0M1247.1 352.3h0M1301.3 362.1h0M1217.5 381.1h0M1327.3 383.6h0M1224.1 417.5h0M1301.1 407.1h0M1269.9 370.5h0M1212.6 381.8h0M1260.3 340.3h0M1298.5 350.6h0M1236.5 359.5h0M1276.0 383.8h0M1300.9 370.5h0M1259.0 371.5h0M1242.1 412.8h0M1303.3 421.7h0M1295.9 425.6h0M1240.1 403.5h0M1280.2 351.0h0M1283.7 397.6h0M1260.8 407.1h0M1235.1 357.0h0M1305.1 369.5h0M1217.5 386.4h0M1242.5 353.3h0M1318.0 344.5h0M1308.0 353.5h0M1328.2 397.5h0M1225.5 427.0h0M1233.6 348.0h0M1315.7 433.9h0M1265.5 384.1h0M1216.7 416.0h0M1256.9 350.6h0M1326.0 421.6h0M1306.2 338.4h0M1275.5 338.4h0M1274.6 430.2h0M1279.3 422.8h0M1245.8 383.8h0M1254.0 397.2h0M1291.5 358.2h0M1266.4 412.0h0M1237.5 356.6h0M1295.7 429.1h0M1227.6 401.9h0M1225.0 374.3h0M1308.2 416.4h0M1252.2 395.1h0M1256.1 353.5h0M1252.9 364.0h0M1323.1 406.6h0M1249.8 386.3h0M1249.9 396.9h0M1310.5 366.4h0M1243.6 400.9h0M1231.4 380.6h0M1256.5 348.4h0M1228.8 400.1h0M1243.6 344.2h0M1278.4 337.3h0M1271.3 329.3h0M1280.0 395.2h0M1289.5 387.7h0M1246.6 376.0h0M1310.2 394.2h0M1307.4 356.3h0M1316.8 366.5h0M1310.6 352.3h0M1311.7 403.1h0M1289.1 365.0h0M1265.1 412.6h0M1244.3 424.6h0M1252.6 334.8h0M1270.6 373.6h0M1270.7 432.1h0M1303.2 362.3h0M1284.6 402.1h0M1245.0 384.0h0M1305.4 341.4h0M1246.9 365.4h0M1287.9 375.1h0M1247.8 338.5h0M1281.3 378.3h0M1280.4 360.7h0M1322.0 405.1h0M1256.1 419.9h0M1231.6 372.3h0M1313.4 350.2h0M1288.2 371.5h0M1285.9 378.4h0M1230.9 370.8h0M1239.5 374.4h0M1214.6 391.6h0M1212.2 382.3h0M1278.7 405.9h0M1269.1 388.3h0M1271.9 401.0h0M1250.8 359.5h0M1331.9 422.7h0M1303.6 397.5h0M1311.3 416.3h0M1240.5 366.1h0M1294.9 435.9h0M1297.5 400.9h0M1274.7 370.8h0M1234.4 368.8h0M1212.4 404.9h0M1282.2 421.8h0M1312.7 403.7h0M1214.5 403.0h0M1233.8 358.4h0M1248.0 388.6h0M1305.2 340.7h0M1294.1 430.7h0M1246.9 344.0h0M1286.1 341.6h0M1252.8 419.3h0M1274.9 358.6h0M1284.3 353.0h0M1227.3 410.9h0M1249.8 346.8h0M1267.7 362.9h0M1303.3 377.0h0M1244.0 418.0h0M1309.0 361.5h0M1287.0 405.5h0M1317.2 407.4h0M1249.1 365.1h0M1235.5 347.0h0M1234.4 392.8h0M1313.1 333.3h0M1317.4 367.6h0M1301.2 386.7h0M1253.4 430.7h0M1260.7 415.4h0M1245.3 358.7h0M1290.0 388.3h0M1231.2 416.8h0M1279.7 366.3h0M1257.3 354.4h0M1266.8 424.6h0M1288.5 385.8h0M1230.7 388.5h0M1254.3 417.4h0M1210.4 401.5h0M1265.7 423.1h0M1213.3 415.5h0M1300.5 385.6h0M1302.5 400.8h0M1278.7 360.1h0M1314.0 351.8h0M1307.3 344.5h0M1278.0 392.3h0M1301.6 426.2h0M1212.0 359.4h0M1281.0 420.5h0M1294.0 435.2h0M1263.5 416.9h0M1227.3 389.7h0M1321.4 410.7h0M1324.9 416.3h0M1297.8 416.0h0M1324.3 370.6h0M1213.9 376.2h0M1248.1 346.3h0M1295.2 394.7h0M1283.1 436.9h0M1229.5 427.6h0M1288.0 352.8h0M1279.5 438.4h0M1297.4 395.8h0M1311.1 328.0h0M1273.5 371.2h0M1233.3 430.7h0M1320.1 399.6h0M1311.4 417.1h0M1275.5 435.7h0M1257.4 356.1h0M1270.6 428.2h0M1287.9 409.1h0M1292.2 362.6h0M1306.9 392.3h0M1216.9 373.4h0M1223.5 389.7h0M1217.5 412.6h0M1316.9 417.9h0M1239.2 404.2h0M1249.7 367.4h0M1221.7 415.9h0M1260.4 345.4h0M1239.6 346.9h0M1269.5 422.9h0M1222.8 417.6h0M1309.1 333.7h0M1292.7 393.7h0M1277.3 334.7h0M1321.7 383.9h0M1270.4 347.9h0M1239.1 392.2h0M1235.2 400.7h0M1298.5 380.4h0M1302.1 365.5h0M1239.1 430.0h0M1289.3 340.2h0M1244.5 357.2h0M1324.7 393.2h0M1220.5 379.4h0M1313.6 342.0h0M1238.1 380.7h0M1251.8 393.9h0M1319.2 350.2h0M1241.5 381.3h0M1269.3 367.2h0M1291.8 419.4h0M1269.4 419.9h0M1246.3 332.8h0M1253.1 329.7h0M1245.6 369.3h0M1289.2 428.7h0M1276.9 418.9h0M1311.6 416.5h0M1260.5 413.5h0M1238.0 375.0h0M1315.0 330.2h0M1283.0 348.1h0M1262.4 387.8h0M1217.8 373.9h0M1324.9 413.6h0M1280.1 355.1h0M1254.7 366.1h0M1309.0 423.6h0M1317.7 399.5h0M1321.4 378.2h0M1220.6 366.3h0M1275.3 400.1h0M1218.1 366.5h0M1315.3 331.1h0M1212.0 363.3h0M1241.1 384.4h0M1327.2 413.9h0M1294.4 379.0h0M1265.2 384.3h0M1314.3 416.6h0M1247.1 331.9h0M1247.4 374.8h0M1209.1 388.5h0M1213.6 391.3h0M1238.7 408.2h0M1256.9 353.5h0M1294.3 360.8h0M1252.6 416.6h0M1217.2 418.2h0M1261.4 427.4h0M1227.0 387.0h0M1308.8 339.2h0M1265.4 430.9h0M1274.3 430.1h0M1243.6 424.3h0M1253.2 421.6h0M1262.3 418.4h0M1311.1 322.6h0M1320.7 399.0h0M1255.4 363.5h0M1239.4 368.3h0M1270.4 438.8h0M1234.5 420.1h0M1319.5 397.3h0M1321.0 396.1h0M1256.9 409.6h0M1284.4 378.8h0M1237.9 381.4h0M1270.7 332.6h0M1295.4 390.5h0M1290.7 349.7h0M1206.0 386.0h0M1233.0 401.1h0M1324.7 391.3h0M1292.0 369.1h0M1213.2 397.9h0M1245.0 345.9h0M1300.4 365.7h0M1329.8 386.8h0M1256.4 419.7h0M1277.9 362.8h0M1308.4 344.1h0M1226.3 352.0h0M1242.4 360.8h0M1314.0 397.3h0M1224.3 414.9h0M1287.2 395.1h0M1239.3 423.0h0M1276.6 370.4h0M1267.6 378.4h0M1251.7 345.7h0M1279.5 375.5h0M1231.1 349.0h0M1297.2 343.5h0M1292.4 366.6h0M1298.1 360.4h0M1276.8 332.0h0M1308.6 348.1h0M1293.1 428.4h0M1317.4 414.9h0M1292.4 395.6h0M1246.6 349.6h0M1308.6 337.0h0M1237.2 342.6h0M1225.5 425.7h0M1304.3 357.5h0M1241.2 341.4h0M1259.2 397.5h0M1307.4 324.8h0M1208.9 374.0h0M1295.8 389.3h0M1319.3 352.9h0M1258.8 393.3h0M1314.5 426.0h0M1251.0 349.1h0M1235.3 421.9h0M1277.3 367.4h0M1227.7 353.8h0M1235.6 380.3h0M1210.0 385.5h0M1281.5 410.8h0M1274.7 412.2h0M1225.0 420.6h0M1230.8 362.9h0M1310.5 418.2h0M1297.3 361.0h0M1232.5 396.8h0M1233.9 388.9h0M1304.2 426.9h0M1301.3 360.8h0M1298.6 434.7h0M1273.0 378.1h0M1315.5 378.0h0M1324.4 423.2h0M1265.1 385.5h0M1226.7 399.4h0M1221.9 385.6h0M1266.0 404.6h0M1296.1 431.4h0M1320.6 421.7h0M1222.0 374.6h0M1295.5 371.7h0M1231.9 370.0h0M1301.2 393.8h0M1255.5 366.8h0M1263.3 362.9h0M1319.7 369.0h0M1301.3 387.7h0M1260.6 392.0h0M1305.8 378.2h0M1290.2 355.7h0M1291.8 349.2h0M1294.2 397.9h0M1242.2 390.0h0M1242.0 347.8h0M1287.6 337.7h0M1206.6 400.5h0M1249.8 362.4h0M1286.1 426.1h0M1303.2 386.7h0M1249.3 331.7h0M1242.5 376.6h0M1261.7 363.1h0M1300.3 432.5h0M1278.7 376.5h0M1308.4 394.8h0M1283.7 351.9h0M1276.3 404.2h0M1219.1 391.8h0M1282.3 389.7h0M1294.9 432.1h0M1327.7 433.0h0M1312.4 340.8h0M1297.5 407.1h0M1272.2 375.4h0M1252.7 366.6h0M1256.1 345.9h0M1309.6 391.3h0M1215.7 384.8h0M1285.7 430.3h0M1258.0 412.4h0M1235.9 364.1h0M1256.1 392.8h0M1237.5 341.2h0M1317.5 423.1h0M1243.3 375.7h0M1255.9 388.6h0M1276.2 436.2h0M1312.2 394.8h0M1218.4 371.4h0M1267.9 439.1h0M1284.5 406.7h0M1265.0 410.3h0M1327.7 401.8h0M1256.6 423.3h0M1283.8 419.8h0M1239.4 404.5h0M1322.6 416.3h0M1270.1 416.8h0M1318.2 376.3h0M1233.7 362.3h0M1203.6 395.9h0M1252.0 372.6h0M1303.2 353.1h0M1248.6 359.7h0M1221.6 384.3h0M1248.7 356.0h0M1239.3 414.0h0M1252.8 403.0h0M1295.1 418.9h0M1311.9 403.1h0M1270.3 361.8h0M1255.2 427.3h0M1326.2 403.1h0M1275.5 361.9h0M1275.4 426.9h0M1223.9 382.9h0M1248.4 381.7h0M1241.6 364.6h0M1310.0 325.6h0M1263.9 340.3h0M1301.0 408.9h0M1230.2 416.6h0M1224.9 371.1h0M1260.6 385.5h0M1315.1 346.3h0M1246.9 339.0h0M1326.9 410.4h0M1268.9 364.2h0M1280.1 364.7h0M1249.9 403.5h0M1223.5 372.3h0M1257.1 377.8h0M1293.4 408.5h0M1314.0 346.5h0M1331.0 398.7h0M1295.0 361.0h0M1316.1 366.7h0M1289.1 388.3h0M1279.6 353.6h0M1296.5 346.4h0M1320.3 378.1h0M1269.0 332.5h0M1274.0 338.2h0M1216.3 396.3h0M1322.9 405.1h0M1210.4 385.7h0M1324.7 421.8h0M1305.3 393.2h0M1249.0 335.4h0M1320.5 409.4h0M1257.3 424.7h0M1272.9 403.2h0M1238.8 365.5h0M1253.3 377.3h0M1290.4 353.7h0M1280.0 377.8h0M1232.9 418.4h0M1219.4 390.8h0M1237.4 413.5h0M1237.2 399.4h0M1258.7 393.5h0M1274.7 374.9h0M1299.4 417.4h0M1269.9 412.2h0M1300.0 405.8h0M1247.5 384.4h0M1277.0 333.7h0M1271.3 374.6h0M1266.9 422.5h0M1296.8 393.1h0M1265.7 402.4h0M1288.4 352.1h0M1260.5 341.5h0M1326.4 374.0h0M1277.7 426.8h0M1259.5 370.8h0M1209.5 377.9h0M1250.9 387.6h0M1294.0 386.0h0M1237.8 425.8h0M1300.3 346.2h0M1317.3 372.1h0M1214.7 390.5h0M1275.0 393.3h0M1292.4 359.3h0M1219.9 391.2h0M1225.8 363.0h0M1248.3 383.8h0M1220.5 397.6h0M1284.9 352.4h0M1257.8 389.6h0M1304.3 420.2h0M1296.1 430.9h0M1276.6 360.1h0M1247.8 398.9h0M1297.7 396.9h0M1256.3 411.3h0M1281.1 406.6h0M1327.8 402.1h0M1302.7 355.3h0M1298.5 425.3h0M1293.7 356.3h0M1325.3 367.7h0M1279.5 365.6h0M1264.2 421.6h0M1281.5 428.2h0M1315.4 330.7h0M1231.9 416.9h0M1292.0 398.1h0M1225.4 427.1h0M1251.4 377.7h0M1298.3 374.4h0M1282.9 378.9h0M1241.4 398.5h0M1223.1 354.5h0M1213.1 398.9h0M1292.3 411.7h0M1307.8 394.9h0M1227.8 419.2h0M1303.9 363.0h0M1252.7 359.2h0M1297.1 332.5h0M1306.3 380.5h0M1260.9 374.0h0M1253.6 364.2h0M1265.3 334.9h0M1238.3 387.1h0M1262.2 326.6h0M1265.9 376.5h0M1262.3 426.7h0M1228.1 373.7h0M1279.1 374.2h0M1305.0 400.7h0M1319.1 347.7h0M1227.4 407.7h0M1327.1 422.9h0M1303.4 350.8h0M1266.7 392.2h0M1291.9 393.2h0M1291.1 346.0h0M1265.0 377.5h0M1288.0 376.2h0M1262.4 432.8h0M1319.3 387.8h0M1283.8 416.0h0M1265.2 332.4h0M1302.1 327.4h0M1241.2 344.8h0M1316.5 396.6h0M1220.2 367.2h0M1239.6 338.6h0M1219.4 411.2h0M1264.1 355.6h0M1308.3 375.6h0M1288.1 339.1h0M1256.8 335.7h0M1304.1 352.8h0M1307.1 395.4h0M1309.8 335.3h0M1304.6 346.2h0M1327.0 416.8h0M1323.6 389.8h0M1258.1 396.3h0M1214.6 382.6h0M1257.6 368.9h0M1272.4 412.2h0M1226.9 400.1h0M1270.6 391.5h0M1268.1 346.1h0M1257.2 358.0h0M1298.5 345.2h0M1214.4 363.5h0M1237.4 421.3h0M1294.1 391.5h0M1261.8 345.2h0M1317.8 387.9h0M1307.7 387.7h0M1298.5 324.8h0M1316.4 432.7h0M1296.1 420.3h0M1280.6 339.2h0M1235.8 369.0h0M1279.9 370.7h0M1203.3 396.9h0M1268.1 364.3h0M1282.6 393.5h0M1294.4 404.4h0M1330.2 416.0h0M1298.8 353.3h0M1317.8 340.2h0M1251.4 383.6h0M1208.7 403.3h0M1232.4 347.8h0M1235.2 388.3h0M1206.2 395.6h0M1307.1 356.2h0M1289.0 351.5h0M1293.7 362.9h0M1237.8 406.2h0M1308.2 341.2h0M1316.3 377.9h0M1236.2 421.4h0M1307.1 371.9h0M1252.1 404.9h0M1327.7 392.7h0M1312.2 336.5h0M1259.6 368.9h0M1253.6 360.2h0M1311.9 345.5h0M1323.5 393.9h0M1232.7 368.5h0M1273.4 378.4h0M1273.2 422.6h0M1236.1 387.1h0M1224.2 380.3h0M1275.8 409.4h0M1287.2 420.7h0M1313.9 327.3h0M1302.0 324.5h0M1297.2 377.0h0M1211.7 362.3h0M1236.1 409.7h0M1250.9 372.4h0M1301.2 378.3h0M1294.1 381.9h0M1223.4 366.3h0M1303.5 366.4h0M1219.3 391.2h0M1264.4 379.7h0M1210.7 406.3h0M1258.0 339.1h0M1308.3 374.1h0M1241.0 389.5h0M1279.3 423.4h0M1246.7 394.6h0M1238.7 401.8h0M1274.2 366.6h0M1258.6 421.2h0M1239.6 373.6h0M1287.3 361.2h0M1266.2 427.3h0M1311.5 431.4h0M1270.2 370.9h0M1224.9 425.7h0M1279.3 407.2h0M1270.7 353.0h0M1234.3 428.2h0M1246.6 343.2h0M1227.8 352.4h0M1245.0 405.1h0M1210.2 394.8h0M1284.7 399.2h0M1271.3 358.6h0M1271.0 403.1h0M1264.4 391.4h0M1274.6 435.2h0M1295.3 397.6h0M1277.2 334.6h0M1212.7 396.3h0M1245.9 359.1h0M1237.6 351.8h0M1257.0 335.9h0M1243.0 365.1h0M1331.0 404.7h0M1300.9 356.4h0M1312.9 415.3h0M1238.6 345.0h0M1260.4 381.9h0M1274.6 375.4h0M1230.6 393.3h0M1325.5 430.0h0M1277.1 415.4h0M1280.7 402.5h0M1323.9 430.6h0M1253.8 406.4h0M1264.1 337.2h0M1325.8 388.2h0M1235.4 407.6h0M1325.9 401.9h0M1316.5 419.8h0M1285.2 365.0h0M1263.7 343.6h0M1307.5 360.0h0M1312.7 348.5h0M1282.6 395.7h0M1316.0 331.7h0M1208.4 404.3h0M1263.0 349.0h0M1276.1 378.4h0M1294.2 371.1h0M1250.6 389.7h0M1273.9 361.8h0M1252.6 411.1h0M1255.3 380.0h0M1296.7 428.1h0M1274.0 362.0h0M1282.5 416.6h0M1210.9 373.3h0M1206.9 385.7h0M1219.9 383.4h0M1321.3 351.7h0M1253.2 394.7h0M1318.7 394.6h0M1302.1 363.1h0M1234.9 423.8h0M1286.5 337.7h0M1298.3 332.7h0M1306.7 403.4h0M1318.0 369.3h0M1205.7 381.6h0M1246.7 406.2h0M1322.1 358.3h0M1277.7 364.0h0M1249.5 332.4h0M1312.6 421.7h0M1270.2 329.0h0M1301.7 418.2h0M1232.3 413.5h0M1206.7 393.5h0M1263.6 428.3h0M1314.2 409.2h0M1228.3 398.7h0M1270.6 363.9h0M1256.9 412.4h0M1231.2 430.0h0M1272.0 424.2h0M1271.8 328.4h0M1280.3 340.8h0M1306.6 340.2h0M1274.2 356.4h0M1289.1 436.6h0M1300.4 364.1h0M1270.7 399.2h0M1235.5 381.7h0M1269.6 338.8h0M1294.9 343.0h0M1288.7 431.2h0M1279.7 426.7h0M1279.4 370.5h0M1265.9 418.5h0M1307.4 384.5h0M1280.1 357.0h0M1225.6 385.6h0M1220.6 357.9h0M1212.8 393.5h0M1324.3 375.9h0M1269.5 374.8h0M1230.1 424.1h0M1297.5 368.5h0M1278.4 422.8h0M1286.7 337.5h0M1277.9 343.1h0M1278.4 394.7h0M1304.8 410.5h0M1292.8 354.8h0M1238.5 360.3h0M1257.7 342.7h0M1290.3 417.7h0M1274.5 373.1h0M1230.1 416.2h0M1246.1 416.9h0M1273.0 345.1h0M1329.1 429.4h0M1308.1 384.6h0" stroke="#D89000" stroke-width="2.8" stroke-linecap="round" fill="none"/>
<path d="M1074.2 329.7h0M1085.5 342.0h0M1122.8 356.2h0M1105.8 341.2h0M1106.3 344.9h0M1118.7 360.8h0M1132.7 324.8h0M1098.6 324.3h0M1109.2 328.0h0M1069.6 333.7h0M1094.6 349.5h0M1103.3 339.1h0M1107.5 355.8h0M1108.0 351.2h0M1105.3 324.2h0M1069.3 337.0h0M1132.3 325.6h0M1127.3 326.9h0M1113.0 333.3h0M1106.7 354.1h0M1067.7 328.6h0M1084.3 336.5h0M1055.8 344.7h0M1131.0 344.4h0M1087.0 323.9h0M1107.8 323.2h0M1115.7 357.6h0M1104.9 347.4h0M1110.3 364.3h0M1075.2 328.0h0M1120.5 345.7h0M1122.9 359.6h0M1100.2 325.1h0M1112.1 328.9h0M1078.2 341.6h0M1076.9 336.3h0M1090.7 328.2h0M1103.3 350.5h0M1112.4 332.4h0M1091.8 324.6h0M1129.8 343.6h0M1109.3 334.6h0M1111.4 326.7h0M1118.4 355.9h0M1057.2 344.9h0M1118.9 355.4h0M1106.7 343.8h0M1099.7 320.5h0M1104.2 327.3h0M1071.5 336.6h0M1095.4 351.9h0M1068.2 329.8h0M1104.7 350.3h0M1066.8 330.9h0M1106.6 328.3h0M1116.1 357.2h0M1111.3 363.9h0M1118.1 330.8h0M1053.8 346.1h0M1093.7 322.7h0M1089.2 325.1h0M1059.4 340.8h0M1094.4 333.5h0M1111.3 342.0h0M1116.5 320.4h0M1091.1 327.9h0M1107.2 326.3h0M1076.7 339.3h0M1111.0 354.3h0M1081.3 337.8h0M1102.8 320.4h0M1088.6 347.5h0M1060.2 338.8h0M1102.9 330.3h0M1116.1 337.3h0M1115.8 321.9h0M1063.3 342.1h0M1121.5 323.6h0M1086.0 332.2h0M1126.6 361.1h0M1101.6 329.7h0M1112.9 321.6h0M1078.5 327.6h0M1071.2 338.9h0M1123.3 331.4h0M1078.7 324.6h0M1124.1 344.3h0M1131.8 331.7h0M1122.8 356.8h0M1072.1 333.7h0M1081.6 333.0h0M1081.9 320.6h0M1084.7 347.4h0M1126.2 353.5h0M1119.0 365.5h0M1112.3 353.5h0M1119.7 327.9h0M1106.1 334.4h0M1122.1 321.8h0M1095.9 332.2h0M1120.4 332.6h0M1122.4 358.2h0M1125.5 322.1h0M1107.9 348.3h0M1096.7 338.2h0M1117.1 359.4h0M1067.6 332.4h0M1118.3 326.6h0M1113.5 325.1h0M1089.2 335.5h0M1118.8 363.7h0M1126.8 339.0h0M1127.3 352.4h0M1098.9 320.4h0M1100.1 357.3h0M1094.1 339.7h0M1106.9 325.6h0M1080.5 333.5h0M1052.0 345.1h0M1086.4 319.7h0M1117.6 333.2h0M1118.7 326.2h0M1086.7 334.4h0M1110.8 362.4h0M1066.5 330.4h0M1065.3 342.9h0M1092.5 349.1h0M1118.2 324.4h0M1128.2 343.1h0M1115.1 359.3h0M1097.7 322.3h0M1103.9 356.0h0M1085.9 345.7h0M1071.5 329.1h0M1085.6 341.2h0M1089.7 319.7h0M1111.4 353.2h0M1069.6 328.0h0M1094.0 323.9h0M1066.6 344.9h0M1111.7 353.2h0M1111.0 351.2h0M1131.1 337.6h0M1118.3 349.6h0M1061.4 338.5h0M1070.3 325.1h0M1063.0 335.9h0M1102.8 330.5h0M1076.5 340.7h0M1065.0 339.5h0M1090.0 325.1h0M1100.5 322.4h0M1110.0 364.3h0M1084.1 333.1h0M1086.0 333.0h0M1109.1 335.0h0M1098.8 315.3h0M1122.9 352.2h0M1129.1 335.5h0M1086.6 330.2h0M1097.2 348.8h0M1112.9 363.4h0M1061.6 333.7h0M1123.1 355.3h0M1100.3 349.5h0M1096.8 335.5h0M1127.1 355.8h0M1090.7 340.3h0M1079.4 342.1h0M1129.9 347.6h0M1090.5 332.0h0M1082.7 346.1h0M1117.4 328.3h0M1081.2 334.8h0M1095.9 329.1h0M1112.8 351.7h0M1086.8 324.8h0M1114.1 358.8h0M1082.6 319.8h0M1124.9 353.4h0M1110.6 347.1h0M1064.7 346.1h0M1107.5 364.4h0M1086.8 334.9h0M1071.0 326.9h0M1110.4 323.9h0M1054.1 342.0h0M1108.2 316.7h0M1099.1 338.0h0M1125.7 345.7h0M1078.3 335.2h0M1128.6 343.6h0M1117.4 341.3h0M1098.6 352.1h0M1102.5 331.1h0M1081.8 328.7h0M1127.6 355.4h0M1117.6 356.9h0M1071.8 346.2h0M1091.5 329.0h0M1100.0 336.8h0M1116.6 320.2h0M1124.8 337.5h0M1112.2 328.1h0M1112.5 348.1h0M1057.5 340.2h0M1111.8 325.9h0M1105.9 329.2h0M1086.1 344.2h0M1119.3 353.7h0M1090.1 321.0h0M1114.2 322.4h0M1108.1 317.7h0M1113.4 321.7h0M1104.4 334.2h0M1089.4 338.9h0M1111.5 352.2h0M1119.9 321.1h0M1065.2 340.5h0M1078.3 323.4h0M1129.9 339.2h0M1117.4 327.8h0M1128.4 326.3h0M1127.9 346.3h0M1103.9 342.2h0M1123.4 337.6h0M1119.1 349.8h0M1113.8 326.8h0M1097.2 335.7h0M1089.9 340.2h0M1072.3 333.8h0M1097.2 353.9h0M1100.3 323.3h0M1126.1 333.8h0M1061.2 344.7h0M1133.1 334.6h0M1096.6 331.0h0M1103.8 343.7h0M1104.2 342.7h0M1124.0 349.2h0M1080.4 345.8h0M1097.1 325.5h0M1093.1 321.0h0M1121.8 349.1h0M1108.5 362.3h0M1133.3 331.0h0M1098.5 315.5h0M1100.3 357.0h0M1093.9 331.5h0M1133.1 335.7h0M1109.7 318.4h0M1121.2 365.0h0M1072.5 322.5h0M1105.8 323.2h0M1112.2 343.1h0M1100.2 355.8h0M1062.9 340.6h0M1099.0 343.6h0M1084.9 342.7h0M1085.8 327.1h0M1114.8 327.3h0M1120.7 327.3h0M1057.1 339.3h0M1082.7 332.1h0M1115.6 326.3h0M1107.3 357.6h0M1088.4 340.7h0M1129.4 345.8h0M1085.9 330.7h0M1075.6 331.5h0M1128.2 351.0h0M1086.3 323.5h0M1122.7 348.0h0M1062.6 346.9h0M1078.2 320.2h0M1113.6 351.6h0M1093.4 323.6h0M1107.3 337.1h0M1106.5 319.7h0M1068.4 335.3h0M1082.1 325.4h0M1098.2 324.3h0M1085.2 335.5h0M1086.7 322.7h0M1069.4 332.0h0M1070.8 331.1h0M1089.4 323.7h0M1098.2 330.9h0M1104.8 326.0h0M1088.7 322.4h0M1089.2 322.0h0M1098.9 335.7h0M1093.8 342.4h0M1104.4 321.7h0M1081.5 320.3h0M1094.0 336.4h0M1082.7 335.7h0M1083.6 336.1h0M1070.4 336.4h0M1107.5 334.3h0M1100.4 321.8h0M1084.3 335.1h0M1083.0 340.0h0M1109.6 337.9h0M1107.5 333.1h0M1112.5 334.5h0M1111.5 332.6h0M1075.4 331.4h0M1089.2 327.1h0M1083.9 331.3h0M1094.2 324.3h0M1079.3 331.1h0M1090.2 329.1h0M1097.9 323.5h0M1091.5 325.6h0M1103.0 335.9h0M1103.5 331.4h0M1078.0 341.2h0M1090.5 328.0h0M1079.9 328.6h0M1100.0 338.6h0M1089.2 336.5h0M1076.2 329.8h0M1083.2 326.4h0M1083.3 337.1h0M1101.2 324.0h0M1077.2 337.8h0M1097.4 335.2h0M1096.5 335.6h0M1079.1 320.5h0M1083.3 319.8h0M1112.2 331.6h0M1098.2 342.2h0M1104.6 324.5h0M1082.2 321.6h0M1104.2 336.7h0M1089.4 327.9h0M1079.0 330.7h0M1100.2 340.5h0M1087.1 329.1h0M1074.8 322.8h0M1079.5 341.1h0M1106.9 327.0h0M1086.5 323.6h0M1103.1 328.0h0M1087.1 328.5h0M1094.6 325.1h0M1067.0 328.4h0M1083.8 337.3h0M1082.0 335.3h0M1096.0 323.5h0M1095.3 326.1h0M1075.6 339.5h0M1109.6 324.6h0M1094.1 332.8h0M1081.5 319.9h0M1081.6 334.5h0M1094.9 331.2h0M1071.9 324.1h0M1080.9 329.0h0M1083.4 340.7h0M1077.5 339.6h0M1077.7 333.1h0M1084.1 319.9h0M1104.2 338.5h0M1078.9 337.6h0M1089.0 342.7h0M1068.6 328.1h0M1076.9 334.0h0M1103.3 339.2h0M1092.3 328.3h0M1104.4 321.5h0M1078.5 337.1h0M1087.1 342.8h0M1070.4 330.1h0M1083.7 329.4h0M1090.4 325.9h0M1099.7 331.4h0M1090.5 330.8h0M1083.8 339.7h0M1076.1 340.1h0M1083.2 327.1h0M1095.5 332.5h0M1079.6 321.0h0M1111.9 327.9h0M1071.5 334.8h0M1091.5 326.9h0M1081.8 339.3h0M1082.3 329.0h0M1111.9 327.7h0M1063.5 366.8h0M1076.8 406.5h0M1065.8 386.1h0M1054.9 416.4h0M1066.3 419.7h0M1062.1 411.9h0M1077.5 393.3h0M1067.1 369.6h0M1051.8 405.0h0M1078.4 374.4h0M1075.9 364.8h0M1074.3 367.6h0M1069.0 378.8h0M1071.1 364.6h0M1067.7 402.7h0M1049.9 378.4h0M1077.6 397.1h0M1074.5 415.6h0M1072.1 371.6h0M1065.6 419.6h0M1071.9 413.5h0M1061.6 389.4h0M1076.3 362.4h0M1080.1 375.1h0M1086.1 368.0h0M1085.2 395.1h0M1065.4 419.6h0M1078.1 396.1h0M1087.0 370.0h0M1088.8 380.8h0M1074.8 363.5h0M1051.1 377.1h0M1057.2 426.7h0M1083.6 376.2h0M1080.3 372.0h0M1071.2 402.4h0M1087.0 365.3h0M1078.7 390.7h0M1083.1 390.0h0M1057.3 412.8h0M1085.4 373.6h0M1078.4 385.3h0M1054.4 371.2h0M1091.7 383.1h0M1069.0 393.6h0M1081.0 423.2h0M1061.2 370.6h0M1060.7 411.8h0M1076.6 386.1h0M1069.8 366.2h0M1089.8 391.3h0M1068.8 416.2h0M1053.1 411.1h0M1061.0 418.2h0M1047.8 375.8h0M1075.4 392.1h0M1062.2 399.7h0M1054.1 388.6h0M1056.0 419.6h0M1071.2 401.5h0M1074.9 363.9h0M1082.6 377.1h0M1087.0 416.1h0M1077.6 418.4h0M1065.3 407.2h0M1048.1 386.5h0M1069.0 365.8h0M1054.3 422.5h0M1062.8 365.8h0M1052.3 399.6h0M1052.7 391.5h0M1070.4 388.7h0M1068.7 420.1h0M1082.1 399.0h0M1070.4 371.2h0M1082.8 378.2h0M1080.1 372.0h0M1072.2 405.2h0M1062.0 391.9h0M1046.3 404.8h0M1078.3 366.1h0M1071.1 411.9h0M1048.2 420.3h0M1055.7 360.6h0M1055.9 360.8h0M1068.0 373.8h0M1058.3 390.5h0M1061.9 416.3h0M1079.9 363.0h0M1059.8 362.5h0M1078.6 415.6h0M1064.0 427.6h0M1063.0 378.7h0M1069.1 388.8h0M1065.3 414.7h0M1085.4 391.6h0M1052.1 386.1h0M1088.5 386.2h0M1076.7 398.2h0M1066.5 399.4h0M1055.5 398.0h0M1061.8 423.6h0M1075.0 403.9h0M1086.0 391.1h0M1049.7 377.7h0M1079.3 411.5h0M1053.4 404.8h0M1076.5 406.0h0M1044.1 388.9h0M1059.6 401.2h0M1060.2 364.1h0M1077.2 376.7h0M1083.3 378.2h0M1070.8 417.8h0M1048.9 411.8h0M1061.8 368.2h0M1063.1 393.6h0M1064.2 363.7h0M1069.7 377.7h0M1092.3 384.3h0M1065.2 372.0h0M1092.4 379.4h0M1076.0 419.8h0M1063.1 413.7h0M1057.2 362.7h0M1045.2 389.5h0M1087.6 370.0h0M1065.5 414.3h0M1057.1 366.1h0M1069.5 387.6h0M1055.1 398.3h0M1064.2 356.7h0M1065.7 426.3h0M1058.4 400.3h0M1079.2 359.0h0M1058.4 410.6h0M1044.0 383.7h0M1049.5 391.4h0M1054.3 360.4h0M1069.4 364.8h0M1084.9 386.9h0M1055.8 373.0h0M1080.9 361.7h0M1091.2 386.2h0M1073.5 422.2h0M1078.4 400.4h0M1079.8 375.9h0M1068.3 368.7h0M1065.3 376.2h0M1072.9 377.6h0M1057.0 404.8h0M1047.4 417.3h0M1068.3 372.1h0M1048.9 394.2h0M1068.7 410.8h0M1062.1 386.6h0M1088.5 375.6h0M1056.1 418.3h0M1074.2 370.1h0M1084.3 398.1h0M1051.9 374.5h0M1074.4 369.3h0M1066.6 410.4h0M1047.9 406.2h0M1048.3 391.6h0M1076.1 408.3h0M1092.0 384.9h0M1064.7 383.6h0M1078.5 412.5h0M1076.2 385.8h0M1072.0 394.7h0M1085.8 373.0h0M1080.9 410.5h0M1087.8 375.1h0M1083.2 391.5h0M1058.9 383.1h0M1083.7 420.6h0M1086.1 406.9h0M1051.7 366.3h0M1072.0 370.7h0M1060.2 362.1h0M1050.9 410.6h0M1054.4 421.0h0M1059.8 421.1h0M1058.4 375.1h0M1063.1 355.0h0M1065.2 384.0h0M1062.1 354.0h0M1092.0 372.0h0M1048.1 410.1h0M1072.7 393.8h0M1055.6 376.7h0M1092.5 383.4h0M1049.4 421.0h0M1084.3 408.9h0M1071.0 418.2h0M1050.9 396.6h0M1056.6 385.5h0M1052.8 410.0h0M1072.2 415.6h0M1075.0 401.3h0M1071.9 379.8h0M1090.3 383.3h0M1048.2 380.3h0M1079.0 427.6h0M1075.9 406.3h0M1065.7 390.5h0M1081.7 379.1h0M1048.6 403.0h0M1084.3 373.6h0M1077.9 424.5h0M1049.5 364.7h0M1068.1 380.4h0M1065.7 416.7h0M1075.2 367.7h0M1046.9 389.8h0M1043.9 392.0h0M1064.0 429.4h0M1064.1 421.1h0M1082.8 400.3h0M1055.1 378.1h0M1068.1 385.2h0M1075.9 393.9h0M1059.5 401.9h0M1064.6 420.1h0M1085.7 400.3h0M1062.6 374.7h0M1074.7 359.2h0M1070.7 383.7h0M1068.1 385.9h0M1048.2 411.8h0M1083.8 401.3h0M1048.9 401.3h0M1087.8 406.5h0M1057.1 426.7h0M1055.6 399.6h0M1062.3 377.4h0M1081.8 402.7h0M1059.9 396.9h0M1090.3 398.8h0M1089.6 398.7h0M1066.5 397.6h0M1074.8 391.8h0M1075.3 396.1h0M1079.0 428.8h0M1076.1 417.2h0M1055.1 384.1h0M1054.5 409.7h0M1070.0 401.8h0M1059.6 400.4h0M1091.5 373.5h0M1069.3 384.5h0M1060.6 417.5h0M1051.9 398.1h0M1068.1 428.0h0M1051.3 420.4h0M1063.3 397.3h0M1059.8 366.3h0M1049.8 378.0h0M1078.7 399.9h0M1049.2 417.3h0M1068.9 365.3h0M1084.8 418.8h0M1054.1 428.2h0M1084.3 372.1h0M1082.1 415.1h0M1075.3 419.8h0M1059.0 408.0h0M1077.9 421.1h0M1071.9 375.8h0M1055.8 396.9h0M1049.9 421.9h0M1088.3 373.1h0M1078.6 407.2h0M1049.2 415.5h0M1082.1 378.2h0M1048.0 376.3h0M1082.4 390.9h0M1084.6 366.6h0M1048.4 381.6h0M1087.9 366.8h0M1046.7 413.5h0M1047.7 406.8h0M1047.3 373.5h0M1076.8 423.0h0M1063.9 389.5h0M1044.6 380.9h0M1055.3 416.3h0M1079.4 416.0h0M1070.1 409.3h0M1049.5 384.4h0M1057.9 376.3h0M1080.7 370.9h0M1059.6 376.3h0M1087.1 404.4h0M1067.5 384.0h0M1065.9 398.8h0M1087.0 374.3h0M1056.2 362.1h0M1068.6 414.7h0M1051.0 388.2h0M1062.5 420.3h0M1088.5 383.7h0M1049.3 404.3h0M1080.8 426.9h0M1076.7 378.3h0M1069.3 376.7h0M1065.7 391.0h0M1090.2 391.8h0M1090.0 404.6h0M1087.5 386.7h0M1086.2 418.7h0M1062.1 419.5h0M1053.9 413.4h0M1066.9 386.5h0M1053.0 417.2h0M1080.3 361.0h0M1062.1 386.8h0M1072.4 424.3h0M1091.2 404.0h0M1061.6 362.5h0M1046.5 395.0h0M1072.7 389.3h0M1093.1 386.7h0M1060.9 387.0h0M1073.1 396.9h0M1064.7 373.8h0M1059.1 393.0h0M1065.8 431.4h0M1071.7 370.4h0M1060.6 415.8h0M1088.4 372.7h0M1082.8 388.9h0M1070.4 396.1h0M1077.0 408.4h0M1062.4 426.6h0M1084.8 377.9h0M1046.4 397.7h0M1076.4 371.7h0M1045.2 392.5h0M1074.9 376.1h0M1065.7 372.4h0M1052.5 368.3h0M1084.6 389.8h0M1079.5 381.5h0M1084.1 401.1h0M1076.4 385.0h0M1071.7 369.1h0M1070.2 404.5h0M1048.1 380.4h0M1054.8 420.6h0M1043.7 389.1h0M1087.3 415.8h0M1079.7 377.8h0M1054.8 409.6h0M1058.2 411.1h0M1060.8 414.1h0M1072.2 418.4h0M1070.8 384.7h0M1082.3 378.9h0M1053.6 415.9h0M1071.1 413.7h0M1068.0 356.9h0M1082.3 371.2h0M1056.2 406.6h0M1082.0 404.3h0M1065.6 411.9h0M1077.1 370.3h0M1070.3 401.2h0M1080.2 369.6h0M1058.8 381.1h0M1047.9 381.5h0M1080.2 399.6h0M1051.8 411.8h0M1049.0 413.3h0M1055.8 394.7h0M1056.8 423.8h0M1090.9 376.4h0M1081.2 409.0h0M1071.6 374.1h0M1059.4 369.7h0M1064.9 425.0h0M1088.9 375.5h0M1053.8 363.2h0M1061.7 363.4h0M1052.2 373.8h0M1072.5 389.2h0M1058.6 395.5h0M1082.5 411.2h0M1060.5 426.5h0M1083.4 398.4h0M1067.3 380.0h0M1074.0 361.8h0M1044.7 409.3h0M1055.1 396.3h0M1085.5 381.7h0M1068.4 406.6h0M1052.8 403.5h0M1064.7 431.6h0M1052.6 410.2h0M1049.0 365.8h0M1069.9 367.8h0M1083.5 361.6h0M1074.8 422.0h0M1049.5 371.2h0M1082.0 391.1h0M1090.5 380.7h0M1063.3 429.6h0M1060.5 430.3h0M1088.4 369.8h0M1070.8 428.4h0M1049.0 421.1h0M1082.5 413.2h0M1073.6 361.9h0M1083.0 411.1h0M1059.2 408.1h0M1063.9 413.3h0M1062.6 417.5h0M1067.1 418.2h0M1058.4 397.1h0M1044.3 392.7h0M1077.5 387.6h0M1078.9 411.5h0M1090.1 388.6h0M1073.3 418.4h0M1090.1 375.4h0M1053.7 365.6h0M1088.8 406.5h0M1072.7 364.4h0M1064.1 428.8h0M1043.2 387.1h0M1085.9 411.8h0M1045.2 408.9h0M1068.1 392.8h0M1050.4 394.5h0M1083.9 364.4h0M1087.7 387.2h0M1056.6 372.9h0M1066.4 405.2h0M1072.1 424.3h0M1069.1 394.5h0M1059.0 363.8h0M1064.3 356.7h0M1090.0 392.3h0M1087.8 409.1h0M1080.2 413.9h0M1058.4 411.6h0M1053.5 397.8h0M1073.4 415.3h0M1051.6 381.2h0M1085.0 417.6h0M1053.7 362.4h0M1079.9 412.9h0M1076.1 415.6h0M1069.3 398.4h0M1090.0 405.2h0M1076.5 400.5h0M1068.2 413.8h0M1072.2 364.2h0M1064.7 387.3h0M1065.0 398.3h0M1061.4 384.9h0M1064.8 383.3h0M1063.2 389.5h0M1073.2 383.0h0M1057.6 390.8h0M1059.5 358.6h0M1055.3 374.1h0M1078.6 416.9h0M1067.0 384.6h0M1054.9 417.1h0M1048.8 400.9h0M1066.4 365.5h0M1046.1 411.8h0M1076.9 391.4h0M1074.4 361.9h0M1073.0 387.3h0M1055.7 427.4h0M1080.2 363.6h0M1054.7 381.1h0M1072.2 379.7h0M1065.4 418.3h0M1052.3 410.9h0M1059.9 428.6h0M1091.5 379.9h0M1073.9 362.8h0M1063.9 403.2h0M1075.5 381.1h0M1071.6 367.5h0M1058.6 402.9h0M1088.9 394.7h0M1056.0 400.3h0M1057.1 415.8h0M1051.0 374.7h0M1065.4 425.7h0M1051.4 369.2h0M1049.7 370.9h0M1059.9 385.2h0M1081.7 385.9h0M1067.2 385.3h0M1082.5 425.4h0M1064.7 426.8h0M1055.8 431.2h0M1069.8 407.9h0M1062.4 375.5h0M1061.3 409.2h0M1066.5 395.6h0M1053.6 368.0h0M1060.1 407.8h0M1079.2 388.2h0M1046.5 374.5h0M1053.8 419.0h0M1071.1 379.8h0M1055.7 377.0h0M1057.3 381.4h0M1083.3 416.3h0M1078.6 423.9h0M1076.3 363.0h0M1056.2 395.7h0M1084.9 400.3h0M1084.3 355.2h0M1093.0 359.1h0M1071.4 353.7h0M1099.0 380.5h0M1092.6 370.3h0M1078.5 356.2h0M1081.2 353.3h0M1077.2 352.5h0M1092.1 369.5h0M1087.4 353.0h0M1074.3 355.2h0M1087.6 363.2h0M1089.1 371.9h0M1102.4 363.0h0M1094.3 374.2h0M1083.5 352.2h0M1093.2 357.8h0M1072.7 352.5h0M1083.2 351.2h0M1082.5 365.8h0M1089.1 360.8h0M1097.4 365.3h0M1098.3 366.6h0M1072.1 355.7h0M1080.1 360.9h0M1095.1 374.2h0M1098.6 377.2h0M1079.9 351.9h0M1097.2 370.7h0M1082.0 358.7h0M1085.5 374.8h0M1080.8 357.9h0M1087.5 372.5h0M1094.6 360.8h0M1101.2 373.0h0M1089.2 359.3h0M1098.8 357.4h0M1070.8 353.6h0M1099.1 365.1h0M1089.1 365.4h0M1083.5 366.0h0M1071.5 351.6h0M1093.8 368.9h0M1099.0 370.7h0M1088.3 373.4h0M1039.8 422.2h0M1064.2 430.8h0M1047.7 420.3h0M1060.4 428.1h0M1044.7 430.1h0M1050.7 432.7h0M1057.2 419.2h0M1053.2 433.0h0M1058.1 420.7h0M1045.8 429.4h0M1036.2 406.4h0M1045.2 411.8h0M1064.5 434.3h0M1053.0 418.9h0M1044.8 425.1h0M1038.7 415.1h0M1038.8 418.1h0M1052.0 413.3h0M1056.8 423.5h0M1054.3 413.3h0M1058.8 428.5h0M1058.1 420.0h0M1049.9 412.7h0M1036.0 419.8h0M1062.9 435.9h0M1062.7 433.4h0M1043.6 430.4h0M1046.1 424.9h0M1045.5 413.5h0M1054.0 433.8h0M1036.8 422.8h0M1058.7 440.0h0M1053.1 415.6h0M1053.6 438.0h0M1043.1 433.6h0M1035.3 417.8h0M1046.7 424.3h0M1042.5 429.2h0M1039.4 404.6h0M1067.4 432.8h0M1049.7 432.6h0M1052.2 412.3h0M1058.6 427.7h0M1053.0 434.7h0M1040.8 417.6h0M1054.1 418.3h0M1043.1 433.1h0M1063.0 436.0h0M1059.4 425.0h0M1048.8 410.8h0M1041.6 404.5h0M1042.0 418.7h0M1045.1 420.1h0M1040.0 417.3h0M1038.9 425.5h0M1050.2 428.3h0M1054.7 418.1h0M1040.8 419.7h0M1052.7 436.6h0M1045.5 410.3h0M1409.0 328.8h0M1383.0 365.8h0M1378.7 331.7h0M1411.7 359.7h0M1363.4 327.4h0M1386.0 340.1h0M1366.5 347.7h0M1410.0 352.3h0M1369.8 320.5h0M1348.3 334.7h0M1372.0 318.4h0M1401.1 366.4h0M1391.0 347.5h0M1378.7 360.9h0M1420.0 338.6h0M1379.4 345.8h0M1387.5 343.3h0M1402.7 335.1h0M1404.7 370.7h0M1405.0 338.8h0M1375.4 331.0h0M1398.7 322.5h0M1402.0 328.7h0M1355.2 354.0h0M1403.4 347.3h0M1413.4 333.6h0M1385.3 329.6h0M1414.0 357.6h0M1375.6 318.0h0M1382.5 360.0h0M1403.1 338.6h0M1366.4 326.6h0M1367.7 345.6h0M1380.3 361.1h0M1388.5 369.6h0M1406.4 343.4h0M1400.7 345.5h0M1403.3 317.3h0M1364.2 339.3h0M1400.5 341.6h0M1354.1 337.6h0M1403.0 353.4h0M1398.3 332.0h0M1378.3 343.3h0M1374.5 331.3h0M1405.5 322.2h0M1384.0 336.8h0M1415.2 356.8h0M1376.8 336.0h0M1359.0 325.4h0M1405.9 357.0h0M1402.3 359.5h0M1415.7 339.4h0M1393.5 349.9h0M1384.0 314.9h0M1409.3 343.5h0M1393.8 353.7h0M1365.9 338.1h0M1366.9 330.6h0M1387.2 356.6h0M1386.5 329.5h0M1388.7 352.2h0M1374.0 364.2h0M1395.1 360.8h0M1377.7 323.5h0M1356.5 347.4h0M1380.9 371.4h0M1392.6 317.9h0M1417.9 323.3h0M1386.3 341.4h0M1396.0 322.4h0M1384.4 361.4h0M1377.6 324.5h0M1414.6 327.5h0M1410.9 338.1h0M1373.5 326.4h0M1365.9 331.1h0M1414.6 340.2h0M1395.2 352.4h0M1379.1 315.0h0M1407.4 361.5h0M1382.2 324.7h0M1421.0 330.7h0M1405.0 340.6h0M1383.1 353.5h0M1373.9 316.7h0M1413.2 366.8h0M1400.5 345.0h0M1359.1 341.5h0M1360.7 331.7h0M1381.6 358.9h0M1397.2 374.8h0M1398.6 352.2h0M1414.4 357.6h0M1420.7 347.2h0M1343.4 347.1h0M1415.4 362.2h0M1378.5 351.6h0M1357.3 340.9h0M1370.3 350.7h0M1396.9 334.2h0M1399.8 329.4h0M1379.4 350.1h0M1369.7 349.3h0M1405.4 350.9h0M1371.9 354.5h0M1389.1 321.7h0M1406.3 375.3h0M1367.6 333.6h0M1421.7 346.0h0M1371.4 366.3h0M1409.4 371.3h0M1406.4 355.0h0M1393.8 338.2h0M1414.7 352.9h0M1345.2 347.3h0M1410.2 344.8h0M1400.0 346.8h0M1359.8 341.5h0M1389.3 362.9h0M1411.3 333.6h0M1352.1 344.2h0M1421.2 328.2h0M1347.3 345.8h0M1401.2 334.5h0M1394.0 363.9h0M1353.4 344.5h0M1418.3 325.0h0M1374.7 346.2h0M1358.7 354.6h0M1403.2 352.4h0M1411.1 339.4h0M1385.6 329.0h0M1390.3 349.6h0M1418.4 332.5h0M1417.9 328.2h0M1409.3 330.2h0M1418.6 363.1h0M1418.0 364.3h0M1375.0 328.0h0M1354.8 350.4h0M1367.0 327.9h0M1398.4 324.9h0M1367.3 356.1h0M1368.8 334.0h0M1408.4 319.0h0M1394.5 331.9h0M1416.8 361.5h0M1403.6 344.7h0M1385.5 351.4h0M1347.7 344.9h0M1390.5 353.3h0M1358.9 339.3h0M1404.1 347.4h0M1401.4 361.3h0M1405.1 353.8h0M1395.6 372.1h0M1389.3 339.0h0M1417.2 338.2h0M1396.3 324.1h0M1405.2 319.5h0M1383.1 347.9h0M1406.8 365.6h0M1399.7 334.4h0M1382.7 359.7h0M1416.3 349.5h0M1420.9 328.8h0M1368.8 363.0h0M1419.2 342.2h0M1344.5 338.8h0M1355.6 330.2h0M1399.4 342.0h0M1393.5 323.1h0M1410.4 338.6h0M1414.8 338.1h0M1374.6 361.8h0M1355.6 355.2h0M1394.3 378.1h0M1402.5 352.9h0M1394.3 375.3h0M1410.9 335.9h0M1383.1 324.9h0M1400.5 375.7h0M1406.1 328.0h0M1420.6 338.3h0M1387.3 375.8h0M1363.1 340.1h0M1381.4 373.2h0M1382.4 340.4h0M1353.0 344.1h0M1387.7 322.4h0M1400.0 346.5h0M1368.1 336.2h0M1392.7 328.3h0M1391.8 344.4h0M1356.6 325.7h0M1386.6 332.0h0M1368.6 363.5h0M1350.0 331.9h0M1345.6 337.4h0M1353.3 346.8h0M1379.8 330.3h0M1369.1 360.0h0M1384.6 320.3h0M1345.8 333.7h0M1386.5 335.2h0M1382.7 321.4h0M1393.1 344.5h0M1365.0 328.0h0M1341.3 338.3h0M1421.6 341.0h0M1357.9 328.6h0M1387.7 336.0h0M1399.6 352.2h0M1388.3 358.7h0M1372.0 358.1h0M1341.9 344.7h0M1376.2 344.6h0M1403.0 355.4h0M1406.2 375.3h0M1410.7 329.9h0M1391.9 348.0h0M1399.1 377.2h0M1384.0 326.2h0M1364.6 348.3h0M1383.0 332.4h0M1396.8 370.0h0M1379.9 317.9h0M1415.6 337.1h0M1392.3 324.4h0M1370.4 359.3h0M1375.9 321.5h0M1368.2 343.4h0M1418.7 361.2h0M1416.4 341.7h0M1385.5 333.8h0M1421.5 336.1h0M1388.4 369.9h0M1391.8 337.0h0M1407.9 350.1h0M1382.5 336.1h0M1401.5 362.1h0M1370.7 328.7h0M1387.8 353.1h0M1382.3 367.8h0M1372.3 346.7h0M1362.2 346.3h0M1406.2 352.2h0M1398.8 378.0h0M1392.6 319.1h0M1405.5 321.7h0M1348.9 331.1h0M1393.8 378.1h0M1390.4 318.0h0M1374.2 362.8h0M1378.5 357.1h0M1369.3 354.4h0M1344.7 340.9h0M1356.2 332.8h0M1417.5 346.8h0M1361.6 330.4h0M1347.3 331.9h0M1340.3 343.7h0M1366.3 364.3h0M1357.4 329.6h0M1376.4 336.5h0M1350.3 337.9h0M1399.3 363.3h0M1382.6 367.2h0M1378.7 337.9h0M1400.8 376.5h0M1344.0 345.1h0M1393.8 362.1h0M1398.2 341.7h0M1380.8 330.6h0M1386.0 320.9h0M1369.2 366.2h0M1357.0 330.9h0M1382.9 341.8h0M1397.5 359.0h0M1371.0 334.6h0M1393.1 333.4h0M1391.3 324.8h0M1387.7 370.2h0M1381.2 346.9h0M1381.4 376.3h0M1381.7 349.7h0M1383.2 372.7h0M1398.2 349.5h0M1409.7 356.9h0M1380.2 354.3h0M1402.3 325.9h0M1380.4 365.1h0M1413.4 356.8h0M1407.1 355.0h0M1407.8 360.5h0M1422.2 340.6h0M1418.2 346.9h0M1388.6 366.4h0M1377.1 343.1h0M1371.0 334.7h0M1397.5 323.3h0M1387.0 326.8h0M1353.4 353.7h0M1379.8 322.8h0M1392.9 360.3h0M1364.8 353.8h0M1364.9 341.7h0M1362.9 324.9h0M1379.2 328.1h0M1418.9 332.1h0M1381.4 355.2h0M1410.0 359.8h0M1372.3 354.3h0M1415.8 352.1h0M1356.6 346.1h0M1407.6 375.3h0M1379.4 359.7h0M1370.9 345.7h0M1381.6 333.8h0M1411.8 332.0h0M1403.4 368.9h0M1414.8 365.8h0M1409.2 327.9h0M1389.8 360.7h0M1365.0 355.4h0M1415.9 353.8h0M1365.0 318.6h0M1391.4 376.4h0M1364.4 357.4h0M1382.5 366.6h0M1354.0 347.1h0M1367.0 344.0h0M1418.1 326.7h0M1398.5 363.4h0M1362.2 357.8h0M1347.6 336.0h0M1380.3 361.8h0M1355.1 344.4h0M1403.8 326.7h0M1379.7 345.5h0M1380.7 320.5h0M1356.6 329.1h0M1385.7 349.1h0M1415.3 330.5h0M1393.0 361.1h0M1388.2 366.0h0M1359.9 326.3h0M1422.1 325.1h0M1379.0 352.7h0M1400.2 353.9h0M1390.1 318.7h0M1397.1 317.9h0M1382.0 315.1h0M1358.7 343.2h0M1358.4 337.7h0M1376.7 340.6h0M1386.6 354.4h0M1376.3 363.2h0M1383.3 357.7h0M1410.1 370.5h0M1375.7 318.4h0M1373.1 323.7h0M1388.0 370.2h0M1374.7 316.3h0M1404.1 345.7h0M1359.5 355.1h0M1400.7 356.2h0M1391.5 366.3h0M1417.0 351.1h0M1382.2 347.7h0M1375.7 357.9h0M1419.2 347.5h0M1408.8 369.2h0M1369.6 346.6h0M1378.4 341.7h0M1412.6 329.1h0M1381.2 345.1h0M1402.3 364.8h0M1381.3 359.8h0M1397.6 323.4h0M1401.5 360.8h0M1374.9 345.9h0M1395.1 319.1h0M1390.8 363.8h0M1396.4 336.2h0M1383.7 364.0h0M1409.8 370.1h0M1361.7 350.4h0M1418.1 365.3h0M1390.2 316.4h0M1358.3 343.9h0M1338.3 342.7h0M1402.7 325.6h0M1373.3 347.9h0M1400.2 319.3h0M1388.2 364.8h0M1413.2 369.2h0M1398.3 321.3h0M1394.7 357.1h0M1368.1 326.6h0M1368.4 320.3h0M1393.3 349.3h0M1421.9 332.2h0M1364.8 325.0h0M1416.6 344.4h0M1413.0 369.3h0M1381.1 330.6h0M1352.6 348.1h0M1375.8 333.5h0M1358.9 351.2h0M1399.1 356.0h0M1407.2 325.9h0M1390.3 377.8h0M1352.8 335.4h0M1380.9 325.9h0M1411.3 329.8h0M1398.8 322.1h0M1423.5 340.4h0M1376.7 341.4h0M1385.3 333.1h0M1382.3 352.1h0M1346.4 341.6h0M1410.2 340.9h0M1391.3 319.0h0M1377.5 331.9h0M1404.0 343.9h0M1372.9 329.9h0M1359.7 322.6h0M1381.1 342.2h0M1379.7 339.5h0M1388.8 334.3h0M1351.5 349.4h0M1386.3 344.1h0M1370.1 325.3h0M1416.5 326.7h0M1408.5 362.1h0M1378.4 355.3h0M1368.1 338.5h0M1395.3 372.4h0M1362.5 325.1h0M1379.3 359.6h0M1394.8 358.1h0M1418.1 326.9h0M1389.7 333.7h0M1382.0 346.6h0M1362.8 351.6h0M1386.4 357.4h0M1347.6 346.6h0M1407.3 322.9h0M1396.8 379.4h0M1402.4 350.4h0M1383.0 369.0h0M1363.2 351.2h0M1368.8 345.9h0M1397.4 322.3h0M1397.2 356.3h0M1391.4 342.1h0M1404.2 360.7h0M1396.7 323.3h0M1414.3 360.3h0M1415.4 340.1h0M1391.5 316.7h0M1364.1 347.6h0M1419.7 333.4h0M1390.2 353.4h0M1422.3 331.6h0M1361.4 351.2h0M1397.5 340.5h0M1360.1 335.8h0M1380.3 344.0h0M1404.4 377.9h0M1351.4 344.2h0M1375.3 339.8h0M1387.5 358.6h0M1378.7 328.6h0M1411.5 325.5h0M1402.6 318.0h0M1405.3 335.1h0M1396.6 323.7h0M1412.9 343.8h0M1384.7 349.8h0M1382.9 320.4h0M1390.8 346.1h0M1407.6 329.5h0M1385.1 338.2h0M1357.2 323.2h0M1374.6 323.4h0M1402.6 374.8h0M1405.8 342.9h0M1395.8 378.5h0M1409.6 338.0h0M1410.8 366.2h0M1391.6 371.4h0M1403.9 348.7h0M1407.1 360.4h0M1401.0 357.0h0M1376.0 363.8h0M1402.2 375.9h0M1407.9 346.8h0M1363.9 349.7h0M1413.5 333.9h0M1419.0 362.9h0M1389.7 359.2h0M1384.2 372.9h0M1397.3 341.5h0M1413.2 361.4h0M1410.4 350.7h0M1364.9 342.6h0M1370.4 330.5h0M1364.7 342.0h0M1380.9 343.0h0M1405.7 347.4h0M1363.5 354.0h0M1398.3 356.2h0M1370.5 326.5h0M1367.8 322.0h0M1406.0 329.9h0M1384.1 358.3h0M1369.4 355.7h0M1400.4 329.7h0M1371.6 324.5h0M1402.7 324.7h0M1392.3 351.6h0M1385.9 329.8h0M1373.0 328.4h0M1387.3 319.9h0M1404.3 351.8h0M1379.6 358.6h0M1405.4 342.7h0M1361.1 342.8h0M1375.3 353.0h0M1388.7 352.7h0M1370.9 329.1h0M1371.2 333.8h0M1386.8 338.2h0M1409.2 346.4h0M1391.6 330.5h0M1390.3 361.4h0M1373.0 332.9h0M1379.2 334.1h0M1407.4 337.9h0M1377.9 321.3h0M1407.6 340.4h0M1376.1 342.4h0M1384.3 340.4h0M1397.1 325.4h0M1380.8 348.6h0M1359.4 337.8h0M1382.5 358.1h0M1390.3 356.7h0M1395.8 321.6h0M1385.7 320.2h0M1368.5 351.5h0M1395.2 350.8h0M1409.0 347.1h0M1397.2 344.9h0M1380.7 333.3h0M1374.8 325.6h0M1388.4 329.0h0M1399.5 333.1h0M1386.9 343.4h0M1397.1 340.4h0M1380.3 326.2h0M1371.0 351.3h0M1393.2 345.4h0M1403.6 334.0h0M1378.6 360.5h0M1377.5 329.3h0M1383.6 346.5h0M1364.4 330.8h0M1386.4 352.3h0M1394.1 345.3h0M1365.0 347.0h0M1402.8 335.3h0M1365.3 326.9h0M1373.9 325.6h0M1396.6 335.8h0M1373.5 357.6h0M1366.6 345.6h0M1389.9 321.7h0M1391.0 321.4h0M1387.8 343.7h0M1398.8 335.3h0M1392.5 347.3h0M1385.0 358.8h0M1387.1 328.5h0M1383.7 349.6h0M1383.5 337.1h0M1375.4 330.2h0M1378.0 333.3h0M1395.1 343.9h0M1372.7 355.4h0M1392.9 347.2h0M1400.1 344.0h0M1397.3 352.4h0M1362.6 347.9h0M1402.9 329.3h0M1378.7 356.0h0M1384.9 339.5h0M1389.2 327.0h0M1378.9 355.6h0M1371.4 355.8h0M1406.4 329.7h0M1365.4 338.8h0M1373.2 343.6h0M1395.8 325.5h0M1407.9 338.4h0M1366.6 346.7h0M1385.3 330.6h0M1373.8 344.8h0M1398.6 324.4h0M1368.9 335.1h0M1381.3 339.1h0M1363.1 351.8h0M1391.2 328.1h0M1372.4 358.6h0M1396.9 330.1h0M1364.6 351.8h0M1365.5 325.9h0M1395.2 343.1h0M1395.4 322.2h0M1395.3 333.8h0M1375.7 322.2h0M1371.5 345.1h0M1372.7 348.9h0M1394.1 354.5h0M1387.8 352.0h0M1387.8 324.9h0M1371.1 334.3h0M1388.4 354.1h0M1402.4 335.4h0M1401.8 331.5h0M1389.3 348.2h0M1395.5 349.9h0M1395.6 329.1h0M1403.4 350.6h0M1402.5 330.2h0M1379.5 332.9h0M1402.7 341.0h0M1392.1 356.1h0M1378.2 341.0h0M1384.4 331.7h0M1385.5 343.9h0M1363.3 343.4h0M1377.3 326.8h0M1393.9 355.1h0M1394.7 354.7h0M1368.1 336.0h0M1393.6 324.2h0M1402.4 340.4h0M1382.0 355.7h0M1375.5 356.5h0M1396.0 347.2h0M1401.3 340.4h0M1378.3 348.6h0M1368.0 350.0h0M1407.9 330.9h0M1376.5 348.2h0M1408.5 339.3h0M1382.3 340.6h0M1392.7 350.0h0M1402.2 323.6h0M1374.3 348.6h0M1368.2 342.3h0M1385.7 331.2h0M1363.1 343.3h0M1364.7 350.9h0M1392.9 344.1h0M1390.1 331.2h0M1399.0 322.6h0M1370.0 334.4h0M1381.6 323.4h0M1405.5 348.9h0M1375.2 335.2h0M1367.8 328.6h0M1371.9 356.9h0M1387.1 321.2h0M1405.6 332.0h0M1397.9 353.0h0M1367.8 345.7h0M1379.2 346.5h0M1386.1 346.5h0M1388.9 358.5h0M1398.2 335.1h0M1398.1 348.0h0M1372.3 348.3h0M1388.7 325.6h0M1388.3 341.9h0M1386.0 354.0h0M1395.4 357.5h0M1367.7 356.0h0M1381.2 356.6h0M1373.6 359.1h0M1410.1 344.9h0M1385.3 341.7h0M1379.3 331.8h0M1396.9 335.7h0M1390.4 320.3h0M1373.3 350.9h0M1364.9 423.3h0M1342.7 427.8h0M1360.2 411.8h0M1362.9 419.8h0M1339.8 398.1h0M1364.1 380.6h0M1380.0 384.8h0M1360.2 407.7h0M1340.5 425.6h0M1379.7 414.7h0M1374.8 425.2h0M1343.2 436.4h0M1375.4 393.7h0M1380.8 384.1h0M1382.3 417.8h0M1376.5 399.9h0M1381.0 401.3h0M1335.0 417.2h0M1361.9 403.8h0M1350.3 416.0h0M1379.9 396.0h0M1359.9 404.4h0M1383.5 391.2h0M1352.9 378.7h0M1334.8 384.4h0M1365.6 389.3h0M1357.6 417.7h0M1360.0 392.8h0M1340.5 428.6h0M1362.7 434.3h0M1354.3 415.0h0M1362.9 425.8h0M1363.5 436.8h0M1365.4 374.8h0M1333.1 393.2h0M1371.9 412.3h0M1335.6 412.2h0M1374.9 417.9h0M1367.8 390.9h0M1338.6 401.5h0M1371.3 406.0h0M1373.2 391.9h0M1341.9 409.7h0M1383.0 393.6h0M1337.0 414.8h0M1355.3 398.2h0M1350.6 372.6h0M1348.4 400.6h0M1356.2 433.2h0M1363.4 430.9h0M1386.8 405.5h0M1385.0 416.4h0M1365.0 394.3h0M1363.9 383.4h0M1355.9 387.8h0M1383.4 390.8h0M1365.2 395.6h0M1372.7 420.2h0M1350.6 437.1h0M1360.1 395.4h0M1371.7 413.9h0M1338.2 399.3h0M1359.2 367.7h0M1337.0 416.6h0M1344.3 425.6h0M1350.6 393.1h0M1352.8 420.3h0M1368.3 431.4h0M1350.2 433.5h0M1344.2 428.9h0M1383.0 418.6h0M1345.0 372.0h0M1351.1 399.5h0M1373.6 398.2h0M1344.9 374.0h0M1377.3 381.4h0M1349.1 428.9h0M1339.1 424.4h0M1348.5 378.4h0M1353.7 411.9h0M1382.6 410.0h0M1361.6 389.2h0M1375.0 420.2h0M1382.1 398.9h0M1379.0 395.1h0M1339.9 411.0h0M1351.3 432.0h0M1348.7 400.1h0M1373.5 418.9h0M1388.6 399.6h0M1384.9 388.3h0M1355.9 401.6h0M1361.1 404.6h0M1354.1 370.0h0M1343.1 426.7h0M1375.7 405.4h0M1377.4 381.1h0M1360.5 400.6h0M1351.3 401.2h0M1337.9 408.4h0M1371.4 406.4h0M1380.4 429.3h0M1371.1 399.5h0M1353.5 391.2h0M1339.1 394.3h0M1341.9 414.6h0M1365.1 404.4h0M1354.6 403.3h0M1375.6 390.4h0M1343.4 380.2h0M1373.7 379.4h0M1366.9 400.9h0M1348.8 409.9h0M1357.7 405.3h0M1350.7 404.9h0M1339.9 384.9h0M1340.7 404.4h0M1369.5 408.6h0M1350.0 413.5h0M1357.6 435.3h0M1352.7 375.9h0M1357.7 388.8h0M1382.9 420.9h0M1391.0 401.6h0M1379.0 414.4h0M1354.3 370.3h0M1343.4 427.6h0M1353.5 420.5h0M1375.0 387.3h0M1346.8 383.8h0M1361.6 417.3h0M1363.0 385.5h0M1381.4 397.5h0M1360.5 402.9h0M1352.6 435.6h0M1336.8 393.0h0M1379.7 428.8h0M1386.0 419.6h0M1341.5 403.3h0M1366.9 413.0h0M1384.0 402.9h0M1377.5 387.0h0M1361.1 420.1h0M1351.4 368.4h0M1349.4 416.9h0M1363.1 406.3h0M1335.7 422.9h0M1366.3 395.8h0M1345.0 431.6h0M1382.0 411.6h0M1343.5 425.7h0M1384.1 420.0h0M1366.0 369.4h0M1343.9 370.6h0M1331.7 399.4h0M1379.4 396.9h0M1371.4 377.4h0M1391.9 409.6h0M1347.1 372.8h0M1346.9 384.4h0M1371.1 392.4h0M1348.8 396.5h0M1366.9 376.2h0M1344.1 422.9h0M1339.4 404.7h0M1360.1 398.0h0M1334.8 419.6h0M1356.0 433.5h0M1332.2 388.4h0M1384.6 403.9h0M1339.0 406.3h0M1363.2 405.2h0M1346.1 383.2h0M1361.0 407.5h0M1387.6 416.4h0M1372.5 395.4h0M1363.4 384.3h0M1338.7 421.7h0M1376.3 430.7h0M1359.2 369.5h0M1354.2 435.0h0M1343.8 432.9h0M1367.8 421.3h0M1354.8 430.9h0M1358.9 380.7h0M1371.9 413.0h0M1358.0 384.1h0M1369.6 380.2h0M1377.5 401.2h0M1369.3 430.9h0M1356.0 409.4h0M1369.1 430.9h0M1386.9 414.2h0M1367.7 373.7h0M1354.0 381.1h0M1345.1 400.2h0M1354.0 371.6h0M1352.7 414.2h0M1370.4 428.5h0M1369.4 395.0h0M1360.8 396.4h0M1361.1 393.3h0M1340.5 418.2h0M1386.3 394.6h0M1344.4 421.7h0M1342.4 436.9h0M1359.4 374.4h0M1347.9 387.9h0M1335.7 383.5h0M1379.3 411.1h0M1343.7 390.2h0M1374.5 422.8h0M1340.5 428.2h0M1348.3 398.1h0M1354.4 427.7h0M1348.6 404.9h0M1359.5 404.6h0M1374.5 430.5h0M1358.7 423.2h0M1352.7 393.4h0M1341.3 389.4h0M1372.7 383.4h0M1351.6 374.0h0M1356.1 394.3h0M1336.3 421.0h0M1367.7 433.0h0M1380.4 391.8h0M1358.5 391.7h0M1390.1 409.5h0M1336.9 387.6h0M1352.6 402.7h0M1363.0 428.9h0M1349.3 424.9h0M1374.5 411.4h0M1374.5 430.3h0M1381.3 411.5h0M1341.5 395.1h0M1357.6 405.6h0M1364.1 416.8h0M1353.7 423.7h0M1375.2 398.6h0M1384.6 398.9h0M1341.8 412.2h0M1354.6 438.6h0M1340.1 419.3h0M1372.9 428.0h0M1369.6 374.2h0M1378.9 404.5h0M1358.3 432.0h0M1374.4 425.3h0M1365.0 397.6h0M1354.5 409.0h0M1345.9 384.5h0M1377.9 377.1h0M1358.4 414.3h0M1369.6 403.1h0M1342.9 435.1h0M1353.1 371.6h0M1368.5 416.7h0M1368.3 430.5h0M1366.9 413.0h0M1378.3 423.4h0M1368.0 380.7h0M1382.3 426.8h0M1339.5 378.6h0M1383.6 419.3h0M1367.8 422.1h0M1359.0 434.4h0M1374.5 395.1h0M1345.7 410.5h0M1360.9 386.3h0M1371.5 412.0h0M1379.2 421.1h0M1369.6 416.1h0M1385.6 406.4h0M1372.9 398.6h0M1345.2 386.6h0M1380.0 401.3h0M1355.5 401.0h0M1337.7 383.5h0M1376.0 425.2h0M1333.5 399.7h0M1360.2 382.6h0M1365.0 430.3h0M1337.9 414.7h0M1358.5 380.3h0M1355.8 386.4h0M1343.8 383.8h0M1345.6 373.4h0M1350.0 395.7h0M1357.0 392.4h0M1339.7 382.7h0M1387.4 408.1h0M1348.4 393.5h0M1361.4 370.4h0M1380.0 392.1h0M1366.2 384.5h0M1363.8 411.6h0M1376.5 389.2h0M1354.5 410.2h0M1345.0 415.3h0M1345.4 388.3h0M1358.3 411.8h0M1354.4 418.2h0M1344.0 395.6h0M1386.9 413.0h0M1361.9 427.2h0M1375.4 406.0h0M1373.1 374.9h0M1362.2 388.6h0M1362.2 377.7h0M1335.6 412.4h0M1343.2 410.7h0M1378.1 421.6h0M1378.2 407.1h0M1353.1 404.6h0M1378.6 390.0h0M1335.8 407.2h0M1341.3 413.3h0M1368.4 424.7h0M1358.9 369.8h0M1367.4 400.5h0M1343.7 436.4h0M1382.5 418.3h0M1333.8 400.4h0M1383.1 381.0h0M1369.8 412.3h0M1362.5 397.3h0M1367.0 412.0h0M1344.9 427.1h0M1354.0 433.8h0M1384.2 419.8h0M1352.4 418.0h0M1341.7 378.9h0M1369.4 391.2h0M1364.5 393.9h0M1359.3 373.8h0M1350.1 406.2h0M1355.6 416.5h0M1344.2 404.0h0M1346.6 424.3h0M1348.4 425.9h0M1356.1 402.0h0M1362.1 410.5h0M1384.1 404.0h0M1338.8 382.8h0M1367.8 398.7h0M1351.2 402.7h0M1333.9 405.7h0M1350.8 405.2h0M1354.0 424.0h0M1358.3 371.3h0M1354.5 412.6h0M1341.9 413.3h0M1348.0 434.5h0M1361.5 437.0h0M1340.9 388.5h0M1358.8 382.3h0M1353.6 387.8h0M1380.1 387.6h0M1383.2 427.3h0M1351.7 382.1h0M1367.3 435.7h0M1362.3 399.6h0M1344.4 382.3h0M1362.3 368.4h0M1371.3 402.5h0M1343.4 381.2h0M1362.3 368.7h0M1340.6 380.4h0M1369.8 380.8h0M1365.6 424.3h0M1368.2 404.9h0M1349.0 402.9h0M1372.3 429.4h0M1355.0 381.1h0M1378.0 393.0h0M1349.4 389.7h0M1350.0 438.2h0M1376.2 400.5h0M1344.0 425.8h0M1364.3 379.1h0M1341.5 414.7h0M1370.3 390.2h0M1340.7 379.6h0M1373.0 373.7h0M1357.0 422.2h0M1377.0 417.9h0M1330.7 391.2h0M1355.8 412.7h0M1335.4 409.9h0M1358.1 397.4h0M1343.0 400.9h0M1377.0 394.7h0M1352.2 418.1h0M1387.2 406.7h0M1382.2 421.4h0M1338.1 404.1h0M1365.1 424.8h0M1343.8 437.1h0M1377.1 388.6h0M1364.3 405.0h0M1354.0 423.3h0M1375.6 423.1h0M1351.7 430.7h0M1334.7 390.6h0M1369.5 401.8h0M1335.9 423.0h0M1381.9 411.7h0M1342.2 426.6h0M1374.7 428.5h0M1363.4 402.9h0M1359.8 415.8h0M1350.9 378.3h0M1359.9 374.0h0M1342.4 425.8h0M1373.7 432.6h0M1374.0 408.5h0M1341.7 376.6h0M1372.4 424.4h0M1378.9 390.5h0M1355.6 385.5h0M1340.2 408.5h0M1353.8 427.2h0M1350.1 373.6h0M1332.6 402.4h0M1372.1 423.2h0M1368.1 382.1h0M1334.4 403.4h0M1383.0 424.3h0M1360.6 426.3h0M1377.3 427.4h0M1348.0 371.9h0M1360.2 410.0h0M1388.2 405.9h0M1389.9 402.2h0M1385.5 412.0h0M1356.0 394.1h0M1334.2 417.2h0M1357.4 368.6h0M1368.7 389.5h0M1368.3 377.5h0M1388.7 415.2h0M1377.8 428.3h0M1357.9 369.4h0M1366.8 410.4h0M1378.2 407.7h0M1363.6 380.6h0M1341.7 373.3h0M1352.1 420.4h0M1334.0 398.9h0M1368.5 372.5h0M1342.8 431.2h0M1355.0 383.5h0M1363.4 438.5h0M1345.9 410.5h0M1336.6 388.7h0M1378.5 418.2h0M1336.2 412.4h0M1362.6 408.5h0M1368.1 381.6h0M1374.2 407.8h0M1343.8 375.6h0M1372.6 396.7h0M1364.7 416.8h0M1340.3 413.5h0M1337.1 417.7h0M1367.7 376.0h0M1376.4 397.0h0M1342.0 391.1h0M1375.2 426.7h0M1348.5 416.6h0M1354.5 413.8h0M1362.9 381.3h0M1373.1 431.0h0M1354.9 423.7h0M1344.9 415.4h0M1368.5 405.4h0M1355.1 419.5h0M1373.8 373.8h0M1354.1 367.9h0M1361.7 368.3h0M1388.5 412.8h0M1356.5 377.2h0M1355.4 409.3h0M1352.1 425.5h0M1345.9 423.7h0M1334.1 409.6h0M1352.4 410.4h0M1352.2 415.2h0M1364.7 383.4h0M1352.5 432.5h0M1388.9 388.3h0M1340.9 408.6h0M1381.1 378.7h0M1354.0 371.7h0M1382.8 388.1h0M1358.6 418.8h0M1333.3 398.3h0M1351.4 432.0h0M1334.5 415.5h0M1365.3 383.5h0M1352.0 438.6h0M1366.6 417.9h0M1356.3 381.9h0M1359.2 400.1h0M1359.6 428.9h0M1341.9 429.1h0M1362.1 393.1h0M1355.1 424.5h0M1364.8 395.8h0M1345.6 400.3h0M1367.6 395.1h0M1355.5 404.3h0M1361.0 418.7h0M1348.3 392.6h0M1346.5 371.1h0M1380.2 393.0h0M1346.0 375.7h0M1370.6 434.1h0M1359.5 373.9h0M1377.3 391.8h0M1378.9 425.8h0M1381.9 426.1h0M1346.6 429.9h0M1350.9 407.1h0M1362.5 383.8h0M1362.9 382.6h0M1354.9 420.2h0M1350.0 402.9h0M1366.2 371.5h0M1372.3 402.0h0M1346.5 378.1h0M1349.6 431.2h0M1381.2 383.8h0M1350.0 384.9h0M1351.0 424.7h0M1351.9 390.4h0M1351.0 379.0h0M1358.1 366.6h0M1387.5 389.8h0M1364.2 368.8h0M1346.5 421.0h0M1384.4 386.1h0M1382.7 419.4h0M1364.8 437.4h0M1387.9 388.6h0M1344.9 396.1h0M1349.1 411.4h0M1360.0 433.1h0M1345.4 412.8h0M1371.5 426.1h0M1380.0 425.1h0M1337.8 407.1h0M1344.7 400.6h0M1349.4 410.8h0M1374.4 422.7h0M1366.7 375.0h0M1348.8 432.1h0M1357.6 412.4h0M1342.6 389.5h0M1379.5 404.2h0M1375.2 430.6h0M1358.0 427.3h0M1347.6 373.9h0M1358.8 421.6h0M1382.5 425.3h0M1388.1 398.4h0M1380.2 420.0h0M1337.3 393.9h0M1339.8 427.9h0M1362.5 390.5h0M1371.2 397.2h0M1340.6 387.1h0M1385.8 389.0h0M1387.8 385.0h0M1354.5 434.7h0M1344.4 428.4h0M1372.4 401.3h0M1375.1 397.6h0M1353.4 367.5h0M1354.8 411.9h0M1366.5 369.4h0M1353.2 409.6h0M1379.1 424.4h0M1366.6 434.6h0M1366.7 393.1h0M1376.8 396.6h0M1386.3 397.6h0M1360.7 417.8h0M1361.3 390.8h0M1385.8 386.6h0M1360.4 411.2h0M1359.3 418.0h0M1347.1 391.3h0M1346.8 423.2h0M1375.8 431.4h0M1342.9 375.9h0M1350.1 375.0h0M1365.0 407.7h0M1351.2 437.4h0M1369.8 418.3h0M1376.4 396.7h0M1334.2 399.8h0M1365.4 408.2h0M1361.8 407.5h0M1337.1 403.8h0M1348.5 405.1h0M1357.9 419.4h0M1367.1 380.5h0M1340.3 409.7h0M1366.2 411.9h0M1381.2 428.3h0M1360.4 382.3h0M1349.8 436.1h0M1362.1 398.9h0M1362.7 396.1h0M1369.2 393.0h0M1346.0 379.9h0M1351.3 424.2h0M1360.4 373.2h0M1373.9 425.3h0M1338.5 402.0h0M1382.7 384.0h0M1353.5 434.9h0M1338.7 390.6h0M1363.6 419.0h0M1382.0 384.7h0M1335.8 403.4h0M1337.0 385.4h0M1363.5 377.3h0M1341.7 422.4h0M1381.7 389.9h0M1346.9 411.9h0M1348.7 419.0h0M1351.8 375.8h0M1370.1 402.9h0M1331.1 392.4h0M1378.9 400.5h0M1367.9 377.4h0M1382.3 419.5h0M1350.1 390.8h0M1383.8 383.5h0M1348.2 412.8h0M1367.1 426.3h0M1337.4 418.1h0M1383.9 386.9h0M1342.2 378.8h0M1342.0 421.0h0M1361.7 422.1h0M1335.9 403.3h0M1359.9 412.8h0M1351.7 389.3h0M1379.5 384.3h0M1380.5 380.0h0M1357.8 386.2h0M1342.2 408.8h0M1342.7 435.1h0M1386.9 420.1h0M1334.1 389.3h0M1371.7 422.5h0M1341.0 427.4h0M1361.4 395.8h0M1344.0 402.6h0M1362.0 406.8h0M1364.8 401.8h0M1381.5 412.0h0M1343.2 403.9h0M1364.3 390.2h0M1334.0 405.5h0M1359.1 381.4h0M1384.1 384.6h0M1371.6 382.1h0M1386.4 386.7h0M1351.7 415.0h0M1384.9 392.7h0M1363.5 436.5h0M1370.4 405.2h0M1384.9 400.3h0M1383.4 393.9h0M1386.7 392.0h0M1348.7 379.3h0M1366.8 379.6h0M1363.4 418.2h0M1332.7 391.9h0M1346.4 426.8h0M1375.6 385.6h0M1361.4 392.2h0M1345.9 409.2h0M1336.8 412.4h0M1335.0 382.1h0M1377.8 379.9h0M1388.9 388.0h0M1352.2 419.6h0M1362.5 376.4h0M1378.7 378.3h0M1350.7 426.1h0M1334.7 392.8h0M1375.4 388.8h0M1356.0 425.7h0M1373.5 423.4h0M1352.9 402.0h0M1371.5 383.2h0M1345.9 426.0h0M1344.4 391.6h0M1369.3 387.0h0M1384.7 401.5h0M1368.6 378.5h0M1358.0 412.0h0M1377.4 390.6h0M1349.7 382.0h0M1358.5 434.3h0M1333.6 387.3h0M1338.9 386.9h0M1383.5 421.3h0M1368.2 425.4h0M1357.9 438.4h0M1335.5 421.6h0M1360.7 414.1h0M1339.8 414.2h0M1350.6 424.4h0M1366.4 379.3h0M1379.1 408.9h0M1340.0 395.1h0M1334.9 387.2h0M1348.1 400.4h0M1351.8 420.2h0M1348.6 423.7h0M1348.4 438.5h0M1368.5 386.8h0M1347.1 374.2h0M1345.9 417.0h0M1388.8 410.8h0M1369.5 410.8h0M1347.6 384.0h0M1348.9 366.9h0M1341.8 435.2h0M1369.5 415.2h0M1336.4 403.3h0M1338.3 416.8h0M1364.5 405.8h0M1347.3 403.5h0M1375.4 431.3h0M1371.8 385.6h0M1355.0 405.9h0M1383.7 392.3h0M1352.4 424.2h0M1375.1 382.9h0M1366.4 409.7h0M1358.3 435.9h0M1348.6 413.3h0M1363.8 396.1h0M1358.7 439.8h0M1373.6 379.4h0M1361.2 368.2h0M1387.5 404.2h0M1332.5 402.7h0M1363.9 410.3h0M1365.1 420.7h0M1366.7 434.8h0M1341.9 428.4h0M1350.0 390.9h0M1363.0 413.6h0M1346.5 389.6h0M1353.3 428.4h0M1335.6 394.2h0M1357.3 372.5h0M1344.8 414.9h0M1365.3 393.8h0M1358.2 414.0h0M1380.9 387.0h0M1337.3 398.3h0M1385.0 387.4h0M1370.9 396.5h0M1375.7 380.6h0M1348.1 400.7h0M1362.1 399.2h0M1385.0 386.9h0M1353.5 376.6h0M1341.9 412.4h0M1349.7 393.3h0M1370.7 396.5h0M1387.3 390.3h0M1363.2 436.7h0M1354.2 402.7h0M1354.8 373.3h0M1361.9 396.1h0M1381.0 379.6h0M1366.1 405.4h0M1340.9 400.2h0M1378.2 411.2h0M1383.6 400.7h0M1351.5 429.9h0M1349.4 396.3h0M1344.1 399.3h0M1374.7 407.9h0M1363.8 379.8h0M1336.2 395.7h0M1345.7 395.7h0M1344.1 381.4h0M1374.0 369.8h0M1373.9 363.6h0M1390.1 366.9h0M1371.5 372.4h0M1371.4 375.9h0M1365.9 368.9h0M1384.6 374.6h0M1387.6 381.0h0M1377.5 377.7h0M1388.8 374.4h0M1390.0 372.0h0M1392.1 365.5h0M1371.5 370.8h0M1395.9 385.5h0M1382.4 367.0h0M1375.1 368.9h0M1383.6 366.3h0M1397.3 372.4h0M1388.4 383.5h0M1376.2 379.0h0M1392.2 377.3h0M1369.3 366.1h0M1397.0 382.0h0M1389.5 387.8h0M1391.9 375.5h0M1381.0 368.6h0M1393.8 385.5h0M1377.2 374.6h0M1392.7 386.5h0M1368.0 370.3h0M1368.2 371.1h0M1368.6 365.1h0M1386.9 374.0h0M1390.4 390.1h0M1364.1 367.0h0M1387.8 386.6h0M1377.5 363.9h0M1394.2 383.1h0M1395.6 387.6h0M1375.8 369.5h0M1382.3 382.3h0M1383.4 385.9h0M1367.9 364.7h0M1370.2 372.1h0M1397.8 370.9h0M1384.9 384.5h0M1391.8 368.8h0M1390.4 380.0h0M1374.5 364.0h0M1379.1 382.7h0M1383.1 382.6h0M1395.9 380.7h0M1389.1 366.6h0M1375.4 374.7h0M1390.0 366.3h0M1376.7 379.8h0M1385.0 367.0h0M1381.1 380.5h0M1395.3 374.8h0M1394.6 374.9h0M1386.8 376.0h0M1390.8 364.6h0M1381.7 379.8h0M1397.3 384.7h0M1380.0 370.4h0M1372.5 368.7h0M1393.8 371.9h0M1387.2 382.6h0M1384.2 372.7h0M1378.0 381.7h0M1389.9 386.4h0M1396.6 390.1h0M1378.7 377.9h0M1368.0 372.7h0M1381.8 361.7h0M1390.2 370.9h0M1396.2 389.4h0M1394.3 371.5h0M1371.9 370.9h0M1365.0 365.0h0" stroke="#A3A500" stroke-width="2.8" stroke-linecap="round" fill="none"/>
<path d="M917.2 491.5h0M957.2 506.4h0M909.4 483.2h0M901.9 480.8h0M906.4 489.6h0M899.0 476.7h0M916.9 481.8h0M950.1 503.4h0M944.2 503.9h0M935.0 501.9h0M934.8 507.3h0M921.1 490.2h0M912.5 486.4h0M952.3 512.6h0M952.1 507.9h0M945.9 506.7h0M938.9 506.6h0M939.7 499.5h0M910.1 476.3h0M949.1 505.3h0M927.5 502.7h0M911.6 478.8h0M912.4 491.3h0M928.1 502.2h0M897.5 478.2h0M918.5 496.2h0M909.4 475.6h0M928.8 496.2h0M924.4 497.9h0M934.0 506.6h0M957.2 505.8h0M897.0 481.0h0M909.0 488.3h0M942.2 510.6h0M941.6 503.6h0M957.7 516.1h0M927.4 493.5h0M905.2 475.6h0M916.9 480.1h0M963.7 513.1h0M921.4 491.4h0M935.6 497.9h0M932.5 507.0h0M900.5 480.4h0M913.1 482.1h0M922.4 496.1h0M957.1 508.5h0M933.0 495.0h0M932.9 492.9h0M926.5 494.8h0M910.4 494.0h0M905.0 483.3h0M905.7 485.2h0M911.4 483.8h0M915.8 484.2h0M952.3 509.5h0M928.8 492.8h0M928.5 488.5h0M954.6 512.6h0M947.6 507.6h0M953.2 510.7h0M924.4 496.3h0M950.0 503.9h0M897.1 478.1h0M955.6 516.3h0M935.4 507.9h0M938.7 505.0h0M921.7 499.9h0M923.7 496.2h0M916.2 485.2h0M940.4 528.9h0M946.0 532.4h0M941.4 501.5h0M940.1 525.4h0M950.3 520.4h0M937.6 528.8h0M929.3 521.6h0M934.2 525.1h0M955.5 523.0h0M958.6 527.6h0M945.1 533.6h0M968.2 515.7h0M963.7 510.4h0M962.4 519.9h0M943.6 522.1h0M939.4 510.4h0M955.7 527.8h0M923.2 512.2h0M935.4 525.7h0M939.4 541.9h0M931.9 507.8h0M943.1 512.8h0M954.8 539.2h0M926.1 513.9h0M927.2 519.2h0M938.9 532.2h0M941.8 528.5h0M927.1 527.1h0M958.0 535.2h0M952.0 516.4h0M937.2 535.9h0M969.8 516.3h0M942.2 519.7h0M936.2 532.1h0M964.0 517.9h0M941.9 535.5h0M956.3 536.6h0M947.5 517.3h0M938.7 534.7h0M954.7 529.8h0M945.3 504.3h0M944.8 525.0h0M961.4 522.0h0M944.6 521.6h0M957.9 532.6h0M937.5 534.4h0M939.5 529.9h0M939.6 539.8h0M939.8 515.7h0M942.5 526.8h0M965.8 525.4h0M957.0 533.4h0M941.9 505.5h0M957.2 509.8h0M945.9 522.9h0M939.0 521.8h0M959.7 517.0h0M950.8 525.0h0M958.1 513.5h0M955.0 516.5h0M960.3 522.0h0M966.0 523.3h0M953.3 536.8h0M965.8 517.2h0M970.7 517.4h0M957.4 536.8h0M938.9 518.7h0M939.1 515.3h0M941.4 537.5h0M960.7 524.9h0M953.1 513.4h0M939.9 522.2h0M931.6 511.3h0M963.8 528.5h0M943.2 528.4h0M938.6 525.5h0M929.8 524.1h0M937.0 511.8h0M958.1 516.1h0M958.2 533.2h0M939.5 501.7h0M963.4 524.5h0M950.0 530.4h0M948.4 540.1h0M951.8 518.2h0M952.2 518.4h0M949.7 536.8h0M936.2 511.3h0M934.1 523.5h0M935.1 516.7h0M953.0 515.8h0M954.5 506.9h0M957.3 506.2h0M955.6 507.3h0M941.3 502.7h0M924.9 515.7h0M958.8 528.3h0M950.2 522.7h0M953.8 522.1h0M940.7 537.0h0M935.7 518.1h0M938.0 519.3h0M940.9 509.5h0M938.5 535.0h0M930.0 521.3h0M934.9 525.7h0M945.2 508.5h0M953.3 530.1h0M931.7 510.4h0M935.9 514.7h0M960.7 517.6h0M943.7 509.1h0M943.9 542.0h0M925.1 517.6h0M935.8 521.7h0M946.6 535.5h0M957.2 533.0h0M933.8 511.3h0M945.6 516.2h0M924.4 524.6h0M944.4 535.1h0M964.9 514.4h0M947.7 526.1h0M943.4 536.2h0M956.3 536.2h0M933.3 522.5h0M948.1 525.9h0M943.2 507.3h0M964.0 524.7h0M958.1 532.8h0M952.1 540.4h0M923.3 514.9h0M928.8 528.2h0M947.9 520.3h0M947.3 511.4h0M952.6 526.3h0M953.2 528.2h0M976.0 528.8h0M974.6 541.4h0M963.6 529.6h0M979.6 525.7h0M973.5 527.3h0M977.2 532.1h0M957.7 539.3h0M968.3 542.5h0M973.5 536.1h0M973.4 537.1h0M949.4 530.6h0M975.1 527.1h0M953.8 527.1h0M970.2 540.1h0M973.3 533.7h0M977.8 538.6h0M970.9 538.9h0M953.3 533.5h0M957.5 528.8h0M966.2 542.4h0M958.5 541.0h0M974.7 531.3h0M975.7 530.6h0M971.9 517.8h0M971.6 524.7h0M961.7 538.9h0M979.3 536.7h0M964.0 530.3h0M970.3 516.7h0M954.4 536.8h0M973.3 519.3h0M977.7 528.5h0M978.6 542.4h0M961.2 535.4h0M960.9 519.3h0M964.4 518.5h0M965.1 517.3h0M974.9 520.7h0M971.2 533.6h0M954.5 533.1h0M968.0 532.7h0M953.9 528.6h0M979.1 532.8h0M956.2 524.3h0M965.2 529.7h0M964.4 523.0h0M959.1 529.9h0M975.9 529.4h0M1228.7 501.2h0M1210.8 525.9h0M1277.4 535.1h0M1283.6 520.6h0M1262.5 499.9h0M1249.4 542.6h0M1222.0 540.2h0M1266.4 498.6h0M1208.4 515.0h0M1218.9 502.1h0M1252.4 536.9h0M1258.1 545.9h0M1225.6 543.5h0M1290.4 532.4h0M1273.8 524.5h0M1271.4 536.4h0M1270.6 532.3h0M1277.1 499.7h0M1225.4 511.3h0M1203.8 534.6h0M1271.2 546.6h0M1239.0 532.4h0M1209.9 511.5h0M1269.1 527.1h0M1289.3 526.6h0M1270.7 507.9h0M1270.4 505.3h0M1239.3 510.9h0M1238.1 496.1h0M1265.3 510.8h0M1212.6 518.5h0M1222.3 534.5h0M1216.6 523.1h0M1244.3 524.1h0M1266.8 536.5h0M1237.6 535.1h0M1222.5 532.5h0M1283.5 509.3h0M1244.4 548.5h0M1241.1 532.0h0M1276.1 525.9h0M1253.0 535.6h0M1281.4 531.6h0M1214.2 519.0h0M1290.2 512.6h0M1222.0 496.9h0M1212.2 510.9h0M1204.0 510.2h0M1228.3 520.3h0M1256.0 499.9h0M1252.6 500.7h0M1257.1 500.3h0M1243.7 506.0h0M1207.3 502.6h0M1241.6 524.5h0M1217.5 513.5h0M1260.8 524.3h0M1207.3 509.0h0M1245.9 521.8h0M1255.8 526.9h0M1243.1 521.1h0M1253.0 521.7h0M1256.9 521.6h0M1239.8 519.1h0M1253.2 522.2h0M1245.5 519.5h0M1244.2 526.5h0M1253.2 521.1h0M1239.6 524.2h0M1243.3 529.9h0M1244.8 520.8h0M1248.0 523.8h0M1253.1 517.2h0M1255.5 521.2h0M1257.4 521.9h0M1243.5 527.8h0M1249.9 522.8h0M1242.7 531.6h0M1243.3 520.8h0M1242.4 523.4h0M1255.5 522.5h0M1251.9 524.5h0M1259.0 524.0h0M1248.6 523.6h0" stroke="#00BF7D" stroke-width="2.8" stroke-linecap="round" fill="none"/>
<path d="M987.6 533.6h0M956.4 557.9h0M986.8 555.0h0M955.3 544.9h0M973.3 560.4h0M1003.1 558.8h0M959.8 549.7h0M971.9 555.7h0M996.6 549.7h0M984.9 564.4h0M953.7 555.0h0M969.6 561.1h0M998.2 548.0h0M957.7 561.5h0M997.3 553.7h0M964.4 558.6h0M1004.9 542.2h0M1011.8 544.0h0M1003.1 546.2h0M979.8 554.6h0M1004.8 548.0h0M1011.5 540.3h0M984.3 537.5h0M959.1 543.1h0M950.2 553.9h0M991.4 547.2h0M1004.2 553.0h0M996.0 535.2h0M958.3 564.8h0M956.5 554.9h0M974.0 557.9h0M1001.7 542.7h0M970.4 552.1h0M1011.0 557.8h0M989.5 547.6h0M974.3 547.6h0M998.3 549.0h0M998.2 565.8h0M1005.4 547.6h0M977.6 555.1h0M967.5 566.0h0M1000.8 541.8h0M975.8 548.0h0M997.8 542.9h0M972.3 551.4h0M963.8 548.5h0M1000.6 551.4h0M987.8 540.9h0M974.7 553.5h0M973.0 539.0h0M986.7 553.0h0M976.3 556.1h0M1010.4 544.2h0M1010.0 555.1h0M1001.1 547.0h0M970.1 558.6h0M987.7 567.2h0M958.3 545.2h0M996.6 567.0h0M980.4 562.3h0M954.7 556.6h0M970.5 558.7h0M968.2 539.1h0M966.2 559.9h0M998.1 567.2h0M976.6 534.4h0M1005.0 541.8h0M998.5 550.8h0M963.1 560.8h0M979.9 566.0h0M1004.9 552.5h0M975.6 552.5h0M957.6 554.3h0M966.3 546.7h0M980.3 543.1h0M959.1 557.7h0M991.9 535.0h0M962.8 542.8h0M973.0 550.9h0M988.1 556.0h0M965.3 545.6h0M978.8 566.2h0M1002.7 550.5h0M1005.6 548.7h0M974.9 556.6h0M996.2 536.3h0M976.8 565.0h0M965.7 552.4h0M971.7 553.3h0M974.9 545.2h0M980.4 546.0h0M1009.2 546.1h0M995.8 538.7h0M985.8 542.3h0M1012.6 546.1h0M971.3 553.2h0M1006.1 553.8h0M991.3 537.3h0M1006.7 556.7h0M993.5 543.7h0M1001.7 552.3h0M1002.4 558.1h0M1007.3 558.8h0M974.5 568.8h0M1012.0 557.9h0M978.1 551.3h0M1006.6 554.9h0M980.3 563.0h0M964.8 555.4h0M972.3 555.4h0M1011.4 547.8h0M1006.9 550.0h0M969.9 550.2h0M988.1 540.5h0M993.3 556.6h0M967.6 540.1h0M966.6 560.7h0M1005.4 562.7h0M948.6 554.6h0M1008.1 556.3h0M990.3 548.4h0M1006.0 552.5h0M972.1 551.1h0M980.7 539.1h0M995.2 564.2h0M975.9 561.5h0M956.2 551.4h0M996.0 552.6h0M997.5 538.3h0M990.1 552.2h0M998.8 536.2h0M1009.6 539.0h0M998.7 546.5h0M997.2 558.9h0M976.2 568.5h0M978.3 550.0h0M998.3 537.8h0M1011.3 544.7h0M955.7 554.7h0M964.1 548.9h0M961.2 559.9h0M999.9 558.4h0M988.8 535.1h0M998.4 553.1h0M994.0 563.9h0M983.3 543.1h0M994.7 556.4h0M983.6 549.5h0M1013.0 546.5h0M958.0 551.0h0M982.1 546.9h0M1003.4 541.6h0M967.2 564.0h0M963.6 559.9h0M966.5 547.7h0M980.6 541.4h0M1000.1 553.1h0M996.0 542.0h0M975.1 560.9h0M969.5 539.1h0M985.6 566.5h0M993.3 536.2h0M977.9 540.8h0M1005.3 548.1h0M978.7 565.8h0M968.2 549.2h0M985.6 557.0h0M970.9 556.2h0M977.1 564.0h0M986.9 560.0h0M988.1 558.9h0M974.9 537.6h0M973.0 544.5h0M984.6 550.5h0M997.5 534.5h0M955.8 559.6h0M983.4 569.3h0M1008.7 547.7h0M971.5 548.7h0M1002.2 549.8h0M1316.5 547.5h0M1303.8 539.0h0M1270.6 555.4h0M1242.3 561.9h0M1304.3 542.4h0M1244.5 548.0h0M1296.0 565.9h0M1273.7 528.8h0M1282.0 559.2h0M1279.9 559.4h0M1285.8 557.5h0M1288.4 565.9h0M1292.0 528.6h0M1273.1 563.4h0M1312.0 559.8h0M1307.1 543.3h0M1294.6 556.4h0M1320.1 552.8h0M1274.6 544.7h0M1278.4 533.2h0M1287.5 557.6h0M1245.7 558.8h0M1299.3 560.7h0M1260.7 572.2h0M1280.2 556.3h0M1288.8 553.1h0M1308.7 546.8h0M1279.5 530.9h0M1279.9 567.4h0M1276.5 564.6h0M1290.7 538.5h0M1262.9 552.9h0M1294.5 541.6h0M1312.9 541.0h0M1261.6 541.5h0M1255.7 569.3h0M1259.4 558.3h0M1269.7 575.0h0M1254.2 570.4h0M1260.8 563.1h0M1268.5 562.8h0M1269.1 561.8h0M1252.3 563.7h0M1278.2 576.8h0M1268.5 570.4h0M1313.7 559.5h0M1308.1 563.9h0M1311.5 565.2h0M1308.0 549.6h0M1309.8 551.1h0M1308.6 556.4h0M1306.9 547.7h0M1305.6 548.8h0M1308.3 554.8h0M1309.8 562.4h0M1310.0 556.1h0M1305.5 557.6h0M1306.8 559.5h0M1309.8 547.7h0M1309.7 558.5h0" stroke="#00BFC4" stroke-width="2.8" stroke-linecap="round" fill="none"/>
<path d="M898.4 437.5h0M893.2 436.3h0M906.6 436.8h0M904.7 436.6h0M901.2 437.5h0M896.3 436.9h0M906.0 437.0h0M902.8 436.4h0M896.3 437.5h0M896.8 437.6h0M933.7 453.1h0M940.2 454.5h0M948.9 443.0h0M946.7 451.0h0M940.1 451.6h0M941.3 444.9h0M946.5 444.1h0M934.9 454.3h0M942.7 449.5h0M946.9 449.2h0M937.2 450.1h0M952.8 451.5h0M934.1 453.6h0M945.1 450.8h0M947.8 446.1h0M950.6 449.9h0M948.3 454.1h0M933.3 448.1h0M951.8 451.9h0M940.3 450.0h0M952.0 443.3h0M936.4 451.9h0M941.7 449.3h0M945.7 447.1h0M941.0 443.8h0M940.7 455.8h0M948.5 447.4h0M951.2 443.3h0M954.1 451.4h0M937.3 448.3h0M943.9 449.7h0M951.6 454.9h0M948.9 451.4h0M945.2 443.3h0M936.6 448.9h0M942.4 452.7h0M930.4 453.0h0M954.6 453.9h0M947.1 450.0h0M950.3 453.6h0M944.5 451.7h0M935.4 454.4h0M949.0 446.4h0M936.4 447.8h0M951.2 449.8h0M944.5 448.5h0M939.4 455.8h0M934.0 449.7h0M940.0 444.3h0M930.1 449.4h0M991.3 465.5h0M953.5 459.8h0M969.4 476.3h0M970.2 465.0h0M968.3 468.5h0M976.8 462.8h0M986.8 452.4h0M984.2 463.2h0M998.8 461.1h0M970.1 461.7h0M975.9 460.5h0M983.8 464.8h0M986.1 460.8h0M971.5 469.7h0M986.7 472.9h0M969.9 454.0h0M955.7 457.2h0M983.4 462.5h0M997.7 458.9h0M959.3 457.2h0M978.5 459.5h0M992.0 473.6h0M969.9 471.4h0M983.1 465.8h0M950.3 463.3h0M999.9 463.6h0M982.1 454.0h0M989.9 479.9h0M966.6 463.5h0M974.7 459.5h0M984.8 468.1h0M995.7 482.6h0M995.7 471.6h0M980.9 465.6h0M969.6 455.9h0M976.8 460.3h0M978.3 480.3h0M962.1 470.3h0M957.1 472.7h0M977.2 462.0h0M949.6 467.3h0M975.3 478.4h0M956.8 457.3h0M958.5 472.2h0M986.1 467.7h0M951.5 466.9h0M999.5 464.1h0M977.3 465.1h0M974.3 452.5h0M996.2 470.4h0M965.1 460.6h0M993.8 463.7h0M980.0 469.5h0M987.6 456.5h0M977.8 451.7h0M982.9 471.5h0M975.3 451.5h0M1000.6 467.4h0M993.4 467.0h0M957.6 464.6h0M949.4 470.5h0M957.7 474.5h0M955.1 474.1h0M980.8 474.8h0M1000.1 460.9h0M984.6 464.3h0M996.8 478.6h0M989.3 471.1h0M984.4 479.1h0M991.5 466.3h0M967.9 477.6h0M983.0 469.1h0M988.7 473.7h0M968.8 471.0h0M974.4 469.1h0M971.8 464.8h0M985.0 454.8h0M985.1 482.1h0M989.1 469.2h0M965.5 454.3h0M950.4 469.1h0M996.0 480.0h0M991.8 467.1h0M994.8 457.3h0M964.5 468.2h0M987.1 466.1h0M967.7 465.1h0M958.0 467.2h0M986.0 463.2h0M983.4 467.6h0M961.7 469.3h0M975.0 452.5h0M960.8 468.1h0M955.1 461.3h0M997.5 465.9h0M958.5 471.0h0M951.5 468.4h0M982.6 454.0h0M976.8 461.4h0M988.2 471.6h0M997.7 471.4h0M955.6 457.3h0M985.8 478.1h0M961.4 466.7h0M995.6 469.8h0M988.2 476.6h0M961.1 471.7h0M966.8 466.9h0M975.8 473.4h0M954.3 461.5h0M994.2 484.0h0M989.2 456.5h0M988.6 451.3h0M952.2 463.0h0M949.9 466.8h0M965.1 475.7h0M993.9 456.8h0M977.8 468.7h0M954.9 461.8h0M957.8 457.6h0M980.6 461.9h0M989.5 470.2h0M994.1 468.0h0M981.7 459.0h0M985.4 464.6h0M986.8 470.6h0M953.1 461.1h0M988.6 451.6h0M981.6 469.3h0M986.5 462.1h0M972.7 467.0h0M988.4 453.5h0M974.6 459.7h0M979.2 459.7h0M957.0 458.8h0M996.9 463.2h0M996.0 475.6h0M960.6 469.6h0M981.6 454.8h0M975.1 467.6h0M983.9 460.7h0M997.8 471.9h0M996.3 461.2h0M986.3 479.8h0M993.5 459.4h0M991.5 474.0h0M1000.6 470.2h0M987.6 473.5h0M968.2 467.7h0M974.5 458.3h0M994.1 474.4h0M984.9 468.1h0M978.2 473.3h0M972.1 453.7h0M991.3 480.1h0M966.6 466.1h0M1000.1 469.3h0M984.5 454.8h0M984.3 457.5h0M986.2 461.7h0M975.6 453.6h0M993.3 477.4h0M978.7 474.1h0M964.7 455.3h0M963.9 475.8h0M977.7 455.6h0M959.0 466.9h0M971.1 455.6h0M988.5 477.6h0M963.3 469.2h0M963.0 465.2h0M963.3 472.8h0M996.2 474.1h0M986.9 468.0h0M979.7 477.3h0M990.0 473.5h0M948.6 467.1h0M960.6 471.4h0M968.0 466.3h0M976.2 470.7h0M996.6 460.5h0M960.9 457.2h0M995.1 483.7h0M974.1 451.6h0M959.7 466.9h0M984.5 456.2h0M952.2 462.1h0M991.7 479.2h0M982.8 461.1h0M992.6 453.8h0M988.7 452.6h0M953.5 473.3h0M984.0 458.8h0M972.6 458.2h0M995.5 472.1h0M985.1 471.8h0M990.2 468.3h0M979.2 467.5h0M988.8 468.9h0M961.1 468.3h0M966.7 480.8h0M982.6 454.4h0M965.7 469.3h0M971.4 464.4h0M965.8 473.5h0M995.5 466.6h0M987.7 473.2h0M934.6 456.4h0M950.1 460.2h0M964.3 457.8h0M954.7 474.0h0M975.3 484.4h0M955.0 481.1h0M989.3 458.8h0M936.5 478.3h0M958.2 460.0h0M962.1 475.1h0M986.3 453.0h0M941.0 459.6h0M939.2 465.0h0M935.5 472.1h0M957.9 455.9h0M979.9 459.1h0M985.3 481.1h0M948.5 456.6h0M1194.5 441.8h0M1197.8 441.5h0M1198.6 442.6h0M1188.7 442.6h0M1187.3 442.2h0M1189.2 441.4h0M1189.7 441.7h0M1189.2 442.7h0M1189.0 441.2h0M1196.9 442.1h0M1235.3 458.8h0M1249.4 459.7h0M1243.5 458.9h0M1230.4 459.3h0M1237.0 452.7h0M1233.3 458.9h0M1231.3 455.6h0M1242.4 449.6h0M1247.7 463.1h0M1242.3 451.6h0M1241.8 456.5h0M1233.1 455.4h0M1238.3 448.6h0M1244.7 447.6h0M1238.5 449.4h0M1245.3 449.2h0M1238.0 453.8h0M1241.7 457.0h0M1233.5 452.5h0M1237.6 462.8h0M1242.5 460.2h0M1232.8 448.3h0M1235.2 450.3h0M1239.4 450.4h0M1230.6 457.6h0M1239.8 458.3h0M1237.3 452.7h0M1233.7 459.3h0M1239.6 449.0h0M1245.5 460.4h0M1247.6 457.5h0M1231.7 460.3h0M1229.4 454.0h0M1242.2 447.8h0M1231.6 450.4h0M1227.4 456.7h0M1239.9 462.2h0M1224.2 457.2h0M1241.6 452.4h0M1245.6 448.0h0M1236.6 455.9h0M1244.9 452.6h0M1247.3 451.8h0M1246.6 463.3h0M1244.6 452.3h0M1271.2 478.1h0M1273.8 454.9h0M1296.3 453.0h0M1269.0 472.1h0M1288.5 453.5h0M1287.6 460.5h0M1269.8 456.5h0M1297.9 466.6h0M1274.0 482.5h0M1294.9 461.9h0M1272.8 467.3h0M1268.4 476.8h0M1269.1 459.3h0M1283.8 458.6h0M1294.7 462.9h0M1268.9 474.6h0M1299.2 462.4h0M1301.9 462.3h0M1269.2 470.2h0M1286.0 470.0h0M1294.9 471.8h0M1264.8 466.8h0M1297.3 458.5h0M1288.0 470.4h0M1298.2 453.5h0M1282.7 472.6h0M1290.0 473.2h0M1284.7 452.2h0M1297.1 474.7h0M1270.7 456.5h0M1299.5 462.7h0M1283.8 460.1h0M1271.9 455.2h0M1285.0 476.5h0M1291.5 457.0h0M1291.6 463.7h0M1273.1 457.3h0M1272.8 479.2h0M1280.4 473.2h0M1268.0 460.6h0M1276.9 458.1h0M1284.4 462.9h0M1280.9 460.4h0M1281.4 461.4h0M1278.4 465.4h0M1272.6 476.1h0M1290.3 473.9h0M1295.9 474.6h0M1288.6 461.7h0M1284.2 468.9h0M1291.6 453.7h0M1297.8 463.8h0M1294.1 476.8h0M1280.6 470.2h0M1278.8 466.8h0M1289.1 456.3h0M1275.4 475.3h0M1263.6 462.0h0M1291.6 458.1h0M1289.8 460.5h0M1280.9 457.2h0M1275.9 481.4h0M1286.2 474.5h0M1298.9 451.2h0M1291.2 455.0h0M1300.0 464.8h0M1300.9 458.5h0M1264.6 473.0h0M1293.4 454.1h0M1295.1 469.0h0M1299.1 454.1h0M1299.8 458.1h0M1270.3 480.3h0M1282.7 472.4h0M1281.4 465.5h0M1282.0 476.8h0M1299.8 462.5h0M1264.6 468.6h0M1271.9 473.0h0M1303.4 453.1h0M1280.6 476.7h0M1295.1 467.4h0M1269.6 473.0h0M1280.8 459.9h0M1276.6 470.6h0M1297.6 457.4h0M1273.9 454.7h0M1294.1 468.3h0M1272.0 477.5h0M1298.2 472.3h0M1272.5 466.8h0M1286.6 453.5h0M1267.3 466.4h0M1266.8 471.5h0M1285.3 471.9h0M1295.6 465.7h0M1292.4 459.2h0M1278.2 456.3h0M1300.7 461.2h0M1295.5 465.1h0M1274.6 474.0h0M1287.6 473.8h0M1278.9 469.9h0M1288.9 469.1h0M1281.9 469.2h0M1280.3 461.1h0M1297.7 467.3h0M1262.7 475.6h0M1280.3 468.2h0M1300.4 472.2h0M1284.9 459.2h0M1292.9 479.6h0M1269.9 455.5h0M1297.7 454.8h0M1270.2 464.1h0M1262.1 471.1h0M1268.6 479.0h0M1288.4 459.7h0M1302.3 459.3h0M1265.0 469.2h0M1301.4 463.6h0M1262.8 465.7h0M1301.5 459.3h0M1264.7 463.8h0M1267.5 470.3h0M1260.7 468.0h0M1299.8 471.4h0M1271.8 457.1h0M1289.4 460.4h0M1301.3 459.5h0M1276.8 462.6h0M1294.5 466.9h0M1278.3 457.8h0M1303.6 452.2h0M1287.6 458.4h0M1290.3 466.0h0M1267.7 477.9h0M1276.7 459.1h0M1289.5 475.6h0M1291.2 452.0h0M1296.4 465.8h0M1273.9 469.5h0M1265.6 469.7h0M1264.8 465.0h0M1292.9 470.7h0M1287.4 460.6h0M1274.3 460.3h0M1281.0 470.9h0M1250.9 452.9h0M1233.3 473.9h0M1237.2 469.5h0M1265.4 449.6h0M1301.7 472.5h0M1283.7 454.4h0M1232.7 459.0h0M1221.8 473.2h0M1290.4 463.6h0M1252.1 472.5h0M1269.2 455.0h0M1298.1 471.1h0M1271.3 458.0h0M1264.5 471.1h0M1220.1 458.6h0M1218.0 464.4h0M1270.5 451.6h0M1276.8 460.3h0M1242.1 473.2h0M1261.6 477.8h0M1263.9 458.4h0M1275.1 450.3h0M1276.6 481.6h0M1226.1 460.8h0M1262.0 474.2h0M1256.1 469.2h0M1287.3 454.6h0M1290.2 480.5h0M1239.3 474.8h0M1259.4 455.2h0M1289.6 466.5h0M1229.3 471.6h0M1277.4 468.7h0M1250.2 463.5h0M1228.1 473.4h0M1228.8 464.7h0M1219.2 466.4h0M1249.5 479.7h0M1241.1 478.0h0M1247.3 478.9h0M1246.0 481.6h0M1222.0 470.0h0M1287.4 471.3h0M1242.6 479.7h0M1240.7 463.4h0M1239.6 480.9h0M1236.5 479.4h0M1286.5 472.3h0M1262.4 463.6h0M1261.3 478.5h0M1243.0 466.3h0M1293.3 466.3h0M1247.9 476.0h0M1237.2 481.4h0M1232.1 468.0h0M1241.3 456.9h0M1229.8 469.0h0" stroke="#00B0F6" stroke-width="2.8" stroke-linecap="round" fill="none"/>
<path d="M1058.9 536.6h0M1060.9 503.8h0M1060.4 502.5h0M1049.1 497.5h0M1048.2 506.9h0M1015.5 507.4h0M1062.7 486.1h0M1058.4 488.0h0M1050.1 521.8h0M1045.1 485.4h0M1029.9 506.6h0M1060.3 480.9h0M1052.8 496.3h0M1061.9 518.5h0M1034.1 509.1h0M1018.5 510.4h0M1053.8 484.9h0M1055.1 478.2h0M1076.6 506.2h0M1073.1 514.5h0M1023.3 518.8h0M1051.5 494.6h0M1057.0 520.7h0M1056.0 483.6h0M1021.7 485.4h0M1042.7 478.6h0M1024.9 518.8h0M1036.9 517.3h0M1026.4 501.4h0M1069.0 493.8h0M1034.3 505.7h0M1018.1 496.9h0M1069.8 525.1h0M1065.7 531.3h0M1046.6 494.0h0M1058.3 483.7h0M1051.0 497.2h0M1061.8 498.6h0M1040.1 482.7h0M1034.3 507.2h0M1034.1 486.9h0M1038.7 479.1h0M1024.4 479.4h0M1047.6 521.9h0M1057.6 525.6h0M1037.9 498.6h0M1014.9 486.6h0M1069.5 488.2h0M1071.6 525.8h0M1038.0 525.8h0M1030.1 485.4h0M1046.9 483.2h0M1026.5 512.0h0M1069.6 497.4h0M1017.4 507.8h0M1029.0 475.8h0M1058.1 507.0h0M1027.3 485.6h0M1059.1 531.5h0M1033.0 508.8h0M1023.8 500.5h0M1049.1 489.6h0M1050.8 505.8h0M1037.4 478.8h0M1046.7 509.3h0M1052.2 529.3h0M1051.0 521.5h0M1073.6 509.2h0M1066.4 506.3h0M1038.8 479.6h0M1042.0 517.5h0M1064.1 529.9h0M1044.7 533.4h0M1034.4 469.9h0M1038.2 505.7h0M1062.6 484.6h0M1048.0 478.0h0M1044.9 521.6h0M1050.0 515.0h0M1050.6 531.9h0M1046.0 492.7h0M1036.1 495.8h0M1070.3 488.2h0M1056.9 507.5h0M1026.2 489.3h0M1021.8 516.7h0M1057.0 493.7h0M1016.5 509.5h0M1032.0 506.4h0M1054.3 468.7h0M1023.9 497.9h0M1066.8 489.8h0M1050.6 535.2h0M1059.0 531.3h0M1062.5 531.5h0M1023.3 495.5h0M1062.4 508.0h0M1072.8 498.4h0M1039.7 480.1h0M1064.7 507.7h0M1029.5 468.8h0M1039.2 493.9h0M1072.1 524.8h0M1056.0 488.3h0M1026.8 481.8h0M1048.4 490.2h0M1034.2 468.9h0M1010.1 500.8h0M1051.8 505.7h0M1076.6 524.4h0M1034.1 505.9h0M1037.3 522.5h0M1020.1 484.2h0M1040.0 506.0h0M1044.7 509.7h0M1067.2 491.1h0M1050.9 533.9h0M1076.6 507.4h0M1032.0 513.2h0M1059.6 515.3h0M1055.7 495.0h0M1058.6 492.8h0M1024.6 475.5h0M1047.1 480.3h0M1028.1 489.0h0M1034.4 497.2h0M1076.8 504.7h0M1046.9 496.1h0M1046.7 524.4h0M1045.0 503.8h0M1032.9 481.3h0M1023.2 474.8h0M1028.3 471.4h0M1037.5 507.9h0M1040.0 511.4h0M1038.5 523.1h0M1056.0 476.9h0M1046.8 486.8h0M1060.7 494.0h0M1011.8 496.8h0M1038.7 515.3h0M1063.2 535.4h0M1030.7 474.4h0M1027.2 511.2h0M1049.5 496.0h0M1023.5 510.9h0M1012.3 503.1h0M1028.5 497.0h0M1051.1 519.1h0M1056.0 498.4h0M1032.0 511.6h0M1045.4 508.8h0M1055.1 501.7h0M1042.9 514.1h0M1029.7 502.5h0M1076.8 524.5h0M1047.2 489.5h0M1020.8 497.2h0M1038.2 498.3h0M1026.3 501.6h0M1048.6 475.6h0M1054.6 517.3h0M1022.0 485.7h0M1010.9 501.0h0M1055.7 496.9h0M1049.6 510.1h0M1043.9 532.0h0M1057.9 499.2h0M1026.5 477.7h0M1053.7 521.0h0M1035.9 474.5h0M1027.7 517.1h0M1062.4 496.1h0M1070.6 495.4h0M1070.8 517.0h0M1014.3 488.3h0M1036.0 501.6h0M1045.6 486.7h0M1073.8 517.9h0M1068.6 528.5h0M1055.0 472.6h0M1030.1 508.5h0M1037.5 483.5h0M1055.1 489.1h0M1041.3 528.4h0M1018.4 511.8h0M1064.5 533.6h0M1035.2 503.4h0M1030.9 492.7h0M1042.7 513.9h0M1072.1 498.2h0M1072.8 523.3h0M1028.2 493.3h0M1056.8 479.9h0M1026.2 481.9h0M1043.7 519.8h0M1056.5 498.9h0M1044.8 477.4h0M1025.3 492.2h0M1033.4 513.8h0M1025.2 484.9h0M1069.7 522.2h0M1073.8 522.0h0M1022.0 502.1h0M1066.9 523.9h0M1024.3 501.7h0M1049.7 469.4h0M1025.4 519.5h0M1055.1 499.3h0M1048.4 504.8h0M1032.6 474.5h0M1060.4 521.6h0M1038.8 521.4h0M1066.4 516.0h0M1065.1 534.9h0M1040.0 521.9h0M1060.1 475.4h0M1049.5 474.8h0M1059.7 491.9h0M1034.7 487.4h0M1065.2 512.6h0M1029.2 519.4h0M1050.7 521.1h0M1057.1 500.4h0M1049.8 507.5h0M1028.3 489.6h0M1064.4 524.7h0M1076.1 515.7h0M1043.7 495.7h0M1057.8 513.1h0M1074.6 519.9h0M1035.2 487.7h0M1038.3 495.7h0M1012.0 502.6h0M1071.4 487.7h0M1060.5 520.7h0M1054.7 509.5h0M1025.8 514.9h0M1049.3 534.9h0M1044.5 492.9h0M1071.9 511.4h0M1032.3 513.2h0M1019.0 481.6h0M1070.4 500.4h0M1064.6 483.4h0M1041.3 484.9h0M1064.6 509.6h0M1035.9 495.0h0M1023.1 483.1h0M1056.8 490.0h0M1015.6 495.1h0M1035.3 496.3h0M1076.6 518.1h0M1040.5 495.9h0M1024.1 479.1h0M1041.5 512.5h0M1015.7 501.3h0M1020.4 509.9h0M1032.5 514.3h0M1063.3 496.4h0M1035.2 474.1h0M1023.1 511.2h0M1065.0 478.2h0M1034.0 505.6h0M1055.5 491.2h0M1034.0 518.1h0M1042.3 498.6h0M1047.8 476.6h0M1041.3 488.8h0M1020.0 504.6h0M1057.6 504.7h0M1043.3 514.5h0M1048.2 516.3h0M1035.1 496.0h0M1032.4 485.3h0M1063.9 527.8h0M1027.9 507.3h0M1040.6 477.7h0M1059.8 505.1h0M1069.3 504.0h0M1063.4 484.1h0M1057.9 495.1h0M1040.9 490.1h0M1024.2 489.4h0M1027.4 481.6h0M1069.7 494.6h0M1047.7 524.2h0M1055.9 479.4h0M1067.2 491.2h0M1066.6 512.6h0M1057.3 506.0h0M1074.9 522.8h0M1014.4 502.9h0M1039.3 473.6h0M1053.0 522.6h0M1024.0 485.5h0M1062.4 504.9h0M1028.6 499.6h0M1070.6 524.1h0M1035.3 514.3h0M1034.4 512.1h0M1068.2 481.4h0M1013.8 488.2h0M1048.9 513.6h0M1028.4 504.0h0M1031.6 508.4h0M1023.0 506.6h0M1021.5 499.1h0M1026.9 512.6h0M1063.0 526.5h0M1046.9 492.7h0M1028.5 503.5h0M1060.8 490.8h0M1050.3 486.9h0M1058.8 502.7h0M1030.1 499.4h0M1036.2 514.5h0M1038.7 508.8h0M1050.7 474.8h0M1043.8 520.0h0M1063.7 519.0h0M1056.1 477.4h0M1037.0 503.5h0M1015.4 507.3h0M1027.0 479.8h0M1075.2 511.2h0M1059.8 510.2h0M1047.9 528.4h0M1012.7 494.6h0M1023.6 509.5h0M1024.6 487.1h0M1072.7 518.1h0M1038.4 494.2h0M1059.8 478.8h0M1059.0 484.2h0M1072.5 527.7h0M1072.5 524.8h0M1028.8 523.5h0M1049.0 485.6h0M1056.6 497.1h0M1058.7 485.4h0M1038.3 515.4h0M1034.4 486.3h0M1045.3 533.8h0M1014.9 485.9h0M1053.4 478.1h0M1022.8 477.9h0M1071.4 515.9h0M1044.3 504.0h0M1021.1 502.1h0M1061.6 506.8h0M1060.0 509.8h0M1070.3 491.7h0M1040.8 524.3h0M1026.2 494.1h0M1067.8 513.1h0M1042.7 469.7h0M1061.9 497.1h0M1025.0 495.1h0M1064.3 534.8h0M1055.6 479.7h0M1018.7 480.4h0M1027.6 511.1h0M1038.5 480.5h0M1015.4 504.6h0M1032.8 503.0h0M1015.8 493.0h0M1043.8 474.4h0M1043.5 526.3h0M1049.7 477.5h0M1052.6 474.3h0M1045.5 480.8h0M1027.8 476.9h0M1055.7 523.9h0M1039.8 508.6h0M1031.7 524.7h0M1056.4 474.0h0M1057.7 478.3h0M1042.1 481.2h0M1042.3 513.5h0M1059.8 491.0h0M1012.1 499.5h0M1072.5 506.5h0M1051.8 521.1h0M1053.1 533.7h0M1075.4 519.3h0M1065.0 478.4h0M1026.9 517.4h0M1049.1 527.7h0M1062.7 491.4h0M1020.3 513.7h0M1016.1 502.6h0M1027.6 496.1h0M1054.2 512.1h0M1051.7 472.8h0M1071.1 517.0h0M1072.0 510.6h0M1053.7 529.5h0M1060.7 512.1h0M1058.6 526.7h0M1035.4 483.1h0M1039.3 526.3h0M1061.4 477.6h0M1022.4 482.9h0M1060.7 485.8h0M1070.7 496.9h0M1021.8 497.1h0M1009.9 497.2h0M1034.9 471.3h0M1068.6 497.5h0M1069.6 530.9h0M1068.5 518.4h0M1048.1 503.7h0M1058.6 509.9h0M1071.4 520.4h0M1039.4 526.8h0M1028.4 495.5h0M1048.8 535.1h0M1054.5 531.7h0M1029.3 514.1h0M1070.7 529.2h0M1057.3 526.2h0M1052.8 506.5h0M1021.8 504.2h0M1022.1 491.9h0M1049.1 487.5h0M1055.8 486.3h0M1055.3 470.6h0M1074.3 512.1h0M1072.5 519.6h0M1035.0 482.4h0M1070.8 514.1h0M1032.8 473.6h0M1053.9 472.7h0M1027.9 523.4h0M1060.0 512.8h0M1050.8 478.2h0M1066.5 531.9h0M1045.6 481.5h0M1014.3 486.2h0M1028.0 504.7h0M1063.0 489.7h0M1065.2 521.0h0M1053.3 470.8h0M1077.2 516.5h0M1050.2 512.3h0M1049.2 478.1h0M1063.4 499.6h0M1063.2 531.2h0M1033.9 523.1h0M1031.9 511.6h0M1026.3 518.2h0M1028.2 497.6h0M1059.1 525.4h0M1018.1 480.5h0M1055.6 517.8h0M1065.0 484.7h0M1043.2 469.0h0M1033.0 509.8h0M1023.2 498.9h0M1056.3 483.8h0M1054.9 496.1h0M1054.1 525.0h0M1056.0 527.8h0M1055.0 522.0h0M1067.2 509.5h0M1045.6 479.7h0M1024.9 474.5h0M1016.1 495.5h0M1028.8 507.2h0M1066.5 487.1h0M1071.1 525.8h0M1021.8 509.1h0M1023.7 482.6h0M1065.0 527.9h0M1034.6 492.3h0M1057.5 505.0h0M1031.4 478.9h0M1024.0 504.6h0M1027.0 502.2h0M1043.5 486.7h0M1016.5 497.4h0M1046.1 524.2h0M1048.4 492.4h0M1073.5 522.2h0M1042.3 499.5h0M1067.3 511.1h0M1046.9 503.9h0M1070.9 492.9h0M1017.5 480.7h0M1025.4 475.2h0M1076.9 506.7h0M1064.3 499.8h0M1044.9 484.1h0M1070.9 497.5h0M1036.8 519.5h0M1042.1 497.7h0M1066.3 497.8h0M1022.5 501.4h0M1029.8 486.3h0M1062.6 492.6h0M1052.2 489.4h0M1062.7 517.0h0M1051.1 480.6h0M1043.5 525.7h0M1063.4 509.1h0M1052.6 480.3h0M1036.4 516.6h0M1057.2 528.0h0M1025.8 477.0h0M1031.4 475.7h0M1075.8 508.0h0M1042.8 472.6h0M1062.4 482.7h0M1027.3 478.0h0M1045.9 488.1h0M1048.4 517.7h0M1024.1 477.7h0M1044.5 496.0h0M1039.7 493.9h0M1019.8 477.1h0M1059.4 512.1h0M1056.6 512.4h0M1044.3 482.1h0M1072.5 505.2h0M1040.5 486.6h0M1036.8 523.7h0M1017.0 509.7h0M1027.4 484.7h0M1029.6 495.8h0M1053.5 496.6h0M1068.4 498.6h0M1064.0 495.7h0M1053.0 518.1h0M1045.0 517.3h0M1075.5 519.4h0M1066.9 529.5h0M1038.9 497.0h0M1020.0 480.4h0M1029.5 497.3h0M1035.2 500.2h0M1044.0 472.4h0M1042.1 530.7h0M1054.2 533.5h0M1068.7 502.5h0M1048.8 526.4h0M1031.6 477.7h0M1061.6 505.6h0M1041.2 477.4h0M1047.2 508.0h0M1058.2 530.5h0M1030.8 497.1h0M1032.4 524.0h0M1039.3 473.5h0M1041.6 478.8h0M1035.0 499.5h0M1071.6 505.9h0M1075.3 516.0h0M1035.5 472.1h0M1054.8 489.0h0M1019.7 512.5h0M1022.9 481.2h0M1058.3 532.2h0M1022.5 485.0h0M1018.3 482.9h0M1024.1 497.3h0M1025.0 514.1h0M1025.1 486.9h0M1037.7 480.3h0M1011.7 501.5h0M1070.7 510.8h0M1029.8 496.2h0M1038.3 490.6h0M1018.3 482.9h0M1031.5 475.7h0M1051.5 482.3h0M1044.1 516.2h0M1043.2 519.4h0M1063.1 499.3h0M1057.0 493.8h0M1028.7 474.4h0M1041.4 526.7h0M1067.6 485.7h0M1024.9 509.7h0M1074.1 500.6h0M1068.9 532.2h0M1057.9 484.0h0M1073.1 505.8h0M1027.5 480.9h0M1042.1 525.1h0M1064.8 530.2h0M1033.7 484.6h0M1044.3 532.7h0M1051.4 528.4h0M1022.1 503.4h0M1072.7 507.8h0M1064.0 524.0h0M1039.4 515.9h0M1056.9 498.8h0M1044.8 524.2h0M1034.1 515.0h0M1047.0 527.0h0M1025.2 500.6h0M1049.8 521.8h0M1032.4 474.1h0M1049.4 510.8h0M1038.5 487.2h0M1032.6 484.6h0M1065.4 494.8h0M1058.4 506.3h0M1024.4 487.8h0M1055.4 527.8h0M1026.5 475.4h0M1021.6 495.1h0M1058.7 531.4h0M1049.8 478.6h0M1034.7 478.5h0M1027.9 508.0h0M1043.5 480.4h0M1052.6 509.9h0M1030.9 489.1h0M1054.2 534.2h0M1052.9 472.0h0M1021.3 497.6h0M1054.0 514.9h0M1028.5 515.4h0M1072.5 500.7h0M1036.1 515.6h0M1069.6 515.7h0M1073.4 522.2h0M1055.6 483.0h0M1016.5 492.1h0M1077.3 520.6h0M1033.0 525.1h0M1012.7 491.6h0M1039.7 527.0h0M1042.6 494.2h0M1032.1 471.9h0M1015.1 499.0h0M1058.3 536.4h0M1064.0 480.9h0M1021.4 513.8h0M1020.3 498.5h0M1042.3 505.8h0M1033.2 473.6h0M1047.1 480.0h0M1053.9 514.5h0M1050.8 482.5h0M1056.4 535.1h0M1032.4 482.4h0M1054.3 527.0h0M1020.0 482.2h0M1043.5 482.7h0M1010.1 498.0h0M1022.5 480.1h0M1049.6 533.6h0M1041.3 506.9h0M1057.4 527.5h0M1050.8 529.1h0M1016.8 493.5h0M1037.4 513.7h0M1074.2 498.1h0M1048.9 496.8h0M1035.2 486.8h0M1059.1 523.4h0M1056.5 498.9h0M1037.1 481.6h0M1049.6 496.3h0M1045.9 502.4h0M1028.9 497.3h0M1038.5 530.2h0M1070.9 488.4h0M1040.3 483.9h0M1042.1 469.5h0M1040.6 500.2h0M1043.4 501.1h0M1029.6 472.4h0M1031.0 492.5h0M1015.5 509.7h0M1023.7 505.1h0M1043.2 512.3h0M1071.1 516.0h0M1067.1 514.1h0M1061.4 502.0h0M1072.1 493.1h0M1046.4 523.3h0M1020.0 502.6h0M1038.3 476.9h0M1073.8 503.4h0M1068.4 487.3h0M1040.8 485.6h0M1049.7 517.1h0M1048.6 508.7h0M1055.2 535.3h0M1067.8 485.5h0M1074.6 499.9h0M1048.4 513.0h0M1051.7 528.9h0M1071.4 490.3h0M1071.0 490.3h0M1056.3 479.5h0M1053.1 489.2h0M1053.8 469.8h0M1040.6 476.6h0M1052.9 505.9h0M1048.6 511.0h0M1026.8 479.2h0M1031.2 471.0h0M1022.4 502.6h0M1035.7 520.8h0M1018.2 482.8h0M1045.0 515.7h0M1030.4 482.8h0M1017.1 493.6h0M1034.9 523.3h0M1025.1 492.0h0M1060.6 482.8h0M1028.2 500.2h0M1070.5 517.5h0M1036.3 526.2h0M1098.8 530.7h0M1088.0 530.3h0M1077.5 548.3h0M1081.7 527.3h0M1079.4 551.9h0M1084.3 533.3h0M1069.5 542.5h0M1081.6 553.5h0M1067.9 539.6h0M1079.1 536.8h0M1068.5 537.0h0M1082.9 531.0h0M1073.9 541.5h0M1099.0 540.1h0M1081.9 535.8h0M1065.6 539.9h0M1085.9 536.0h0M1090.7 544.9h0M1082.2 544.0h0M1083.5 532.1h0M1074.9 547.6h0M1077.0 541.6h0M1070.2 544.8h0M1091.5 550.3h0M1089.3 539.6h0M1071.7 547.1h0M1077.9 535.1h0M1065.7 544.0h0M1089.7 549.2h0M1067.1 531.4h0M1086.7 529.0h0M1086.5 533.1h0M1083.7 549.1h0M1074.9 545.4h0M1085.3 553.6h0M1092.3 546.0h0M1083.0 553.0h0M1085.3 546.7h0M1073.5 528.3h0M1083.5 531.9h0M1100.2 531.9h0M1097.2 535.4h0M1068.7 543.1h0M1074.0 556.3h0M1085.9 528.1h0M1073.5 528.4h0M1080.9 541.6h0M1073.7 546.2h0M1078.9 550.8h0M1088.4 533.1h0M1099.4 541.8h0M1064.7 553.3h0M1093.0 537.0h0M1096.9 549.1h0M1081.1 533.8h0M1082.8 541.5h0M1068.6 541.7h0M1064.2 534.4h0M1088.0 529.7h0M1082.1 529.1h0M1096.6 531.6h0M1100.0 533.8h0M1088.5 527.1h0M1065.2 535.9h0M1098.8 549.8h0M1074.1 550.5h0M1076.7 527.3h0M1098.1 545.7h0M1086.1 528.9h0M1080.2 553.2h0M1083.5 545.1h0M1079.5 536.2h0M1063.2 548.8h0M1094.5 531.5h0M1095.3 536.9h0M1095.5 532.4h0M1073.1 541.5h0M1070.0 533.1h0M1090.3 549.8h0M1075.1 539.7h0M1109.4 505.6h0M1112.9 506.6h0M1111.6 506.3h0M1112.2 506.5h0M1107.7 506.3h0M1115.5 510.5h0M1111.8 506.7h0M1109.9 507.4h0M1106.3 502.4h0M1106.0 503.2h0M1113.0 508.3h0M1111.2 508.8h0M1322.5 522.0h0M1330.8 510.6h0M1324.5 499.9h0M1304.7 508.1h0M1332.4 529.1h0M1310.0 514.4h0M1322.1 505.9h0M1331.9 518.8h0M1332.2 517.8h0M1321.6 477.5h0M1324.4 522.4h0M1313.1 508.1h0M1330.9 527.1h0M1314.4 508.8h0M1322.6 512.8h0M1324.3 514.9h0M1316.4 481.0h0M1326.1 478.1h0M1326.7 504.0h0M1328.9 511.3h0M1314.2 482.3h0M1306.9 509.1h0M1306.4 501.0h0M1326.0 525.0h0M1317.0 495.2h0M1313.3 515.2h0M1329.0 525.1h0M1304.7 509.4h0M1314.6 483.2h0M1328.9 475.4h0M1332.2 517.6h0M1329.9 484.4h0M1309.6 509.4h0M1311.7 519.8h0M1320.3 524.3h0M1335.1 512.0h0M1317.0 482.8h0M1332.2 506.8h0M1317.6 517.5h0M1309.1 515.7h0M1315.2 516.9h0M1322.8 507.2h0M1321.5 526.4h0M1320.3 489.8h0M1321.4 524.3h0M1328.6 497.1h0M1319.1 481.5h0M1315.0 496.2h0M1322.3 509.9h0M1309.2 505.8h0M1319.3 524.3h0M1321.1 480.1h0M1319.0 525.5h0M1329.2 526.9h0M1323.7 522.5h0M1329.2 513.4h0M1331.9 481.5h0M1330.6 495.5h0M1331.2 481.1h0M1311.5 497.6h0M1327.6 479.4h0M1334.1 489.6h0M1330.9 480.9h0M1320.0 491.4h0M1310.9 506.4h0M1315.6 516.4h0M1307.0 505.6h0M1332.4 492.9h0M1328.8 475.3h0M1334.5 513.5h0M1303.6 507.8h0M1319.4 484.7h0M1331.5 505.1h0M1315.6 495.2h0M1317.2 523.3h0M1332.1 521.6h0M1321.4 516.1h0M1319.6 512.9h0M1327.9 487.9h0M1315.9 504.7h0M1309.5 500.6h0M1316.7 521.9h0M1333.5 496.8h0M1333.2 483.0h0M1317.4 515.3h0M1319.0 518.1h0M1325.9 512.4h0M1324.5 501.0h0M1332.9 534.5h0M1332.2 480.3h0M1325.0 492.3h0M1324.6 513.3h0M1332.0 519.1h0M1330.7 497.0h0M1329.8 517.2h0M1322.6 496.8h0M1329.4 530.5h0M1332.0 491.0h0M1307.1 515.6h0M1322.8 516.1h0M1305.4 512.3h0M1325.5 529.2h0M1308.1 501.0h0M1325.5 529.9h0M1331.3 489.8h0M1305.1 511.4h0M1329.5 533.5h0M1318.9 505.1h0M1315.1 488.6h0M1334.2 512.8h0M1325.6 488.1h0M1315.9 492.4h0M1311.3 514.1h0M1322.5 515.3h0M1312.6 507.0h0M1317.7 499.3h0M1322.5 478.0h0M1305.2 504.5h0M1332.6 477.2h0M1320.6 526.4h0M1312.4 506.0h0M1333.1 490.5h0M1315.8 517.9h0M1325.9 486.3h0M1323.4 510.0h0M1312.1 491.6h0M1306.7 510.9h0M1320.6 524.2h0M1315.6 512.3h0M1328.2 482.7h0M1304.1 506.6h0M1330.0 487.9h0M1327.0 519.0h0M1336.7 515.9h0M1310.1 512.1h0M1329.8 487.8h0M1328.6 519.7h0M1336.4 516.3h0M1327.1 486.0h0M1326.3 501.0h0M1310.9 509.4h0M1330.9 507.7h0M1335.7 525.2h0M1317.0 481.5h0M1324.5 497.6h0M1331.7 498.5h0M1306.7 512.1h0M1334.0 484.7h0M1319.2 504.6h0M1332.5 514.2h0M1334.6 521.8h0M1318.2 526.0h0M1307.0 503.7h0M1312.9 511.9h0M1327.8 483.8h0M1314.2 511.0h0M1312.0 503.6h0M1323.2 486.4h0M1326.3 481.6h0M1333.8 478.5h0M1330.2 532.8h0M1318.9 498.9h0M1322.5 518.7h0M1336.3 518.8h0M1328.3 504.8h0M1312.9 492.0h0M1320.9 509.6h0M1317.8 482.4h0M1307.8 497.8h0M1314.9 506.0h0M1330.2 487.3h0M1316.5 502.1h0M1325.8 476.1h0M1322.3 515.0h0M1336.1 512.9h0M1355.7 505.2h0M1362.1 492.9h0M1342.3 495.6h0M1355.8 510.2h0M1366.9 505.9h0M1369.7 515.2h0M1362.3 497.8h0M1365.5 526.2h0M1349.6 506.8h0M1351.4 495.1h0M1348.5 510.1h0M1370.1 509.8h0M1364.3 518.9h0M1364.8 503.6h0M1343.4 504.2h0M1370.6 506.1h0M1362.8 521.5h0M1338.5 504.7h0M1367.5 499.1h0M1353.1 519.4h0M1343.1 504.2h0M1349.5 523.2h0M1352.5 506.6h0M1371.2 505.1h0M1368.9 509.8h0M1360.5 519.0h0M1367.7 510.3h0M1359.1 497.3h0M1362.5 525.2h0M1366.5 514.5h0M1360.8 507.8h0M1353.8 497.1h0M1364.6 514.4h0M1345.6 520.3h0M1364.4 496.1h0M1361.0 498.6h0M1358.6 522.5h0M1346.6 514.9h0M1360.9 522.1h0M1359.0 493.0h0M1348.8 517.8h0M1371.0 516.5h0M1356.2 525.4h0M1351.9 524.7h0M1366.0 511.0h0M1345.8 497.4h0M1351.6 514.8h0M1371.1 518.3h0M1368.2 522.3h0M1339.8 503.0h0M1384.7 528.5h0M1391.2 520.3h0M1370.6 532.1h0M1388.7 535.2h0M1392.2 531.1h0M1405.7 510.3h0M1392.5 524.1h0M1398.7 538.9h0M1384.8 535.8h0M1394.4 515.7h0M1366.1 541.2h0M1398.6 513.6h0M1384.4 527.5h0M1403.0 515.9h0M1406.5 525.2h0M1377.9 523.2h0M1365.9 526.6h0M1366.0 536.7h0M1385.5 553.6h0M1376.4 531.9h0M1403.0 534.2h0M1365.9 536.5h0M1402.9 528.8h0M1387.6 541.0h0M1391.6 547.3h0M1384.5 531.6h0M1402.4 522.4h0M1384.8 533.4h0M1366.4 531.5h0M1389.6 537.9h0M1383.9 537.7h0M1358.5 528.8h0M1404.7 507.5h0M1387.9 530.4h0M1366.0 539.3h0M1392.6 548.5h0M1384.6 554.9h0M1392.2 553.9h0M1386.8 551.3h0M1381.1 529.7h0M1394.4 527.8h0M1401.0 543.4h0M1381.1 530.7h0M1386.4 534.8h0M1390.2 556.5h0M1404.2 529.0h0M1372.4 538.2h0M1392.6 531.2h0M1392.3 549.5h0M1386.8 530.3h0M1389.0 551.8h0M1361.6 536.2h0M1363.0 533.4h0M1366.8 540.3h0M1382.2 537.4h0M1360.0 529.8h0M1386.0 551.4h0M1362.5 531.5h0M1381.8 521.3h0M1406.9 530.1h0M1381.0 524.9h0M1391.1 553.6h0M1386.4 527.3h0M1363.0 530.6h0M1401.6 509.2h0M1400.6 518.9h0M1385.0 534.0h0M1373.0 541.7h0M1386.7 551.5h0M1391.3 525.5h0M1399.8 533.3h0M1385.5 518.6h0M1392.5 520.3h0M1406.6 524.3h0M1405.8 522.1h0M1384.3 550.9h0M1387.0 554.2h0M1380.9 542.1h0M1395.9 522.2h0M1396.8 527.9h0M1401.3 534.4h0M1402.3 511.8h0M1374.3 528.5h0M1362.8 533.7h0M1383.2 539.4h0M1401.2 526.2h0M1384.3 521.3h0M1366.6 540.0h0M1408.7 517.7h0M1379.1 548.5h0M1360.2 556.0h0M1360.6 562.1h0M1365.7 556.4h0M1359.1 556.2h0M1355.3 562.6h0M1359.2 558.6h0M1355.5 559.4h0M1357.9 558.5h0M1369.9 556.4h0M1367.4 561.0h0M1363.9 555.5h0M1368.9 558.0h0M1356.4 559.7h0M1363.8 553.2h0M1371.6 557.6h0M1361.9 554.8h0M1370.4 554.9h0M1370.9 559.2h0M1364.0 561.9h0M1359.2 558.1h0M1367.1 557.5h0M1357.9 554.7h0M1365.1 558.0h0M1357.6 557.6h0M1359.5 558.2h0M1354.8 556.8h0M1362.1 553.1h0M1353.0 557.2h0M1370.7 557.6h0M1372.0 556.0h0M1362.7 559.4h0M1362.4 560.5h0M1353.5 555.9h0M1356.0 560.4h0M1354.4 556.4h0" stroke="#39B600" stroke-width="2.8" stroke-linecap="round" fill="none"/>
<path d="M1068.1 569.2h0M1090.3 569.9h0M1082.2 565.3h0M1066.7 571.5h0M1072.6 566.6h0M1068.5 563.1h0M1083.6 576.6h0M1057.1 571.3h0M1077.8 571.1h0M1085.9 565.6h0M1077.2 570.9h0M1102.1 571.5h0M1085.3 564.5h0M1099.6 567.7h0M1073.0 572.3h0M1078.5 579.2h0M1081.7 561.7h0M1059.1 579.3h0M1077.7 563.2h0M1067.6 561.7h0M1060.7 559.6h0M1105.2 573.3h0M1067.3 559.0h0M1051.0 576.4h0M1079.1 579.0h0M1072.2 566.5h0M1059.8 576.6h0M1058.9 576.7h0M1065.7 574.9h0M1089.1 577.8h0M1080.5 564.7h0M1061.3 561.9h0M1064.7 575.3h0M1076.4 560.1h0M1087.8 561.2h0M1057.7 559.5h0M1064.5 578.7h0M1068.2 565.5h0M1050.5 576.4h0M1065.3 560.5h0M1056.5 573.5h0M1088.9 567.1h0M1057.7 563.7h0M1066.0 562.2h0M1068.9 573.3h0M1083.0 571.4h0M1057.0 561.1h0M1097.0 578.8h0M1057.5 558.3h0M1081.9 558.7h0M1096.9 575.8h0M1062.8 559.8h0M1076.7 573.6h0M1047.5 572.6h0M1052.8 565.1h0M1078.0 563.3h0M1101.2 577.2h0M1089.8 568.2h0M1084.9 564.1h0M1074.0 569.0h0M1071.1 566.7h0M1097.6 579.1h0M1090.4 576.1h0M1063.9 558.2h0M1058.9 567.9h0M1092.2 573.3h0M1101.4 574.3h0M1063.5 557.8h0M1074.8 564.0h0M1098.6 577.2h0M1078.3 574.2h0M1089.9 568.4h0M1072.3 578.3h0M1094.2 569.6h0M1092.5 569.1h0M1064.9 559.4h0M1080.9 576.4h0M1056.0 577.0h0M1079.1 567.6h0M1065.8 559.2h0M1061.6 578.0h0M1096.8 578.2h0M1075.8 567.9h0M1080.9 579.2h0M1049.1 571.5h0M1057.6 572.4h0M1084.2 561.2h0M1073.6 566.2h0M1056.2 565.6h0M1049.1 572.7h0M1069.7 568.2h0M1054.0 573.4h0M1068.4 559.3h0M1077.7 572.8h0M1102.9 576.5h0M1054.5 572.9h0M1071.6 560.3h0M1073.6 577.9h0M1046.3 572.5h0M1078.5 576.7h0M1074.4 562.2h0M1087.5 563.2h0M1085.7 568.7h0M1081.8 577.6h0M1059.1 579.2h0M1080.2 575.0h0M1060.6 579.3h0M1089.5 567.3h0M1058.5 576.6h0M1079.6 579.1h0M1135.5 520.5h0M1134.6 527.9h0M1118.2 530.6h0M1119.3 541.5h0M1121.5 535.7h0M1121.2 534.6h0M1128.8 520.0h0M1118.4 542.0h0M1138.5 537.1h0M1118.1 531.8h0M1120.8 528.4h0M1137.7 526.3h0M1135.2 536.2h0M1140.1 537.9h0M1125.1 521.6h0M1136.8 525.2h0M1133.5 538.5h0M1110.8 537.0h0M1121.7 523.7h0M1132.9 537.7h0M1117.7 540.6h0M1136.2 535.3h0M1128.8 534.1h0M1125.5 521.8h0M1129.1 530.0h0M1131.9 517.4h0M1128.9 519.1h0M1129.0 544.5h0M1133.8 531.6h0M1115.7 548.7h0M1140.8 532.4h0M1112.0 539.3h0M1124.3 529.0h0M1123.5 524.5h0M1115.1 538.3h0M1128.4 530.2h0M1136.5 532.9h0M1129.8 538.9h0M1132.4 541.9h0M1122.7 542.6h0M1365.5 574.9h0M1388.1 580.5h0M1384.8 575.4h0M1387.4 574.5h0M1369.7 579.4h0M1398.9 582.0h0M1366.8 577.5h0M1348.3 578.8h0M1352.7 583.6h0M1359.0 585.1h0M1386.0 581.0h0M1381.6 583.6h0M1387.1 574.7h0M1389.1 573.8h0M1361.4 574.7h0M1359.9 572.2h0M1382.2 585.3h0M1385.0 584.3h0M1377.1 570.6h0M1390.2 581.5h0M1374.7 582.2h0M1362.6 572.2h0M1383.9 581.0h0M1360.8 575.7h0M1387.6 582.0h0M1376.5 585.2h0M1372.1 582.5h0M1386.4 571.9h0M1371.7 580.1h0M1364.1 577.7h0M1380.7 572.3h0M1353.7 575.1h0M1382.2 584.1h0M1364.1 584.6h0M1395.9 582.5h0M1364.4 583.1h0M1362.6 575.9h0M1396.4 576.0h0M1394.1 582.9h0M1375.1 583.7h0M1395.0 582.9h0M1357.2 583.0h0M1381.4 578.4h0M1374.5 580.3h0M1361.2 581.7h0M1371.4 584.4h0M1374.7 585.9h0M1395.1 577.9h0M1373.2 579.0h0M1372.7 573.5h0M1358.5 582.6h0M1366.0 583.4h0M1388.4 580.9h0M1385.6 577.2h0M1379.2 582.1h0M1370.6 581.1h0M1383.5 576.1h0M1376.3 572.5h0M1385.4 584.0h0M1399.2 583.3h0M1359.7 575.3h0M1384.4 574.9h0M1386.6 584.9h0M1394.7 582.7h0M1383.4 577.8h0M1379.5 584.3h0M1378.6 576.0h0M1390.3 577.2h0M1371.7 574.2h0M1352.4 574.8h0M1368.3 583.5h0M1385.4 585.5h0M1354.9 573.2h0M1362.3 577.1h0M1377.1 573.7h0M1359.4 578.3h0M1361.9 575.7h0M1377.5 580.8h0M1378.2 580.4h0M1376.4 576.5h0M1362.1 571.9h0M1362.3 576.0h0M1358.0 574.7h0M1371.8 572.6h0M1390.5 574.9h0M1359.9 575.1h0M1369.1 572.6h0M1378.1 581.0h0M1360.3 580.9h0M1385.4 581.7h0M1365.4 575.8h0M1394.7 581.0h0M1372.6 583.9h0M1387.1 571.5h0M1371.2 586.1h0M1355.4 573.7h0M1385.6 571.3h0M1384.6 572.7h0M1389.0 572.3h0M1353.6 582.8h0M1368.8 576.4h0M1378.4 574.4h0M1366.7 572.8h0M1363.3 575.6h0M1382.1 573.3h0M1377.7 580.8h0M1363.0 585.2h0M1392.4 579.3h0M1384.3 580.9h0M1358.4 579.0h0M1379.4 582.4h0M1397.1 578.2h0M1384.5 571.1h0M1386.4 573.7h0M1391.3 572.8h0M1361.4 571.6h0M1386.8 579.8h0M1365.7 571.5h0M1388.8 578.7h0M1361.1 572.0h0M1353.5 581.6h0M1384.8 585.4h0M1393.7 580.8h0M1387.1 577.7h0M1359.8 579.8h0M1348.8 577.2h0M1360.5 579.5h0M1392.9 583.7h0M1377.6 575.9h0M1390.9 572.1h0M1357.2 584.8h0M1378.0 572.9h0M1367.9 578.0h0M1367.9 581.7h0M1384.3 573.5h0M1399.4 582.5h0M1355.4 583.6h0M1376.5 579.4h0M1388.1 583.8h0M1349.3 580.3h0M1351.9 576.8h0M1388.0 572.4h0M1391.7 580.4h0M1352.2 581.8h0M1382.6 584.0h0M1384.6 573.1h0M1370.1 581.5h0M1371.6 581.1h0M1387.7 575.1h0M1391.5 583.9h0M1383.7 584.5h0M1373.6 573.7h0M1369.4 581.2h0M1360.4 575.8h0M1348.4 579.1h0M1357.2 575.1h0M1364.1 578.9h0M1392.1 576.3h0M1395.6 577.5h0M1373.4 576.2h0M1374.8 585.3h0M1362.7 579.1h0M1375.1 586.0h0M1383.1 579.3h0M1355.4 578.3h0M1392.6 573.2h0M1370.8 574.8h0M1398.4 583.3h0M1376.5 576.1h0M1376.6 586.0h0M1379.4 582.8h0M1380.7 582.0h0M1395.8 575.8h0M1351.6 582.0h0M1383.7 577.2h0M1363.4 577.9h0M1375.7 584.6h0M1398.3 581.8h0M1353.7 578.0h0M1367.4 583.1h0M1398.3 579.3h0M1372.3 576.6h0M1365.9 580.0h0M1361.0 575.8h0M1389.1 579.3h0M1374.2 570.9h0M1363.5 575.4h0M1376.2 576.3h0M1381.4 573.2h0M1368.7 581.2h0M1357.0 584.2h0M1359.4 572.4h0M1393.8 574.5h0M1396.9 579.4h0M1387.5 579.4h0M1361.7 573.1h0M1375.1 572.8h0M1353.0 578.7h0M1362.0 578.5h0M1373.4 580.4h0M1349.9 581.3h0M1387.6 584.1h0M1360.1 572.2h0M1387.2 571.9h0M1362.1 576.3h0M1347.4 578.9h0M1353.1 578.2h0M1357.5 575.9h0M1361.7 579.1h0M1368.0 584.5h0M1375.3 578.1h0M1354.1 583.9h0M1349.6 576.9h0M1349.1 580.5h0M1385.6 572.7h0M1382.3 572.8h0M1389.8 573.7h0M1392.0 583.9h0M1382.4 577.9h0M1363.7 580.1h0M1389.2 575.9h0M1355.5 572.5h0M1382.4 563.4h0M1357.4 572.5h0M1371.9 567.7h0M1357.1 574.4h0M1387.7 571.3h0M1369.4 576.8h0M1375.4 568.4h0M1362.4 577.1h0M1390.3 572.0h0M1366.3 564.1h0M1386.6 568.6h0M1373.8 561.4h0M1363.0 568.3h0M1361.5 572.8h0M1359.2 568.7h0M1371.2 562.7h0M1372.0 567.4h0M1383.9 565.2h0M1359.9 572.8h0M1384.4 571.6h0M1366.3 563.4h0M1356.0 571.1h0M1364.6 572.4h0M1395.4 569.0h0M1389.7 574.8h0M1389.9 569.0h0M1374.1 573.1h0M1376.4 564.2h0M1389.9 570.3h0M1380.5 571.3h0M1382.6 568.6h0M1366.3 569.4h0M1363.5 576.8h0M1382.4 575.6h0M1357.0 566.8h0M1371.6 575.5h0M1377.2 569.5h0M1394.4 568.4h0M1430.4 550.0h0M1422.0 552.7h0M1422.9 541.9h0M1424.7 549.7h0M1418.6 540.2h0M1416.8 541.7h0M1422.8 546.6h0M1422.6 551.6h0M1428.9 540.8h0M1427.9 551.5h0M1431.1 542.1h0M1428.7 534.8h0M1429.7 538.3h0M1414.9 537.0h0M1426.1 550.6h0M1417.3 535.1h0M1427.4 544.2h0M1427.8 534.4h0M1419.9 558.1h0M1417.5 537.0h0M1430.4 540.2h0M1431.1 547.4h0M1424.3 548.5h0M1419.2 543.0h0M1430.3 543.8h0M1413.7 539.6h0M1431.9 541.3h0M1419.7 538.7h0M1417.3 546.7h0M1423.1 541.0h0M1429.5 550.5h0M1432.4 534.5h0M1425.9 542.4h0M1422.3 553.4h0M1415.1 548.7h0" stroke="#9590FF" stroke-width="2.8" stroke-linecap="round" fill="none"/>
<path d="M1038.9 582.5h0M1030.0 589.7h0M1039.0 582.3h0M1033.3 594.2h0M1032.9 586.9h0M1043.0 588.9h0M1041.4 578.4h0M1045.8 583.2h0M1036.6 587.7h0M1038.3 588.6h0M1037.3 581.2h0M1035.9 591.5h0M1042.2 580.7h0M1039.7 581.2h0M1039.4 582.4h0M1028.5 585.5h0M1043.3 579.6h0M1039.8 580.4h0M1040.2 580.1h0M1032.7 586.3h0M1038.2 579.8h0M1040.5 590.8h0M1038.9 585.0h0M1038.1 588.1h0M1032.2 585.0h0M1039.1 584.9h0M1036.4 580.3h0M1038.5 595.8h0M1334.0 592.1h0M1338.8 585.7h0M1334.6 590.8h0M1333.9 588.2h0M1324.9 590.4h0M1324.5 593.4h0M1338.9 586.7h0M1334.9 593.9h0M1339.2 590.0h0M1327.8 591.4h0" stroke="#E76BF3" stroke-width="2.8" stroke-linecap="round" fill="none"/>
<g stroke="#333" stroke-width="0.9" fill="none"><path d="M873.5,596.4 V550"/><path d="M873.5,596.4 H915"/></g>
<polygon points="873.5,547 871.6,551.5 875.4,551.5" fill="#000"/><polygon points="918.5,596.4 914,594.5 914,598.3" fill="#000"/>
<text x="896" y="617" font-size="13.7" font-weight="bold" font-style="normal" fill="#000" text-anchor="middle" >tSNE_1</text>
<text transform="translate(860,573) rotate(-90)" font-size="13.7" font-weight="bold" fill="#000" text-anchor="middle">tSNE_2</text>
<rect x="891.5" y="683" width="534" height="259" fill="none" stroke="#3a3a3a" stroke-width="1.4"/>
<rect x="1429.5" y="683" width="40" height="259" fill="none" stroke="#3a3a3a" stroke-width="1.4"/>
<circle cx="922.6" cy="701.3" r="5.2" fill="#f8caca"/>
<circle cx="975.0" cy="701.3" r="5.0" fill="#ade5e9"/>
<circle cx="1027.3" cy="701.3" r="5.2" fill="#f8caca"/>
<circle cx="1079.7" cy="701.3" r="5.2" fill="#f8caca"/>
<circle cx="1132.1" cy="701.3" r="5.2" fill="#f8caca"/>
<circle cx="1184.5" cy="701.3" r="5.0" fill="#ade5e9"/>
<circle cx="1236.8" cy="701.3" r="5.0" fill="#ade5e9"/>
<circle cx="1289.2" cy="701.3" r="5.0" fill="#ade5e9"/>
<circle cx="1341.6" cy="701.3" r="5.0" fill="#ade5e9"/>
<circle cx="1393.9" cy="701.3" r="5.0" fill="#ade5e9"/>
<circle cx="922.6" cy="733.1" r="5.2" fill="#f8caca"/>
<circle cx="975.0" cy="733.1" r="5.0" fill="#ade5e9"/>
<circle cx="1027.3" cy="733.1" r="6.2" fill="#13afb4"/>
<circle cx="1079.7" cy="733.1" r="5.2" fill="#f8caca"/>
<circle cx="1132.1" cy="733.1" r="5.0" fill="#ade5e9"/>
<circle cx="1184.5" cy="733.1" r="5.0" fill="#ade5e9"/>
<circle cx="1236.8" cy="733.1" r="6.0" fill="#f8caca"/>
<circle cx="1289.2" cy="733.1" r="5.2" fill="#f8caca"/>
<circle cx="1341.6" cy="733.1" r="5.0" fill="#ade5e9"/>
<circle cx="1393.9" cy="733.1" r="5.2" fill="#f8caca"/>
<circle cx="922.6" cy="764.9" r="5.0" fill="#ade5e9"/>
<circle cx="975.0" cy="764.9" r="5.0" fill="#ade5e9"/>
<circle cx="1027.3" cy="764.9" r="5.0" fill="#ade5e9"/>
<circle cx="1079.7" cy="764.9" r="5.0" fill="#ade5e9"/>
<circle cx="1132.1" cy="764.9" r="5.2" fill="#f8caca"/>
<circle cx="1184.5" cy="764.9" r="5.2" fill="#f8caca"/>
<circle cx="1236.8" cy="764.9" r="5.0" fill="#ade5e9"/>
<circle cx="1289.2" cy="764.9" r="6.0" fill="#f8caca"/>
<circle cx="1341.6" cy="764.9" r="5.0" fill="#ade5e9"/>
<circle cx="1393.9" cy="764.9" r="5.0" fill="#ade5e9"/>
<circle cx="922.6" cy="796.7" r="5.0" fill="#ade5e9"/>
<circle cx="975.0" cy="796.7" r="5.0" fill="#ade5e9"/>
<circle cx="1027.3" cy="796.7" r="5.2" fill="#f8caca"/>
<circle cx="1079.7" cy="796.7" r="5.0" fill="#ade5e9"/>
<circle cx="1132.1" cy="796.7" r="5.0" fill="#ade5e9"/>
<circle cx="1184.5" cy="796.7" r="6.2" fill="#13afb4"/>
<circle cx="1236.8" cy="796.7" r="5.0" fill="#ade5e9"/>
<circle cx="1289.2" cy="796.7" r="5.0" fill="#ade5e9"/>
<circle cx="1341.6" cy="796.7" r="5.2" fill="#f8caca"/>
<circle cx="1393.9" cy="796.7" r="5.2" fill="#f8caca"/>
<circle cx="922.6" cy="828.5" r="5.0" fill="#ade5e9"/>
<circle cx="975.0" cy="828.5" r="5.2" fill="#f8caca"/>
<circle cx="1027.3" cy="828.5" r="6.0" fill="#ade5e9"/>
<circle cx="1079.7" cy="828.5" r="5.0" fill="#ade5e9"/>
<circle cx="1132.1" cy="828.5" r="5.2" fill="#f8caca"/>
<circle cx="1184.5" cy="828.5" r="6.0" fill="#ade5e9"/>
<circle cx="1236.8" cy="828.5" r="5.2" fill="#f8caca"/>
<circle cx="1289.2" cy="828.5" r="5.0" fill="#ade5e9"/>
<circle cx="1341.6" cy="828.5" r="5.2" fill="#f8caca"/>
<circle cx="1393.9" cy="828.5" r="5.2" fill="#f8caca"/>
<circle cx="922.6" cy="860.3" r="5.0" fill="#ade5e9"/>
<circle cx="975.0" cy="860.3" r="5.2" fill="#f8caca"/>
<circle cx="1027.3" cy="860.3" r="5.0" fill="#ade5e9"/>
<circle cx="1079.7" cy="860.3" r="5.2" fill="#f8caca"/>
<circle cx="1132.1" cy="860.3" r="5.2" fill="#f8caca"/>
<circle cx="1184.5" cy="860.3" r="5.2" fill="#f8caca"/>
<circle cx="1236.8" cy="860.3" r="5.0" fill="#ade5e9"/>
<circle cx="1289.2" cy="860.3" r="5.0" fill="#ade5e9"/>
<circle cx="1341.6" cy="860.3" r="5.2" fill="#f8caca"/>
<circle cx="1393.9" cy="860.3" r="5.0" fill="#ade5e9"/>
<circle cx="922.6" cy="892.1" r="5.2" fill="#f8caca"/>
<circle cx="975.0" cy="892.1" r="5.2" fill="#f8caca"/>
<circle cx="1027.3" cy="892.1" r="7.0" fill="#f06a6a"/>
<circle cx="1079.7" cy="892.1" r="8.4" fill="#f06a6a"/>
<circle cx="1132.1" cy="892.1" r="5.0" fill="#ade5e9"/>
<circle cx="1184.5" cy="892.1" r="5.0" fill="#ade5e9"/>
<circle cx="1236.8" cy="892.1" r="7.6" fill="#f06a6a"/>
<circle cx="1289.2" cy="892.1" r="5.2" fill="#f8caca"/>
<circle cx="1341.6" cy="892.1" r="5.0" fill="#ade5e9"/>
<circle cx="1393.9" cy="892.1" r="5.2" fill="#f8caca"/>
<circle cx="922.6" cy="923.9" r="5.2" fill="#f8caca"/>
<circle cx="975.0" cy="923.9" r="5.2" fill="#f8caca"/>
<circle cx="1027.3" cy="923.9" r="5.2" fill="#f8caca"/>
<circle cx="1079.7" cy="923.9" r="5.2" fill="#f8caca"/>
<circle cx="1132.1" cy="923.9" r="5.2" fill="#f8caca"/>
<circle cx="1184.5" cy="923.9" r="5.2" fill="#f8caca"/>
<circle cx="1236.8" cy="923.9" r="5.2" fill="#f8caca"/>
<circle cx="1289.2" cy="923.9" r="5.0" fill="#ade5e9"/>
<circle cx="1341.6" cy="923.9" r="5.2" fill="#f8caca"/>
<circle cx="1393.9" cy="923.9" r="5.2" fill="#f8caca"/>
<circle cx="1448.7" cy="701.3" r="8.8" fill="#13afb4"/>
<circle cx="1448.7" cy="764.9" r="2.0" fill="#f8caca"/>
<circle cx="1448.7" cy="796.7" r="8.8" fill="#13afb4"/>
<circle cx="1448.7" cy="828.5" r="7.0" fill="#ade5e9"/>
<circle cx="1448.7" cy="860.3" r="6.6" fill="#ade5e9"/>
<circle cx="1448.7" cy="892.1" r="2.2" fill="#ade5e9"/>
<circle cx="1448.7" cy="923.9" r="5.2" fill="#ade5e9"/>
<polygon points="1448.7,714.5 1469,738 1461,738 1461,757.5 1437,757.5 1437,738 1428.5,738" fill="#c00000"/>
<text x="1163.4" y="662" font-size="22.4" font-weight="bold" font-style="normal" fill="#000" text-anchor="middle" >Candidate genes expression</text>
<text transform="translate(866.5,814) rotate(-90)" font-size="22.2" fill="#000" text-anchor="middle">Candidate genes</text>
<text x="1179" y="967.5" font-size="22.2" font-weight="normal" font-style="normal" fill="#000" text-anchor="middle" >Cell types</text>
<text x="1385" y="681" font-size="24.9" font-weight="bold" font-style="italic" fill="#c00000" text-anchor="middle" >PABPC4</text>
<text transform="translate(1457.5,617.5) rotate(-90)" font-size="24.2" font-weight="bold" fill="#c00000" text-anchor="middle">Adipocyte</text>
<text x="1651.7" y="299.8" font-size="22.3" font-weight="bold" font-style="normal" fill="#000" text-anchor="middle" >shRNA</text>
<text x="1934" y="299.8" font-size="22.4" font-weight="bold" font-style="normal" fill="#000" text-anchor="middle" >Preadipocyte</text>
<text x="1896.4" y="326.7" font-size="22.4" font-weight="bold" font-style="normal" fill="#000" text-anchor="start" >Adipocyte</text>
<path d="M1874.5,321.3 H1894.5 M1889,317.6 L1895,321.3 L1889,325" fill="none" stroke="#000" stroke-width="1.5"/>
<text x="1584" y="349.7" font-size="20" font-weight="normal" font-style="normal" fill="#000" text-anchor="middle" >5’</text>
<text x="1568" y="384.5" font-size="20" font-weight="normal" font-style="normal" fill="#000" text-anchor="middle" >3’</text>
<line x1="1593" y1="357.6" x2="1712" y2="357.6" stroke="#2e75b6" stroke-width="3"/>
<line x1="1580" y1="367" x2="1714.7" y2="367" stroke="#c00000" stroke-width="3"/>
<circle cx="1746" cy="359.3" r="35" fill="none" stroke="#2f5597" stroke-width="2"/>
<polygon points="1648,382 1656,382 1656,424.5 1672.5,424.5 1652,471 1631,424.5 1648,424.5" fill="#4472c4"/>
<circle cx="1651.7" cy="559" r="65.2" fill="none" stroke="#2f5597" stroke-width="8.7"/>
<circle cx="1651.7" cy="559" r="47" fill="none" stroke="#2f5597" stroke-width="8"/>
<text x="1652.5" y="563.6" font-size="22.1" font-weight="bold" font-style="normal" fill="#000" text-anchor="middle" >Plasmid</text>
<path d="M1958.6,365.6 C1998.2,364.2 2026.6,386.8 2043.6,415.1 C2063.4,449.1 2071.9,480.3 2070.5,514.3 C2069.0,553.9 2054.9,585.1 2032.2,604.9 C2009.6,621.9 1981.2,627.0 1952.9,626.1 C1913.3,624.7 1873.6,613.4 1848.1,587.9 C1825.5,565.2 1812.7,531.2 1813.6,491.6 C1814.2,452.0 1831.2,418.0 1862.3,392.5 C1890.6,372.7 1924.6,366.4 1958.6,365.6 Z" fill="#f9d37a" stroke="#d8ae5a" stroke-width="1"/>
<path d="M1933.1,386.8 C1984.1,384.0 2032.2,412.3 2049.2,463.3 C2063.4,508.6 2054.9,565.2 2020.9,593.6 C1986.9,616.2 1935.9,613.4 1899.1,599.2 C1856.6,582.2 1834.0,536.9 1834.0,491.6 C1834.0,443.5 1870.8,389.6 1933.1,386.8 Z" fill="#f6c266"/>
<path d="M1842.5,429.3 C1853.8,420.8 1860.9,426.5 1860.9,443.5 C1859.5,491.6 1870.8,534.1 1907.6,565.2 C1933.1,585.1 1950.1,593.6 1948.7,604.9 C1947.3,613.4 1924.6,610.5 1899.1,599.2 C1856.6,579.4 1834.0,536.9 1834.0,491.6 C1834.0,463.3 1836.8,437.8 1842.5,429.3 Z" fill="#f3ae55"/>
<path d="M1935.9,381.2 C1958.6,369.8 2015.2,384.0 2043.6,429.3 C2060.5,463.3 2063.4,508.6 2054.9,553.9 C2049.2,573.7 2037.9,565.2 2026.6,542.6 C2009.6,502.9 1969.9,468.9 1947.3,435.0 C1930.3,409.5 1924.6,389.6 1935.9,381.2 Z" fill="#fbe3ac" fill-opacity="0.7"/>
<ellipse cx="2008.2" cy="410.0" rx="9" ry="5" transform="rotate(30 2008.2 410.0)" fill="#fff" fill-opacity="0.85"/>
<ellipse cx="2029.4" cy="551.6" rx="27" ry="35" transform="rotate(35 2029.4 551.6)" fill="#f0ac55" stroke="#d49a48" stroke-width="1.5"/>
<ellipse cx="2032.4" cy="555.6" rx="20" ry="27" transform="rotate(35 2029.4 551.6)" fill="#e99a3c"/>
<ellipse cx="2037.4" cy="545.6" rx="18" ry="24" transform="rotate(35 2029.4 551.6)" fill="#f3b866"/>
<ellipse cx="2047.8" cy="527.8" rx="4.5" ry="3.5" fill="#fff" fill-opacity="0.85"/>
<text x="1780" y="533" font-size="22.8" font-weight="bold" font-style="normal" fill="#000" text-anchor="middle" >Transfect</text>
<polygon points="1730,555 1806,555 1806,538 1851.6,558.5 1806,578.8 1806,562.7 1730,562.7" fill="#4472c4"/>
<text x="1915.7" y="502.7" font-size="24.8" font-weight="bold" font-style="italic" fill="#c00000" text-anchor="middle" >Pabpc4</text>
<polygon points="1968.5,463.6 1975.5,463.6 1975.5,500 1986,500 1972,524.5 1958,500 1968.5,500" fill="#1a76c2"/>
<text x="2070.5" y="644" font-size="11.2" font-weight="normal" font-style="normal" fill="#000" text-anchor="middle" >By Figdraw</text>
<polygon points="1927.6,608 1970,608 1970,641 1992,641 1949,673 1906,641 1927.6,641" fill="#f4686c"/>
<polygon points="1493,621 1525.6,621 1525.6,600.5 1558,641.8 1525.6,683 1525.6,664.4 1493,664.4" fill="#f4686c"/>
<path d="M1543,786 V766 Q1543,759.6 1550,759.6 H2082 Q2088.6,759.6 2088.6,766 V786" fill="none" stroke="#4a6cc0" stroke-width="3"/>
<rect x="1521.6" y="791" width="172.5" height="98" rx="12" fill="#e3e6f2"/>
<rect x="1725.8" y="791" width="172.5" height="98" rx="12" fill="#e3e6f2"/>
<rect x="1935" y="791" width="172.5" height="98" rx="12" fill="#e3e6f2"/>
<rect x="1521.6" y="899.7" width="172.5" height="98" rx="12" fill="#e3e6f2"/>
<rect x="1725.8" y="899.7" width="172.5" height="98" rx="12" fill="#e3e6f2"/>
<rect x="1935" y="899.7" width="172.5" height="98" rx="12" fill="#e3e6f2"/>
<text x="1606.5" y="839.3" font-size="22.4" font-weight="normal" font-style="normal" fill="#111" text-anchor="middle" >Morphological</text>
<text x="1608" y="870.9" font-size="22.4" font-weight="normal" font-style="normal" fill="#111" text-anchor="middle" >features</text>
<text x="1811.5" y="838.5" font-size="22.4" font-weight="normal" font-style="normal" fill="#111" text-anchor="middle" >Lipid</text>
<text x="1811.5" y="869" font-size="22.4" font-weight="normal" font-style="normal" fill="#111" text-anchor="middle" >accumulation</text>
<text x="2021" y="838.7" font-size="22.4" font-weight="normal" font-style="normal" fill="#111" text-anchor="middle" >Glucose</text>
<text x="2021" y="869.2" font-size="22.4" font-weight="normal" font-style="normal" fill="#111" text-anchor="middle" >consumption</text>
<text x="1607.5" y="948" font-size="22.4" font-weight="normal" font-style="normal" fill="#111" text-anchor="middle" >Energy</text>
<text x="1606.7" y="980.4" font-size="22.4" font-weight="normal" font-style="normal" fill="#111" text-anchor="middle" >metabolism</text>
<text x="1811.3" y="947.2" font-size="22.4" font-weight="normal" font-style="normal" fill="#111" text-anchor="middle" >Secretion</text>
<text x="1811.6" y="978.8" font-size="22.4" font-weight="normal" font-style="normal" fill="#111" text-anchor="middle" >function</text>
<text x="2019.8" y="946.2" font-size="22.4" font-weight="normal" font-style="normal" fill="#111" text-anchor="middle" >Insulin</text>
<text x="2020.3" y="978.8" font-size="22.4" font-weight="normal" font-style="normal" fill="#111" text-anchor="middle" >signaling</text>
<polygon points="1876.2,801 1882.8,801 1882.8,837.6 1893.5,837.6 1879.5,862.6 1865.5,837.6 1876.2,837.6" fill="#1874c4"/>
<polygon points="2083.2,802.5 2089.8,802.5 2089.8,839 2100.5,839 2086.5,864 2072.5,839 2083.2,839" fill="#1874c4"/>
<polygon points="1671.7,919 1678.3,919 1678.3,955.4 1689,955.4 1675,980.4 1661,955.4 1671.7,955.4" fill="#1874c4"/>
<polygon points="2083.2,919 2089.8,919 2089.8,955.4 2100.5,955.4 2086.5,980.4 2072.5,955.4 2083.2,955.4" fill="#1874c4"/>
<path d="M1859.5,939 C1861,931 1867.5,926.8 1875,926.8 C1883,926.8 1887.6,932.5 1887.6,939 C1887.6,946 1881,949.5 1877,953.5 C1875,956 1874.3,958.5 1874.3,963" fill="none" stroke="#1874c4" stroke-width="7.8"/>
<circle cx="1874.8" cy="970.8" r="5.2" fill="#1874c4"/>
</svg></body></html>
